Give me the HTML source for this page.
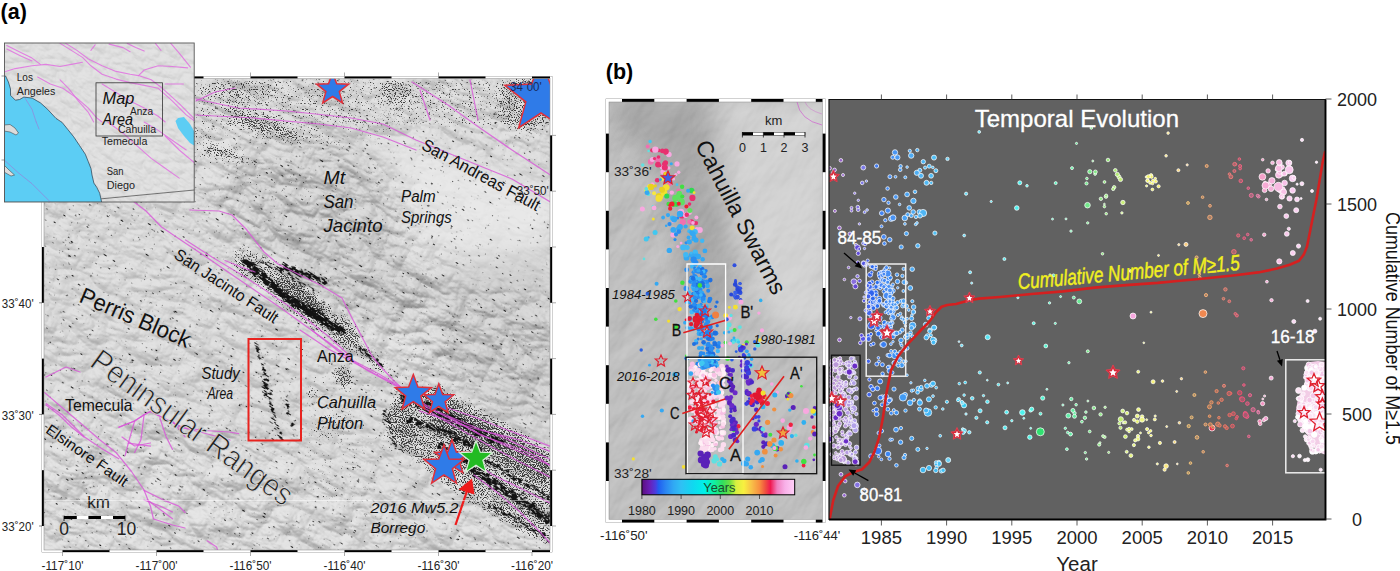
<!DOCTYPE html>
<html><head><meta charset="utf-8"><style>
html,body{margin:0;padding:0;background:#fff;width:1400px;height:571px;overflow:hidden}
svg{display:block}
text{font-family:"Liberation Sans",sans-serif}
</style></head><body>
<svg width="1400" height="571" viewBox="0 0 1400 571">
<defs><clipPath id="clipA"><rect x="44" y="78.5" width="506" height="471.5"/></clipPath><filter id="hsA" x="-400" y="-400" width="1800" height="1800" filterUnits="userSpaceOnUse" color-interpolation-filters="sRGB">
<feTurbulence type="turbulence" baseFrequency="0.02 0.035" numOctaves="5" seed="4" result="t"/>
<feColorMatrix in="t" type="matrix" values="0 0 0 0 0  0 0 0 0 0  0 0 0 0 0  1 0 0 0 0" result="ta"/>
<feDiffuseLighting in="ta" surfaceScale="-8" diffuseConstant="1" lighting-color="#fff">
<feDistantLight azimuth="45" elevation="55"/>
</feDiffuseLighting>
<feColorMatrix type="matrix" values="0.34 0 0 0 0.57  0.34 0 0 0 0.57  0.34 0 0 0 0.57  0 0 0 0 1"/>
</filter><filter id="speck" x="0" y="0" width="1400" height="571" filterUnits="userSpaceOnUse" color-interpolation-filters="sRGB">
<feGaussianBlur in="SourceAlpha" stdDeviation="3" result="d"/>
<feTurbulence type="fractalNoise" baseFrequency="0.85" numOctaves="1" seed="7" result="n0"/>
<feColorMatrix in="n0" type="matrix" values="0 0 0 0 0  0 0 0 0 0  0 0 0 0 0  1 0 0 0 0" result="n"/>
<feComposite in="d" in2="n" operator="arithmetic" k1="0" k2="5" k3="-10" k4="1.8" result="c"/>
<feColorMatrix in="c" type="matrix" values="0 0 0 0 0.18  0 0 0 0 0.18  0 0 0 0 0.18  0 0 0 0.9 0"/>
</filter><filter id="bl3" x="-50%" y="-50%" width="200%" height="200%"><feGaussianBlur stdDeviation="12"/></filter><mask id="mtnA" maskUnits="userSpaceOnUse" x="0" y="0" width="1400" height="571">
<rect x="0" y="0" width="1400" height="571" fill="#999"/>
<g filter="url(#bl3)">
<path d="M230,150 L330,140 L400,200 L420,260 L470,300 L550,300 L550,420 L430,380 L330,330 L260,270 L220,210Z" fill="#fff"/>
<path d="M375,140 L550,170 L550,290 L470,280 L430,240 L400,190Z" fill="#333"/>
<path d="M44,400 L120,380 L200,430 L300,460 L400,500 L550,520 L550,550 L44,550Z" fill="#ccc"/>
<path d="M44,220 L200,200 L230,280 L150,330 L44,320Z" fill="#888"/>
</g></mask><filter id="streak" x="-600" y="-600" width="2000" height="2000" filterUnits="userSpaceOnUse" color-interpolation-filters="sRGB">
<feGaussianBlur in="SourceAlpha" stdDeviation="1.5" result="d"/>
<feTurbulence type="fractalNoise" baseFrequency="0.2 0.7" numOctaves="2" seed="3" result="n0"/>
<feColorMatrix in="n0" type="matrix" values="0 0 0 0 0  0 0 0 0 0  0 0 0 0 0  1 0 0 0 0" result="n"/>
<feComposite in="d" in2="n" operator="arithmetic" k1="0" k2="4.5" k3="-10" k4="2.8" result="c"/>
<feColorMatrix in="c" type="matrix" values="0 0 0 0 0.07  0 0 0 0 0.07  0 0 0 0 0.07  0 0 0 1 0"/>
</filter><filter id="hsI" x="-400" y="-400" width="1800" height="1800" filterUnits="userSpaceOnUse" color-interpolation-filters="sRGB">
<feTurbulence type="turbulence" baseFrequency="0.05 0.08" numOctaves="4" seed="11" result="t"/>
<feColorMatrix in="t" type="matrix" values="0 0 0 0 0  0 0 0 0 0  0 0 0 0 0  1 0 0 0 0" result="ta"/>
<feDiffuseLighting in="ta" surfaceScale="-4" diffuseConstant="1" lighting-color="#fff">
<feDistantLight azimuth="45" elevation="60"/>
</feDiffuseLighting>
<feColorMatrix type="matrix" values="0.3 0 0 0 0.6  0.3 0 0 0 0.6  0.3 0 0 0 0.6  0 0 0 0 1"/>
</filter><clipPath id="clipI"><rect x="4.5" y="43" width="189.7" height="159"/></clipPath><filter id="hsB" x="-400" y="-400" width="1800" height="1800" filterUnits="userSpaceOnUse" color-interpolation-filters="sRGB">
<feTurbulence type="fractalNoise" baseFrequency="0.015 0.03" numOctaves="4" seed="21" result="t"/>
<feColorMatrix in="t" type="matrix" values="0 0 0 0 0  0 0 0 0 0  0 0 0 0 0  1 0 0 0 0" result="ta"/>
<feDiffuseLighting in="ta" surfaceScale="4" diffuseConstant="1" lighting-color="#fff">
<feDistantLight azimuth="135" elevation="50"/>
</feDiffuseLighting>
<feColorMatrix type="matrix" values="0.26 0 0 0 0.55  0.26 0 0 0 0.55  0.26 0 0 0 0.55  0 0 0 0 1"/>
</filter><clipPath id="clipB"><rect x="609" y="102" width="213.5" height="417.5"/></clipPath><filter id="blB" x="-50%" y="-50%" width="200%" height="200%"><feGaussianBlur stdDeviation="10"/></filter><linearGradient id="cbar" x1="0" x2="1" y1="0" y2="0"><stop offset="0.000" stop-color="#5b0f7e"/><stop offset="0.051" stop-color="#6a1fb8"/><stop offset="0.090" stop-color="#4a3ee0"/><stop offset="0.110" stop-color="#2060f0"/><stop offset="0.154" stop-color="#2a84f2"/><stop offset="0.205" stop-color="#30a8f4"/><stop offset="0.256" stop-color="#30c0f4"/><stop offset="0.333" stop-color="#10d8f0"/><stop offset="0.410" stop-color="#00f0e8"/><stop offset="0.474" stop-color="#10f0a0"/><stop offset="0.526" stop-color="#30e060"/><stop offset="0.577" stop-color="#70e040"/><stop offset="0.615" stop-color="#d8f040"/><stop offset="0.667" stop-color="#f8f040"/><stop offset="0.718" stop-color="#f8c048"/><stop offset="0.769" stop-color="#f89040"/><stop offset="0.808" stop-color="#f05040"/><stop offset="0.841" stop-color="#f01850"/><stop offset="0.885" stop-color="#f080c0"/><stop offset="0.936" stop-color="#f8b0e8"/><stop offset="1.000" stop-color="#ffd0f8"/></linearGradient><clipPath id="clipC"><rect x="829" y="99.5" width="496.5" height="420.0"/></clipPath></defs>
<g clip-path="url(#clipA)">
<rect x="44" y="78.5" width="506" height="471.5" fill="#dadada"/>
<g mask="url(#mtnA)"><g transform="rotate(28 300 300)"><rect x="-300" y="-300" width="1200" height="1200" filter="url(#hsA)"/></g></g>
<g filter="url(#bl3)" opacity="1"><path d="M250,150 L330,140 L380,160 L400,220 L425,280 L410,335 L330,315 L270,255 L232,195Z" fill="#000" fill-opacity="0.05"/><path d="M430,265 L552,250 L552,430 L470,400 L430,330Z" fill="#000" fill-opacity="0.06"/><path d="M385,135 L552,190 L552,245 L460,255 L425,240 L405,200Z" fill="#fff" fill-opacity="0.35"/></g>
<g filter="url(#speck)"><rect x="194" y="78" width="356" height="50" fill-opacity="0.38"/><rect x="194" y="128" width="200" height="20" fill-opacity="0.25"/><rect x="44" y="202" width="150" height="50" fill-opacity="0.06"/><ellipse cx="396" cy="92" rx="16" ry="13" fill-opacity="0.35"/><ellipse cx="525" cy="105" rx="28" ry="32" fill-opacity="0.35"/><ellipse cx="240" cy="90" rx="40" ry="12" fill-opacity="0.2"/><path d="M232.0,120.0 262.0,128.0 292.0,138.0" fill="none" stroke="#000" stroke-opacity="0.5" stroke-width="7" stroke-linecap="round" stroke-linejoin="round"/><path d="M206.0,152.0 240.0,157.0 258.0,162.0" fill="none" stroke="#000" stroke-opacity="0.45" stroke-width="7" stroke-linecap="round" stroke-linejoin="round"/><path d="M210.0,147.0 225.0,153.0 240.0,160.0" fill="none" stroke="#000" stroke-opacity="0.5" stroke-width="6" stroke-linecap="round" stroke-linejoin="round"/><path d="M233.0,108.0 250.0,120.0 265.0,134.0" fill="none" stroke="#000" stroke-opacity="0.4" stroke-width="10" stroke-linecap="round" stroke-linejoin="round"/><path d="M265.0,118.0 280.0,128.0 298.0,140.0" fill="none" stroke="#000" stroke-opacity="0.4" stroke-width="10" stroke-linecap="round" stroke-linejoin="round"/><path d="M190.0,140.0 250.0,175.0 330.0,205.0" fill="none" stroke="#000" stroke-opacity="0.22" stroke-width="30" stroke-linecap="round" stroke-linejoin="round"/><path d="M300.0,130.0 340.0,150.0 360.0,165.0" fill="none" stroke="#000" stroke-opacity="0.2" stroke-width="12" stroke-linecap="round" stroke-linejoin="round"/><path d="M246.0,262.0 276.0,281.0 296.0,300.0 318.0,316.0 345.0,334.0" fill="none" stroke="#000" stroke-opacity="0.55" stroke-width="32" stroke-linecap="round" stroke-linejoin="round"/><ellipse cx="300" cy="297" rx="30" ry="11" fill-opacity="0.5" transform="rotate(35 300 297)"/><path d="M340.0,330.0 360.0,350.0 378.0,366.0 400.0,385.0" fill="none" stroke="#000" stroke-opacity="0.3" stroke-width="20" stroke-linecap="round" stroke-linejoin="round"/><path d="M395,392 L440,386 L500,418 L552,448 L552,548 L505,525 L450,490 L400,450 L385,420Z" fill-opacity="0.62"/><path d="M420,392 L470,412 L520,440 L552,458 L552,490 L500,462 L440,435Z" fill-opacity="0.4"/><ellipse cx="395" cy="430" rx="20" ry="28" fill-opacity="0.3"/><path d="M357.0,347.0 370.0,357.0 382.0,368.0" fill="none" stroke="#000" stroke-opacity="0.4" stroke-width="10" stroke-linecap="round" stroke-linejoin="round"/><path d="M340.0,368.0 350.0,385.0" fill="none" stroke="#000" stroke-opacity="0.35" stroke-width="10" stroke-linecap="round" stroke-linejoin="round"/><ellipse cx="340" cy="460" rx="40" ry="50" fill-opacity="0.2"/><ellipse cx="440" cy="380" rx="30" ry="15" fill-opacity="0.15"/><rect x="249" y="340" width="51" height="100" fill-opacity="0.14"/><ellipse cx="300" cy="470" rx="70" ry="40" fill-opacity="0.06"/><ellipse cx="180" cy="470" rx="70" ry="50" fill-opacity="0.0"/><ellipse cx="150" cy="300" rx="60" ry="40" fill-opacity="0.06"/><ellipse cx="330" cy="400" rx="25" ry="40" fill-opacity="0.22"/><ellipse cx="344" cy="376" rx="10" ry="12" fill-opacity="0.5"/><ellipse cx="310" cy="392" rx="6" ry="6" fill-opacity="0.45"/><ellipse cx="305" cy="350" rx="8" ry="10" fill-opacity="0.35"/></g>
<g transform="rotate(33 300 300)" filter="url(#streak)"><g transform="rotate(-33 300 300)"><path d="M245.8,261.6 265.0,278.3 286.0,297.5 308.8,311.5 325.0,322.0 342.0,330.8" fill="none" stroke="#000" stroke-opacity="1.0" stroke-width="8" stroke-linecap="round" stroke-linejoin="round"/><path d="M282.5,266.0 307.0,274.8 324.6,281.8" fill="none" stroke="#000" stroke-opacity="0.95" stroke-width="6" stroke-linecap="round" stroke-linejoin="round"/><path d="M270.0,285.0 295.0,300.0 320.0,312.0" fill="none" stroke="#000" stroke-opacity="0.7" stroke-width="5" stroke-linecap="round" stroke-linejoin="round"/><path d="M250.0,272.0 280.0,292.0 310.0,312.0 335.0,328.0" fill="none" stroke="#000" stroke-opacity="0.65" stroke-width="4" stroke-linecap="round" stroke-linejoin="round"/><path d="M262.0,262.0 290.0,276.0 315.0,292.0" fill="none" stroke="#000" stroke-opacity="0.6" stroke-width="4" stroke-linecap="round" stroke-linejoin="round"/><path d="M405.0,398.0 440.0,412.0 470.0,428.0 500.0,442.0" fill="none" stroke="#000" stroke-opacity="0.75" stroke-width="10" stroke-linecap="round" stroke-linejoin="round"/><path d="M410.0,420.0 445.0,432.0 480.0,450.0" fill="none" stroke="#000" stroke-opacity="0.7" stroke-width="8" stroke-linecap="round" stroke-linejoin="round"/><path d="M440.0,445.0 470.0,465.0 500.0,485.0 530.0,505.0 552.0,520.0" fill="none" stroke="#000" stroke-opacity="0.7" stroke-width="7" stroke-linecap="round" stroke-linejoin="round"/><path d="M470.0,470.0 500.0,490.0 530.0,510.0 552.0,525.0" fill="none" stroke="#000" stroke-opacity="0.7" stroke-width="6" stroke-linecap="round" stroke-linejoin="round"/><path d="M482.0,458.0 510.0,475.0 540.0,492.0 552.0,500.0" fill="none" stroke="#000" stroke-opacity="0.7" stroke-width="5" stroke-linecap="round" stroke-linejoin="round"/><path d="M490.0,505.0 520.0,522.0 550.0,540.0" fill="none" stroke="#000" stroke-opacity="0.65" stroke-width="5" stroke-linecap="round" stroke-linejoin="round"/><path d="M360.0,348.0 372.0,358.0 382.0,366.0" fill="none" stroke="#000" stroke-opacity="0.7" stroke-width="5" stroke-linecap="round" stroke-linejoin="round"/><path d="M384.0,412.0 390.0,430.0 396.0,448.0" fill="none" stroke="#000" stroke-opacity="0.7" stroke-width="4" stroke-linecap="round" stroke-linejoin="round"/><path d="M256.0,344.0 262.0,360.0 266.0,378.0 270.0,400.0 276.0,425.0 282.0,440.0" fill="none" stroke="#000" stroke-opacity="0.72" stroke-width="3.5" stroke-linecap="round" stroke-linejoin="round"/><path d="M284.0,392.0 289.0,415.0 293.0,432.0" fill="none" stroke="#000" stroke-opacity="0.7" stroke-width="3" stroke-linecap="round" stroke-linejoin="round"/><path d="M262.0,375.0 266.0,395.0" fill="none" stroke="#000" stroke-opacity="0.8" stroke-width="3" stroke-linecap="round" stroke-linejoin="round"/></g></g>
<path d="M196.0,99.0 238.0,108.0 287.0,111.0 325.0,115.0 351.0,118.0 383.0,124.0 416.0,140.0 448.0,153.0 480.0,166.0 512.0,179.0 552.0,203.0" fill="none" stroke="#d855d8" stroke-width="1.25" stroke-opacity="0.8" stroke-linejoin="round" stroke-linecap="round" />
<path d="M412.0,82.0 448.0,105.0 480.0,128.0 512.0,150.0 552.0,176.0" fill="none" stroke="#d855d8" stroke-width="1.25" stroke-opacity="0.8" stroke-linejoin="round" stroke-linecap="round" />
<path d="M196.0,115.0 254.0,118.0 319.0,124.0 351.0,128.0 383.0,137.0 416.0,150.0" fill="none" stroke="#d855d8" stroke-width="1.25" stroke-opacity="0.8" stroke-linejoin="round" stroke-linecap="round" />
<path d="M190.0,210.0 219.0,211.0 232.0,215.0 246.0,229.0 264.0,252.0 278.0,264.0 298.0,274.0 322.0,286.0 342.0,298.0 352.0,318.0 362.0,337.0 372.0,356.0 380.0,366.0 394.0,381.0 411.0,396.0 428.0,408.0 453.0,418.0 477.0,428.0 502.0,437.0 552.0,460.0" fill="none" stroke="#d855d8" stroke-width="1.25" stroke-opacity="0.8" stroke-linejoin="round" stroke-linecap="round" />
<path d="M133.5,201.6 146.0,211.0 161.5,227.0 180.8,240.0 204.4,255.8 228.0,272.0 253.0,289.0 278.0,306.0 303.0,324.0 328.0,342.0 354.0,361.0 379.0,374.0 399.0,386.0 416.0,403.0 440.0,418.0 465.0,432.0 490.0,446.0 520.0,462.0 552.0,478.0" fill="none" stroke="#d855d8" stroke-width="1.25" stroke-opacity="0.8" stroke-linejoin="round" stroke-linecap="round" />
<path d="M185.5,240.0 212.3,257.3 240.7,274.2 268.0,292.0 290.0,307.0 305.0,318.0 328.0,336.0 350.0,356.0" fill="none" stroke="#d855d8" stroke-width="1.25" stroke-opacity="0.8" stroke-linejoin="round" stroke-linecap="round" />
<path d="M225.0,260.5 240.7,266.8 255.0,272.0" fill="none" stroke="#d855d8" stroke-width="1.25" stroke-opacity="0.8" stroke-linejoin="round" stroke-linecap="round" />
<path d="M448.0,408.0 477.0,418.0 502.0,428.0 526.0,437.0 552.0,447.0" fill="none" stroke="#d855d8" stroke-width="1.25" stroke-opacity="0.8" stroke-linejoin="round" stroke-linecap="round" />
<path d="M448.0,416.0 480.0,435.0 509.0,445.0 536.0,456.0 552.0,467.0" fill="none" stroke="#d855d8" stroke-width="1.25" stroke-opacity="0.8" stroke-linejoin="round" stroke-linecap="round" />
<path d="M472.0,461.0 493.0,475.0 520.0,488.0 546.0,501.0 552.0,504.0" fill="none" stroke="#d855d8" stroke-width="1.25" stroke-opacity="0.8" stroke-linejoin="round" stroke-linecap="round" />
<path d="M474.0,475.0 498.0,493.0 520.0,512.0 541.0,533.0 552.0,545.0" fill="none" stroke="#d855d8" stroke-width="1.25" stroke-opacity="0.8" stroke-linejoin="round" stroke-linecap="round" />
<path d="M44.7,392.6 59.0,405.0 78.0,421.0 100.0,440.0 116.0,452.5 131.5,471.5 144.0,490.0 150.4,506.0 153.5,519.0 172.5,525.0 185.0,528.0" fill="none" stroke="#d855d8" stroke-width="1.25" stroke-opacity="0.8" stroke-linejoin="round" stroke-linecap="round" />
<path d="M144.0,500.0 160.0,506.0 172.5,512.0" fill="none" stroke="#d855d8" stroke-width="1.25" stroke-opacity="0.8" stroke-linejoin="round" stroke-linecap="round" />
<path d="M46.0,405.0 59.0,415.0 71.5,427.0 84.0,437.0" fill="none" stroke="#d855d8" stroke-width="1.25" stroke-opacity="0.8" stroke-linejoin="round" stroke-linecap="round" />
<path d="M119.0,427.0 134.6,421.0 144.0,414.7 150.4,411.5 163.0,417.8 182.0,427.3 200.0,432.0 230.0,440.0" fill="none" stroke="#d855d8" stroke-width="1.25" stroke-opacity="0.8" stroke-linejoin="round" stroke-linecap="round" />
<path d="M122.0,437.0 134.6,446.0 150.4,443.0" fill="none" stroke="#d855d8" stroke-width="1.25" stroke-opacity="0.8" stroke-linejoin="round" stroke-linecap="round" />
<path d="M46.0,377.0 66.0,367.0 80.0,372.0" fill="none" stroke="#d855d8" stroke-width="1.25" stroke-opacity="0.8" stroke-linejoin="round" stroke-linecap="round" />
<path d="M420.0,90.0 430.0,120.0" fill="none" stroke="#d855d8" stroke-width="1.25" stroke-opacity="0.8" stroke-linejoin="round" stroke-linecap="round" />
<path d="M470.0,80.0 478.0,120.0" fill="none" stroke="#d855d8" stroke-width="1.25" stroke-opacity="0.8" stroke-linejoin="round" stroke-linecap="round" />
<path d="M196.0,101.0 215.0,92.0 235.0,88.0" fill="none" stroke="#d855d8" stroke-width="1.25" stroke-opacity="0.8" stroke-linejoin="round" stroke-linecap="round" />
<path d="M300.0,330.0 328.9,349.3 357.8,364.7 386.7,380.0 400.0,387.8 434.9,410.9 480.0,434.0 520.0,452.0 552.0,466.0" fill="none" stroke="#d855d8" stroke-width="1.25" stroke-opacity="0.8" stroke-linejoin="round" stroke-linecap="round" />
<path d="M311.6,330.0 338.5,351.2 367.4,370.5 396.4,386.0" fill="none" stroke="#d855d8" stroke-width="1.25" stroke-opacity="0.8" stroke-linejoin="round" stroke-linecap="round" />
<path d="M419.5,410.9 454.0,422.5 480.0,430.0 520.0,440.0 552.0,452.0" fill="none" stroke="#d855d8" stroke-width="1.25" stroke-opacity="0.8" stroke-linejoin="round" stroke-linecap="round" />
<path d="M46.3,403.7 62.1,414.7 84.2,436.8 103.1,449.4 118.8,458.8" fill="none" stroke="#d855d8" stroke-width="1.25" stroke-opacity="0.8" stroke-linejoin="round" stroke-linecap="round" />
<path d="M118.8,427.3 134.6,421.0 144.1,414.7 150.4,411.5 163.0,417.8 181.9,427.3 204.0,430.5 229.2,432.0 238.7,433.6" fill="none" stroke="#d855d8" stroke-width="1.25" stroke-opacity="0.8" stroke-linejoin="round" stroke-linecap="round" />
<path d="M134.6,421.0 128.3,443.1 125.1,455.7" fill="none" stroke="#d855d8" stroke-width="1.25" stroke-opacity="0.8" stroke-linejoin="round" stroke-linecap="round" />
<path d="M144.1,414.7 140.9,439.9 134.6,452.5" fill="none" stroke="#d855d8" stroke-width="1.25" stroke-opacity="0.8" stroke-linejoin="round" stroke-linecap="round" />
<path d="M159.8,417.8 166.1,436.8 172.5,449.4" fill="none" stroke="#d855d8" stroke-width="1.25" stroke-opacity="0.8" stroke-linejoin="round" stroke-linecap="round" />
<path d="M172.5,421.0 185.1,436.8" fill="none" stroke="#d855d8" stroke-width="1.25" stroke-opacity="0.8" stroke-linejoin="round" stroke-linecap="round" />
<path d="M128.3,443.1 150.4,446.2" fill="none" stroke="#d855d8" stroke-width="1.25" stroke-opacity="0.8" stroke-linejoin="round" stroke-linecap="round" />
<path d="M144.1,490.4 163.0,499.8 178.8,506.1 185.1,512.5" fill="none" stroke="#d855d8" stroke-width="1.25" stroke-opacity="0.8" stroke-linejoin="round" stroke-linecap="round" />
<path d="M147.2,499.8 159.8,509.3 172.5,518.8" fill="none" stroke="#d855d8" stroke-width="1.25" stroke-opacity="0.8" stroke-linejoin="round" stroke-linecap="round" />
<path d="M207.1,540.8 216.6,547.1 219.8,556.6" fill="none" stroke="#d855d8" stroke-width="1.25" stroke-opacity="0.8" stroke-linejoin="round" stroke-linecap="round" />
<rect x="248.5" y="339" width="52.5" height="101.5" fill="none" stroke="#e8231f" stroke-width="2"/>
<path d="M332.6,72.6 336.7,83.7 348.6,84.2 339.3,91.6 342.5,103.0 332.6,96.5 322.7,103.0 325.9,91.6 316.6,84.2 328.5,83.7Z" fill="#2f7be8" stroke="#e0303a" stroke-width="1.5" />
<path d="M541.0,59.0 550.4,84.1 577.1,85.3 556.2,101.9 563.3,127.7 541.0,113.0 518.7,127.7 525.8,101.9 504.9,85.3 531.6,84.1Z" fill="#2f7be8" stroke="#e0303a" stroke-width="1.5" />
<text x="541.7" y="91.0" font-size="12.5" fill="#1a2a5a" text-anchor="end" textLength="31.7" lengthAdjust="spacingAndGlyphs" >34˚00'</text>
<path d="M413.3,374.6 418.0,387.1 431.4,387.7 420.9,396.1 424.5,409.0 413.3,401.6 402.1,409.0 405.7,396.1 395.2,387.7 408.6,387.1Z" fill="#2f7be8" stroke="#e0303a" stroke-width="1.5" />
<path d="M438.8,384.0 442.7,394.4 453.7,394.8 445.1,401.7 448.0,412.4 438.8,406.3 429.6,412.4 432.5,401.7 423.9,394.8 434.9,394.4Z" fill="#2f7be8" stroke="#e0303a" stroke-width="1.5" />
<path d="M452.0,440.0 456.4,451.9 469.1,452.4 459.2,460.3 462.6,472.6 452.0,465.6 441.4,472.6 444.8,460.3 434.9,452.4 447.6,451.9Z" fill="#2f7be8" stroke="#e0303a" stroke-width="1.5" />
<path d="M444.0,445.0 449.2,458.9 464.0,459.5 452.4,468.7 456.3,483.0 444.0,474.8 431.7,483.0 435.6,468.7 424.0,459.5 438.8,458.9Z" fill="#2f7be8" stroke="#e0303a" stroke-width="1.5" />
<path d="M476.0,440.7 480.3,452.1 492.5,452.7 482.9,460.2 486.2,472.0 476.0,465.3 465.8,472.0 469.1,460.2 459.5,452.7 471.7,452.1Z" fill="#22bb22" stroke="#d8f0d8" stroke-width="1.2" />
<line x1="455.5" y1="525" x2="468" y2="488" stroke="#ee1c1c" stroke-width="2.2"/>
<path d="M472,478.5 L474.5,494.5 L458.5,489.5Z" fill="#ee1c1c"/>
<text x="323.5" y="184.0" font-size="19" fill="#111" font-style="italic" textLength="21.6" lengthAdjust="spacingAndGlyphs" >Mt</text>
<text x="323.5" y="207.7" font-size="19" fill="#111" font-style="italic" textLength="30.0" lengthAdjust="spacingAndGlyphs" >San</text>
<text x="323.5" y="232.0" font-size="19" fill="#111" font-style="italic" textLength="59.0" lengthAdjust="spacingAndGlyphs" >Jacinto</text>
<text x="401.0" y="201.7" font-size="16" fill="#111" font-style="italic" textLength="34.6" lengthAdjust="spacingAndGlyphs" >Palm</text>
<text x="401.0" y="222.6" font-size="16" fill="#111" font-style="italic" textLength="50.7" lengthAdjust="spacingAndGlyphs" >Springs</text>
<text x="420.4" y="148.5" font-size="17" fill="#111" textLength="132.0" lengthAdjust="spacingAndGlyphs" transform="rotate(28.47 420.4 148.5)" >San Andreas Fault</text>
<text x="548.8" y="194.5" font-size="12.5" fill="#222" text-anchor="end" textLength="32.0" lengthAdjust="spacingAndGlyphs" >33˚50'</text>
<text x="173.0" y="257.5" font-size="16.5" fill="#111" textLength="120.9" lengthAdjust="spacingAndGlyphs" transform="rotate(33.36 173.0 257.5)" >San Jacinto Fault</text>
<text x="78.0" y="301.6" font-size="23" fill="#111" textLength="118.0" lengthAdjust="spacingAndGlyphs" transform="rotate(23.15 78.0 301.6)" >Perris Block</text>
<text x="88.3" y="365.5" font-size="32" fill="#222" textLength="241.3" lengthAdjust="spacingAndGlyphs" transform="rotate(35.93 88.3 365.5)" stroke="#d6d6d6" stroke-width="0.9" paint-order="normal">Peninsular Ranges</text>
<text x="201.5" y="378.8" font-size="16" fill="#111" font-style="italic" textLength="38.2" lengthAdjust="spacingAndGlyphs" >Study</text>
<text x="207.4" y="398.8" font-size="16" fill="#111" font-style="italic" textLength="25.6" lengthAdjust="spacingAndGlyphs" >Area</text>
<text x="65.0" y="411.4" font-size="16" fill="#111" textLength="67.5" lengthAdjust="spacingAndGlyphs" >Temecula</text>
<text x="44.7" y="432.0" font-size="15" fill="#111" textLength="96.3" lengthAdjust="spacingAndGlyphs" transform="rotate(34.98 44.7 432.0)" >Elsinore Fault</text>
<text x="317.0" y="361.7" font-size="16" fill="#111" textLength="36.6" lengthAdjust="spacingAndGlyphs" >Anza</text>
<text x="317.0" y="408.2" font-size="16.5" fill="#111" font-style="italic" textLength="59.0" lengthAdjust="spacingAndGlyphs" >Cahuilla</text>
<text x="317.0" y="429.0" font-size="16.5" fill="#111" font-style="italic" textLength="46.0" lengthAdjust="spacingAndGlyphs" >Pluton</text>
<text x="370.6" y="513.2" font-size="15.5" fill="#111" font-style="italic" textLength="88.0" lengthAdjust="spacingAndGlyphs" >2016 Mw5.2</text>
<text x="370.6" y="533.2" font-size="15.5" fill="#111" font-style="italic" textLength="54.6" lengthAdjust="spacingAndGlyphs" >Borrego</text>
<text x="87.3" y="507.9" font-size="16" fill="#222" textLength="22.7" lengthAdjust="spacingAndGlyphs" >km</text>
<rect x="64" y="516" width="61" height="3" fill="#fff"/>
<rect x="64" y="516" width="12.8" height="3"/>
<rect x="88.4" y="516" width="12.6" height="3"/>
<rect x="113" y="516" width="12.0" height="3"/>
<path d="M64,515.5 V521 M125,515.5 V521" stroke="#000" stroke-width="0.8"/>
<text x="64.0" y="535.0" font-size="17.5" fill="#222" text-anchor="middle" >0</text>
<text x="126.5" y="535.0" font-size="17.5" fill="#222" text-anchor="middle" >10</text>
<line x1="44" y1="500.5" x2="550" y2="500.5" stroke="#fff" stroke-opacity="0.6" stroke-width="0.8"/>
</g>
<rect x="42" y="76.5" width="510" height="475.5" fill="none" stroke="#666" stroke-width="0.6"/>
<rect x="43.0" y="77.5" width="508" height="473.5" fill="none" stroke="#fff" stroke-width="2"/>
<rect x="62.5" y="76.5" width="47.0" height="2"/>
<rect x="62.5" y="550" width="47.0" height="2"/>
<rect x="156.5" y="76.5" width="47.0" height="2"/>
<rect x="156.5" y="550" width="47.0" height="2"/>
<rect x="250.5" y="76.5" width="47.0" height="2"/>
<rect x="250.5" y="550" width="47.0" height="2"/>
<rect x="344.5" y="76.5" width="47.0" height="2"/>
<rect x="344.5" y="550" width="47.0" height="2"/>
<rect x="438.5" y="76.5" width="47.0" height="2"/>
<rect x="438.5" y="550" width="47.0" height="2"/>
<rect x="532" y="76.5" width="18.0" height="2"/>
<rect x="532" y="550" width="18.0" height="2"/>
<rect x="42" y="135.4" width="2" height="55.8"/>
<rect x="550" y="135.4" width="2" height="55.8"/>
<rect x="42" y="247" width="2" height="55.8"/>
<rect x="550" y="247" width="2" height="55.8"/>
<rect x="42" y="358.6" width="2" height="55.8"/>
<rect x="550" y="358.6" width="2" height="55.8"/>
<rect x="42" y="470.2" width="2" height="55.8"/>
<rect x="550" y="470.2" width="2" height="55.8"/>
<rect x="44" y="78.5" width="506" height="471.5" fill="none" stroke="#888" stroke-width="0.5"/>
<path d="M250.5,72.5 V76.5 M344.5,72.5 V76.5 M438.5,72.5 V76.5 M62.5,552 V556 M156.5,552 V556 M250.5,552 V556 M344.5,552 V556 M438.5,552 V556 M532,552 V556 M552,135.4 H556 M552,191.2 H556 M552,247 H556 M552,302.8 H556 M552,358.6 H556 M552,414.4 H556 M552,470.2 H556 M552,526 H556" stroke="#888" stroke-width="0.7"/>
<text x="33.6" y="308.2" font-size="12.5" fill="#222" text-anchor="end" textLength="31.8" lengthAdjust="spacingAndGlyphs" >33˚40'</text>
<line x1="39" y1="302.8" x2="42" y2="302.8" stroke="#333" stroke-width="0.6"/>
<text x="33.6" y="419.8" font-size="12.5" fill="#222" text-anchor="end" textLength="31.8" lengthAdjust="spacingAndGlyphs" >33˚30'</text>
<line x1="39" y1="414.4" x2="42" y2="414.4" stroke="#333" stroke-width="0.6"/>
<text x="33.6" y="531.4" font-size="12.5" fill="#222" text-anchor="end" textLength="31.8" lengthAdjust="spacingAndGlyphs" >33˚20'</text>
<line x1="39" y1="526" x2="42" y2="526" stroke="#333" stroke-width="0.6"/>
<text x="62.5" y="570.0" font-size="12.5" fill="#222" text-anchor="middle" textLength="42.0" lengthAdjust="spacingAndGlyphs" >-117˚10'</text>
<text x="156.5" y="570.0" font-size="12.5" fill="#222" text-anchor="middle" textLength="42.0" lengthAdjust="spacingAndGlyphs" >-117˚00'</text>
<text x="250.5" y="570.0" font-size="12.5" fill="#222" text-anchor="middle" textLength="42.0" lengthAdjust="spacingAndGlyphs" >-116˚50'</text>
<text x="344.5" y="570.0" font-size="12.5" fill="#222" text-anchor="middle" textLength="42.0" lengthAdjust="spacingAndGlyphs" >-116˚40'</text>
<text x="438.5" y="570.0" font-size="12.5" fill="#222" text-anchor="middle" textLength="42.0" lengthAdjust="spacingAndGlyphs" >-116˚30'</text>
<text x="532.0" y="570.0" font-size="12.5" fill="#222" text-anchor="middle" textLength="42.0" lengthAdjust="spacingAndGlyphs" >-116˚20'</text>
<text x="0.6" y="18.6" font-size="21.5" fill="#000" font-weight="bold" >(a)</text>
<g clip-path="url(#clipI)">
<rect x="4.5" y="43" width="189.7" height="159" fill="#e2e2e2"/>
<g opacity="0.35"><g transform="rotate(30 100 120)"><rect x="-100" y="-100" width="400" height="400" filter="url(#hsI)"/></g></g>
<path d="M4.5,76.0 5.6,76.0 8.4,82.0 10.5,89.0 10.5,95.3 15.4,100.2 19.6,99.5 23.8,97.1 32.2,98.1 40.6,103.0 47.6,109.3 56.0,118.4 62.1,122.4 67.9,129.6 73.7,136.8 79.5,145.5 85.3,154.2 88.2,161.4 91.0,168.6 92.0,175.0 93.9,183.1 96.8,187.4 99.7,193.2 101.7,202.4 4.5,202.4Z" fill="#5ccdf4" stroke="#2a3a4a" stroke-width="0.7"/>
<path d="M4.0,125.0 10.0,124.5 15.0,128.0 18.5,133.0 16.0,135.0 10.0,132.0 4.0,131.0Z" fill="#dcdcdc" stroke="#333" stroke-width="0.5"/>
<path d="M4.0,165.0 9.0,170.0 14.5,175.0 11.0,176.0 4.0,172.0Z" fill="#dcdcdc" stroke="#333" stroke-width="0.5"/>
<path d="M178.0,118.0 184.0,117.0 190.0,124.0 194.0,131.0 195.0,146.0 190.0,143.0 184.0,136.0 178.0,128.0 175.5,121.0Z" fill="#5ccdf4"/>
<path d="M101.5,198.8 194.5,190.0" fill="none" stroke="#444" stroke-width="0.7" stroke-opacity="1" stroke-linejoin="round" stroke-linecap="round" />
<path d="M4.0,72.1 15.2,68.6 32.0,65.8 46.0,64.4 60.1,66.5 71.3,64.4 82.5,62.3" fill="none" stroke="#e070e0" stroke-width="1.1" stroke-opacity="0.85" stroke-linejoin="round" stroke-linecap="round" />
<path d="M6.8,45.5 20.8,52.5 32.0,58.1 40.4,64.4" fill="none" stroke="#e070e0" stroke-width="1.1" stroke-opacity="0.85" stroke-linejoin="round" stroke-linecap="round" />
<path d="M6.8,49.0 20.8,56.0 32.0,60.9" fill="none" stroke="#e070e0" stroke-width="1.1" stroke-opacity="0.85" stroke-linejoin="round" stroke-linecap="round" />
<path d="M60.1,43.4 71.3,50.4 82.5,57.4 90.9,65.8 102.1,74.2 116.1,79.1 130.1,82.6 144.2,85.4 158.2,88.3 172.2,100.9 186.2,114.9 196.0,122.0" fill="none" stroke="#e070e0" stroke-width="1.1" stroke-opacity="0.85" stroke-linejoin="round" stroke-linecap="round" />
<path d="M65.7,43.4 76.9,50.4 88.1,58.8 102.1,65.8 116.1,71.4 130.1,74.2 138.5,75.6 151.2,79.8 162.4,88.3 179.2,103.7 190.4,114.9 196.0,120.5" fill="none" stroke="#e070e0" stroke-width="1.1" stroke-opacity="0.85" stroke-linejoin="round" stroke-linecap="round" />
<path d="M138.5,75.6 144.2,70.0 158.2,65.8 172.2,66.5 187.6,67.9" fill="none" stroke="#e070e0" stroke-width="1.1" stroke-opacity="0.85" stroke-linejoin="round" stroke-linecap="round" />
<path d="M90.9,50.4 95.1,44.8" fill="none" stroke="#e070e0" stroke-width="1.1" stroke-opacity="0.85" stroke-linejoin="round" stroke-linecap="round" />
<path d="M109.1,44.1 123.1,47.6 130.1,51.8" fill="none" stroke="#e070e0" stroke-width="1.1" stroke-opacity="0.85" stroke-linejoin="round" stroke-linecap="round" />
<path d="M127.3,43.4 135.7,47.6 144.2,51.1" fill="none" stroke="#e070e0" stroke-width="1.1" stroke-opacity="0.85" stroke-linejoin="round" stroke-linecap="round" />
<path d="M155.4,43.4 161.0,50.4" fill="none" stroke="#e070e0" stroke-width="1.1" stroke-opacity="0.85" stroke-linejoin="round" stroke-linecap="round" />
<path d="M170.8,43.4 179.2,53.2 190.4,67.2" fill="none" stroke="#e070e0" stroke-width="1.1" stroke-opacity="0.85" stroke-linejoin="round" stroke-linecap="round" />
<path d="M37.6,77.0 50.3,84.0 62.9,88.3 76.9,98.1 88.1,107.9 96.5,117.7 102.1,122.0" fill="none" stroke="#e070e0" stroke-width="1.1" stroke-opacity="0.85" stroke-linejoin="round" stroke-linecap="round" />
<path d="M60.1,79.8 68.5,88.3 78.3,100.9 88.1,112.1 93.7,122.0" fill="none" stroke="#e070e0" stroke-width="1.1" stroke-opacity="0.85" stroke-linejoin="round" stroke-linecap="round" />
<path d="M165.2,84.0 183.4,84.0" fill="none" stroke="#e070e0" stroke-width="1.1" stroke-opacity="0.85" stroke-linejoin="round" stroke-linecap="round" />
<path d="M102.1,84.0 116.1,92.5 130.1,100.9 144.2,107.9 158.2,116.3 165.2,122.0" fill="none" stroke="#e070e0" stroke-width="1.1" stroke-opacity="0.85" stroke-linejoin="round" stroke-linecap="round" />
<path d="M107.7,122.0 123.1,133.2 137.1,145.8 151.2,158.4 165.2,168.3 179.2,178.1" fill="none" stroke="#e070e0" stroke-width="1.1" stroke-opacity="0.85" stroke-linejoin="round" stroke-linecap="round" />
<path d="M144.2,122.0 158.2,130.4 172.2,140.2 186.2,150.0" fill="none" stroke="#e070e0" stroke-width="1.1" stroke-opacity="0.85" stroke-linejoin="round" stroke-linecap="round" />
<path d="M165.2,136.0 179.2,150.0 196.0,164.0" fill="none" stroke="#e070e0" stroke-width="1.1" stroke-opacity="0.85" stroke-linejoin="round" stroke-linecap="round" />
<path d="M4.0,159.8 18.0,172.5 32.0,183.7 46.0,197.7 50.3,202.0" fill="none" stroke="#9a7ad8" stroke-width="0.9" stroke-opacity="0.7" stroke-linejoin="round" stroke-linecap="round" />
<path d="M25.0,98.1 32.0,109.3 36.2,122.0" fill="none" stroke="#9a7ad8" stroke-width="0.9" stroke-opacity="0.7" stroke-linejoin="round" stroke-linecap="round" />
<path d="M36.2,122.0 39.0,129.0" fill="none" stroke="#9a7ad8" stroke-width="0.9" stroke-opacity="0.7" stroke-linejoin="round" stroke-linecap="round" />
<rect x="96" y="82.8" width="66.4" height="53.2" fill="none" stroke="#333" stroke-width="0.8"/>
<text x="16.8" y="80.9" font-size="10" fill="#222" textLength="16.1" lengthAdjust="spacingAndGlyphs" >Los</text>
<text x="16.8" y="94.6" font-size="10" fill="#222" textLength="38.5" lengthAdjust="spacingAndGlyphs" >Angeles</text>
<text x="102.6" y="104.0" font-size="16" fill="#111" font-style="italic" textLength="31.8" lengthAdjust="spacingAndGlyphs" >Map</text>
<text x="102.6" y="124.7" font-size="16" fill="#111" font-style="italic" textLength="30.4" lengthAdjust="spacingAndGlyphs" >Area</text>
<text x="130.0" y="115.0" font-size="10" fill="#222" textLength="23.0" lengthAdjust="spacingAndGlyphs" >Anza</text>
<text x="118.0" y="133.0" font-size="10" fill="#222" textLength="38.0" lengthAdjust="spacingAndGlyphs" >Cahuilla</text>
<text x="101.7" y="144.6" font-size="10" fill="#222" textLength="45.7" lengthAdjust="spacingAndGlyphs" >Temecula</text>
<text x="106.8" y="175.2" font-size="10" fill="#222" textLength="16.8" lengthAdjust="spacingAndGlyphs" >San</text>
<text x="106.8" y="189.4" font-size="10" fill="#222" textLength="28.3" lengthAdjust="spacingAndGlyphs" >Diego</text>
</g>
<rect x="4.5" y="43" width="189.7" height="159" fill="none" stroke="#555" stroke-width="0.9"/>
<path d="M1.5,76 H4.5 M1.5,160 H4.5" stroke="#555" stroke-width="0.6"/>
<g clip-path="url(#clipB)">
<rect x="609" y="102" width="213.5" height="417.5" fill="#bcbcbc"/>
<g opacity="0.85"><g transform="rotate(-60 715 310)"><rect x="400" y="0" width="700" height="700" filter="url(#hsB)"/></g></g>
<g filter="url(#blB)"><path d="M725,100 L830,100 L830,340 L770,320 L745,250 L730,170Z" fill="#e8e8e8" fill-opacity="0.45"/><path d="M600,95 L705,95 L712,170 L728,241 L735,300 L705,330 L682,300 L675,241 L655,175 L620,125Z" fill="#777" fill-opacity="0.3"/></g>
<path d="M797,102 Q800,120 822,125" fill="none" stroke="#d060d0" stroke-width="1" stroke-opacity="0.7"/>
<path d="M805,102 Q808,110 822,114" fill="none" stroke="#d060d0" stroke-width="0.8" stroke-opacity="0.5"/>
<circle cx="657.2" cy="180.3" r="2.3" fill="#e83070"/>
<circle cx="691.5" cy="221.9" r="2.6" fill="#e83070"/>
<circle cx="689.6" cy="212.6" r="2.4" fill="#f8a8e0"/>
<circle cx="681.9" cy="215.5" r="3.1" fill="#e83070"/>
<circle cx="676.7" cy="198.2" r="2.9" fill="#f8a8e0"/>
<circle cx="668.9" cy="154.5" r="2.8" fill="#f8a8e0"/>
<circle cx="663.0" cy="171.9" r="2.6" fill="#f8a8e0"/>
<circle cx="669.7" cy="183.8" r="2.2" fill="#f070b0"/>
<circle cx="678.4" cy="190.6" r="2.0" fill="#f070b0"/>
<circle cx="661.8" cy="167.0" r="2.2" fill="#f8a8e0"/>
<circle cx="673.3" cy="221.1" r="1.9" fill="#f8a8e0"/>
<circle cx="695.9" cy="223.1" r="2.2" fill="#e83070"/>
<circle cx="679.7" cy="197.4" r="1.6" fill="#f070b0"/>
<circle cx="678.7" cy="172.3" r="1.7" fill="#f8a8e0"/>
<circle cx="689.5" cy="204.1" r="1.8" fill="#e83070"/>
<circle cx="671.8" cy="192.6" r="2.2" fill="#f8a8e0"/>
<circle cx="652.5" cy="184.2" r="2.0" fill="#f8a8e0"/>
<circle cx="692.9" cy="222.8" r="1.9" fill="#f8a8e0"/>
<circle cx="675.8" cy="174.6" r="1.6" fill="#f8a8e0"/>
<circle cx="657.8" cy="159.5" r="2.9" fill="#f070b0"/>
<circle cx="673.7" cy="179.0" r="1.5" fill="#f8a8e0"/>
<circle cx="666.1" cy="175.2" r="2.9" fill="#e83070"/>
<circle cx="650.8" cy="161.7" r="3.0" fill="#f070b0"/>
<circle cx="685.6" cy="215.3" r="2.7" fill="#f8a8e0"/>
<circle cx="666.7" cy="178.2" r="1.7" fill="#f8a8e0"/>
<circle cx="658.8" cy="150.4" r="1.9" fill="#e83070"/>
<circle cx="681.0" cy="211.8" r="3.1" fill="#f8a8e0"/>
<circle cx="696.8" cy="229.0" r="2.0" fill="#f8a8e0"/>
<circle cx="689.4" cy="221.8" r="2.2" fill="#f070b0"/>
<circle cx="668.8" cy="168.0" r="1.7" fill="#f8a8e0"/>
<circle cx="652.3" cy="159.6" r="2.5" fill="#f8a8e0"/>
<circle cx="682.8" cy="222.2" r="3.1" fill="#f070b0"/>
<circle cx="647.7" cy="146.6" r="2.0" fill="#f070b0"/>
<circle cx="699.8" cy="230.0" r="3.0" fill="#f8a8e0"/>
<circle cx="679.2" cy="200.4" r="2.1" fill="#f070b0"/>
<circle cx="692.4" cy="197.9" r="3.1" fill="#e83070"/>
<circle cx="652.2" cy="150.3" r="2.1" fill="#e83070"/>
<circle cx="655.3" cy="149.6" r="3.2" fill="#f8a8e0"/>
<circle cx="686.8" cy="214.7" r="2.2" fill="#e83070"/>
<circle cx="696.4" cy="217.6" r="2.0" fill="#f8a8e0"/>
<circle cx="661.1" cy="188.7" r="1.8" fill="#e8d020"/>
<circle cx="661.6" cy="179.3" r="2.1" fill="#f8e840"/>
<circle cx="665.1" cy="188.4" r="2.7" fill="#e8d020"/>
<circle cx="650.0" cy="186.8" r="2.8" fill="#f8e840"/>
<circle cx="648.2" cy="192.5" r="2.3" fill="#f8e840"/>
<circle cx="660.0" cy="196.5" r="3.2" fill="#f4e030"/>
<circle cx="654.1" cy="193.3" r="2.0" fill="#f8e840"/>
<circle cx="663.7" cy="192.2" r="2.9" fill="#f4e030"/>
<circle cx="664.6" cy="186.5" r="1.8" fill="#f4e030"/>
<circle cx="646.5" cy="190.4" r="2.3" fill="#f8e840"/>
<circle cx="651.1" cy="186.9" r="3.1" fill="#e8d020"/>
<circle cx="666.5" cy="187.3" r="3.1" fill="#f4e030"/>
<circle cx="658.6" cy="196.1" r="2.9" fill="#e8d020"/>
<circle cx="655.3" cy="185.8" r="1.6" fill="#e8d020"/>
<circle cx="664.3" cy="193.0" r="3.0" fill="#f4e030"/>
<circle cx="658.9" cy="198.4" r="3.4" fill="#f4e030"/>
<circle cx="662.2" cy="189.9" r="2.8" fill="#e8d020"/>
<circle cx="665.3" cy="173.8" r="2.0" fill="#e8d020"/>
<circle cx="680.1" cy="197.2" r="1.8" fill="#60e060"/>
<circle cx="668.6" cy="203.9" r="2.2" fill="#40e040"/>
<circle cx="679.3" cy="193.4" r="2.7" fill="#60e060"/>
<circle cx="681.5" cy="201.9" r="3.4" fill="#60e060"/>
<circle cx="689.9" cy="210.5" r="2.5" fill="#60e060"/>
<circle cx="674.2" cy="203.4" r="2.5" fill="#40e040"/>
<circle cx="666.8" cy="196.0" r="2.6" fill="#30d850"/>
<circle cx="675.6" cy="198.1" r="3.4" fill="#60e060"/>
<circle cx="682.1" cy="186.8" r="2.2" fill="#40e040"/>
<circle cx="691.6" cy="190.5" r="2.8" fill="#30d850"/>
<circle cx="679.3" cy="196.0" r="3.3" fill="#60e060"/>
<circle cx="676.6" cy="204.4" r="2.4" fill="#30d850"/>
<circle cx="673.8" cy="204.7" r="2.2" fill="#40e040"/>
<circle cx="682.3" cy="196.5" r="2.1" fill="#40e040"/>
<circle cx="659.9" cy="165.6" r="1.7" fill="#e83070"/>
<circle cx="665.5" cy="162.8" r="2.6" fill="#e83070"/>
<circle cx="665.9" cy="151.5" r="2.9" fill="#e83070"/>
<circle cx="654.5" cy="158.6" r="1.6" fill="#e83070"/>
<circle cx="663.8" cy="164.0" r="1.9" fill="#e83070"/>
<circle cx="662.3" cy="150.9" r="2.3" fill="#e83070"/>
<circle cx="665.5" cy="152.7" r="2.0" fill="#e83070"/>
<circle cx="658.0" cy="164.6" r="2.9" fill="#e83070"/>
<circle cx="664.8" cy="167.4" r="3.0" fill="#e83070"/>
<circle cx="658.5" cy="157.0" r="1.8" fill="#e83070"/>
<circle cx="671.4" cy="204.1" r="2.1" fill="#f02030"/>
<circle cx="686.4" cy="206.6" r="2.0" fill="#f02030"/>
<circle cx="670.2" cy="208.7" r="2.1" fill="#f02030"/>
<circle cx="669.9" cy="205.3" r="1.6" fill="#f02030"/>
<circle cx="672.0" cy="204.1" r="2.5" fill="#f02030"/>
<circle cx="678.8" cy="203.7" r="2.0" fill="#f02030"/>
<circle cx="648.3" cy="194.2" r="1.9" fill="#60e0e0"/>
<circle cx="647.1" cy="192.4" r="2.5" fill="#35a8f2"/>
<circle cx="648.4" cy="237.4" r="1.2" fill="#35a8f2"/>
<circle cx="650.1" cy="141.5" r="1.7" fill="#40c8f0"/>
<circle cx="663.1" cy="217.5" r="1.9" fill="#35a8f2"/>
<circle cx="677.8" cy="246.5" r="1.6" fill="#f8a8e0"/>
<circle cx="652.9" cy="206.3" r="1.2" fill="#60e0e0"/>
<circle cx="681.1" cy="243.1" r="1.4" fill="#f8a8e0"/>
<circle cx="653.3" cy="218.9" r="1.5" fill="#f4e030"/>
<circle cx="654.1" cy="207.9" r="2.4" fill="#f8a8e0"/>
<circle cx="655.1" cy="232.6" r="2.5" fill="#40c8f0"/>
<circle cx="660.5" cy="179.4" r="1.5" fill="#35a8f2"/>
<circle cx="704.9" cy="250.9" r="2.4" fill="#35a8f2"/>
<circle cx="648.6" cy="151.0" r="1.3" fill="#60e0e0"/>
<circle cx="694.1" cy="192.7" r="1.4" fill="#f4e030"/>
<circle cx="666.2" cy="225.7" r="1.3" fill="#35a8f2"/>
<circle cx="677.0" cy="184.7" r="1.4" fill="#40c8f0"/>
<circle cx="672.9" cy="234.8" r="2.6" fill="#f8a8e0"/>
<circle cx="694.1" cy="240.4" r="1.3" fill="#60e0e0"/>
<circle cx="642.4" cy="209.0" r="2.5" fill="#f8a8e0"/>
<circle cx="671.3" cy="163.7" r="1.5" fill="#35a8f2"/>
<circle cx="694.6" cy="263.8" r="1.3" fill="#f4e030"/>
<circle cx="644.0" cy="258.9" r="1.3" fill="#60e0e0"/>
<circle cx="646.3" cy="188.9" r="1.9" fill="#60e0e0"/>
<circle cx="668.0" cy="215.1" r="2.1" fill="#35a8f2"/>
<circle cx="642.7" cy="165.0" r="1.8" fill="#60e0e0"/>
<circle cx="688.1" cy="190.7" r="2.0" fill="#35a8f2"/>
<circle cx="646.2" cy="239.0" r="2.5" fill="#40c8f0"/>
<circle cx="692.1" cy="228.1" r="2.5" fill="#f4e030"/>
<circle cx="677.0" cy="163.9" r="2.6" fill="#f8a8e0"/>
<circle cx="694.7" cy="263.8" r="2.9" fill="#35a8f2"/>
<circle cx="695.0" cy="231.8" r="2.8" fill="#40b8f4"/>
<circle cx="686.5" cy="257.7" r="2.9" fill="#35a8f2"/>
<circle cx="691.9" cy="234.0" r="1.9" fill="#35a8f2"/>
<circle cx="695.9" cy="262.6" r="2.5" fill="#2a8cf0"/>
<circle cx="669.3" cy="250.4" r="2.7" fill="#35a8f2"/>
<circle cx="695.6" cy="254.7" r="2.8" fill="#35a8f2"/>
<circle cx="678.7" cy="228.6" r="2.6" fill="#35a8f2"/>
<circle cx="672.1" cy="218.0" r="2.4" fill="#40b8f4"/>
<circle cx="695.9" cy="240.0" r="2.6" fill="#35a8f2"/>
<circle cx="702.7" cy="259.3" r="2.2" fill="#35a8f2"/>
<circle cx="686.6" cy="269.8" r="2.4" fill="#2a8cf0"/>
<circle cx="684.1" cy="247.2" r="2.4" fill="#40b8f4"/>
<circle cx="687.2" cy="247.6" r="2.5" fill="#40b8f4"/>
<circle cx="680.1" cy="226.9" r="2.8" fill="#35a8f2"/>
<circle cx="686.1" cy="242.8" r="1.6" fill="#2a8cf0"/>
<circle cx="675.9" cy="233.3" r="1.6" fill="#40b8f4"/>
<circle cx="691.6" cy="264.2" r="1.6" fill="#35a8f2"/>
<circle cx="680.0" cy="213.9" r="3.2" fill="#35a8f2"/>
<circle cx="693.3" cy="257.0" r="2.3" fill="#2a8cf0"/>
<circle cx="685.6" cy="226.5" r="2.1" fill="#35a8f2"/>
<circle cx="669.5" cy="224.1" r="2.1" fill="#2a8cf0"/>
<circle cx="695.2" cy="252.3" r="2.7" fill="#40b8f4"/>
<circle cx="689.3" cy="231.2" r="2.0" fill="#40b8f4"/>
<circle cx="689.3" cy="241.8" r="2.6" fill="#35a8f2"/>
<circle cx="695.8" cy="256.5" r="3.0" fill="#35a8f2"/>
<circle cx="677.7" cy="217.9" r="1.5" fill="#2a8cf0"/>
<circle cx="674.1" cy="219.3" r="3.1" fill="#35a8f2"/>
<circle cx="678.8" cy="231.6" r="2.3" fill="#2a8cf0"/>
<circle cx="673.3" cy="229.8" r="2.9" fill="#35a8f2"/>
<circle cx="691.5" cy="232.5" r="2.3" fill="#35a8f2"/>
<circle cx="691.4" cy="255.1" r="2.6" fill="#35a8f2"/>
<circle cx="696.3" cy="270.8" r="2.2" fill="#35a8f2"/>
<circle cx="694.0" cy="237.2" r="2.4" fill="#35a8f2"/>
<circle cx="676.0" cy="234.6" r="2.0" fill="#2a8cf0"/>
<circle cx="698.4" cy="256.5" r="2.7" fill="#35a8f2"/>
<circle cx="688.5" cy="237.4" r="1.9" fill="#35a8f2"/>
<circle cx="685.8" cy="254.8" r="2.7" fill="#40b8f4"/>
<circle cx="702.2" cy="240.7" r="2.2" fill="#40b8f4"/>
<circle cx="693.6" cy="259.6" r="3.1" fill="#2a8cf0"/>
<circle cx="691.1" cy="252.9" r="1.5" fill="#40b8f4"/>
<circle cx="683.1" cy="247.4" r="2.9" fill="#40b8f4"/>
<circle cx="693.1" cy="239.3" r="1.7" fill="#35a8f2"/>
<circle cx="693.4" cy="233.7" r="2.4" fill="#35a8f2"/>
<circle cx="675.0" cy="239.6" r="1.6" fill="#2a8cf0"/>
<circle cx="702.4" cy="321.8" r="1.5" fill="#2070e0"/>
<circle cx="695.2" cy="276.8" r="1.8" fill="#2a8cf0"/>
<circle cx="709.2" cy="330.7" r="2.2" fill="#2a8cf0"/>
<circle cx="712.1" cy="338.6" r="2.0" fill="#40b8f8"/>
<circle cx="693.7" cy="300.5" r="2.4" fill="#35a8f2"/>
<circle cx="705.0" cy="334.6" r="2.0" fill="#40b8f8"/>
<circle cx="713.1" cy="348.1" r="1.5" fill="#2070e0"/>
<circle cx="702.6" cy="301.6" r="1.4" fill="#2080ee"/>
<circle cx="717.8" cy="351.1" r="2.2" fill="#40b8f8"/>
<circle cx="689.8" cy="302.9" r="1.4" fill="#2a8cf0"/>
<circle cx="697.2" cy="309.0" r="2.3" fill="#2070e0"/>
<circle cx="701.0" cy="304.3" r="1.6" fill="#2a8cf0"/>
<circle cx="695.0" cy="305.7" r="2.5" fill="#2080ee"/>
<circle cx="697.8" cy="297.5" r="1.5" fill="#2070e0"/>
<circle cx="707.0" cy="281.9" r="2.3" fill="#2a8cf0"/>
<circle cx="695.9" cy="325.6" r="2.5" fill="#2a8cf0"/>
<circle cx="700.4" cy="297.9" r="2.1" fill="#40b8f8"/>
<circle cx="709.6" cy="339.2" r="2.1" fill="#2a8cf0"/>
<circle cx="705.1" cy="311.1" r="2.5" fill="#35a8f2"/>
<circle cx="699.1" cy="329.9" r="2.5" fill="#40b8f8"/>
<circle cx="700.0" cy="314.9" r="2.5" fill="#35a8f2"/>
<circle cx="716.1" cy="333.3" r="2.3" fill="#2a8cf0"/>
<circle cx="701.2" cy="315.2" r="2.5" fill="#2080ee"/>
<circle cx="709.7" cy="365.6" r="2.4" fill="#35a8f2"/>
<circle cx="718.3" cy="346.3" r="2.5" fill="#2080ee"/>
<circle cx="711.8" cy="358.3" r="1.9" fill="#2a8cf0"/>
<circle cx="701.3" cy="338.8" r="1.6" fill="#35a8f2"/>
<circle cx="695.6" cy="280.8" r="2.5" fill="#40b8f8"/>
<circle cx="697.0" cy="279.4" r="2.0" fill="#2a8cf0"/>
<circle cx="690.6" cy="281.4" r="2.3" fill="#2a8cf0"/>
<circle cx="700.4" cy="286.8" r="1.6" fill="#35a8f2"/>
<circle cx="696.8" cy="293.5" r="2.3" fill="#2a8cf0"/>
<circle cx="705.6" cy="356.7" r="2.3" fill="#40b8f8"/>
<circle cx="703.6" cy="353.4" r="1.8" fill="#2a8cf0"/>
<circle cx="702.2" cy="308.5" r="2.4" fill="#2a8cf0"/>
<circle cx="695.6" cy="269.8" r="1.9" fill="#2080ee"/>
<circle cx="699.6" cy="282.1" r="1.8" fill="#2a8cf0"/>
<circle cx="697.4" cy="322.8" r="2.6" fill="#2070e0"/>
<circle cx="698.1" cy="338.9" r="1.5" fill="#2080ee"/>
<circle cx="710.8" cy="334.9" r="2.3" fill="#2a8cf0"/>
<circle cx="709.2" cy="332.7" r="2.3" fill="#2a8cf0"/>
<circle cx="699.0" cy="295.9" r="1.5" fill="#2a8cf0"/>
<circle cx="711.6" cy="353.3" r="2.5" fill="#2a8cf0"/>
<circle cx="691.2" cy="295.6" r="1.9" fill="#40b8f8"/>
<circle cx="714.5" cy="342.5" r="2.1" fill="#2a8cf0"/>
<circle cx="695.7" cy="292.2" r="1.6" fill="#2070e0"/>
<circle cx="695.8" cy="277.2" r="2.0" fill="#2070e0"/>
<circle cx="703.1" cy="299.8" r="2.4" fill="#2a8cf0"/>
<circle cx="695.3" cy="276.4" r="2.2" fill="#2a8cf0"/>
<circle cx="695.8" cy="284.3" r="1.9" fill="#2080ee"/>
<circle cx="706.1" cy="326.5" r="1.6" fill="#2a8cf0"/>
<circle cx="702.5" cy="310.2" r="2.3" fill="#35a8f2"/>
<circle cx="700.1" cy="359.9" r="2.2" fill="#2a8cf0"/>
<circle cx="708.9" cy="349.8" r="1.9" fill="#35a8f2"/>
<circle cx="699.6" cy="360.0" r="2.1" fill="#35a8f2"/>
<circle cx="700.6" cy="366.2" r="2.3" fill="#2070e0"/>
<circle cx="702.9" cy="366.5" r="1.6" fill="#35a8f2"/>
<circle cx="702.3" cy="332.4" r="1.5" fill="#2080ee"/>
<circle cx="695.7" cy="286.9" r="1.5" fill="#2070e0"/>
<circle cx="701.1" cy="282.2" r="2.3" fill="#35a8f2"/>
<circle cx="697.6" cy="321.9" r="1.6" fill="#2070e0"/>
<circle cx="702.7" cy="286.2" r="2.5" fill="#2070e0"/>
<circle cx="711.3" cy="338.1" r="1.4" fill="#2070e0"/>
<circle cx="695.2" cy="286.2" r="1.5" fill="#2a8cf0"/>
<circle cx="696.2" cy="314.7" r="1.5" fill="#35a8f2"/>
<circle cx="700.8" cy="293.1" r="2.5" fill="#2080ee"/>
<circle cx="716.8" cy="365.3" r="2.1" fill="#40b8f8"/>
<circle cx="704.1" cy="272.5" r="2.5" fill="#2a8cf0"/>
<circle cx="718.4" cy="358.8" r="2.1" fill="#2a8cf0"/>
<circle cx="706.5" cy="361.3" r="1.4" fill="#2070e0"/>
<circle cx="707.1" cy="357.5" r="2.4" fill="#2a8cf0"/>
<circle cx="710.4" cy="327.0" r="2.4" fill="#2080ee"/>
<circle cx="702.0" cy="269.3" r="2.5" fill="#2070e0"/>
<circle cx="710.3" cy="280.1" r="2.3" fill="#2070e0"/>
<circle cx="700.0" cy="358.5" r="2.3" fill="#2a8cf0"/>
<circle cx="693.0" cy="286.4" r="2.0" fill="#2a8cf0"/>
<circle cx="706.0" cy="319.8" r="1.8" fill="#2a8cf0"/>
<circle cx="702.1" cy="292.9" r="2.1" fill="#35a8f2"/>
<circle cx="698.2" cy="271.5" r="2.3" fill="#2080ee"/>
<circle cx="697.5" cy="363.9" r="2.1" fill="#2080ee"/>
<circle cx="709.2" cy="301.2" r="2.1" fill="#2080ee"/>
<circle cx="696.4" cy="342.7" r="2.0" fill="#2080ee"/>
<circle cx="709.7" cy="351.5" r="1.9" fill="#40b8f8"/>
<circle cx="693.3" cy="277.7" r="2.5" fill="#35a8f2"/>
<circle cx="689.7" cy="319.6" r="1.8" fill="#2a8cf0"/>
<circle cx="703.6" cy="296.2" r="2.1" fill="#2080ee"/>
<circle cx="695.9" cy="340.7" r="1.8" fill="#40b8f8"/>
<circle cx="700.3" cy="355.5" r="1.7" fill="#2080ee"/>
<circle cx="708.2" cy="290.7" r="2.0" fill="#2a8cf0"/>
<circle cx="690.1" cy="319.7" r="1.7" fill="#35a8f2"/>
<circle cx="715.0" cy="333.0" r="2.6" fill="#2070e0"/>
<circle cx="702.7" cy="364.6" r="2.2" fill="#40b8f8"/>
<circle cx="701.5" cy="309.0" r="2.3" fill="#40b8f8"/>
<circle cx="694.1" cy="278.5" r="1.5" fill="#40b8f8"/>
<circle cx="710.7" cy="346.8" r="2.5" fill="#2a8cf0"/>
<circle cx="703.4" cy="296.2" r="2.3" fill="#2a8cf0"/>
<circle cx="710.0" cy="299.1" r="2.4" fill="#2080ee"/>
<circle cx="701.3" cy="280.4" r="2.2" fill="#2a8cf0"/>
<circle cx="705.9" cy="270.7" r="1.8" fill="#2080ee"/>
<circle cx="699.4" cy="280.6" r="2.3" fill="#2080ee"/>
<circle cx="710.0" cy="355.6" r="2.2" fill="#2a8cf0"/>
<circle cx="707.5" cy="285.9" r="2.4" fill="#35a8f2"/>
<circle cx="715.6" cy="357.7" r="2.2" fill="#40b8f8"/>
<circle cx="698.6" cy="286.6" r="2.2" fill="#2a8cf0"/>
<circle cx="716.5" cy="362.8" r="1.8" fill="#35a8f2"/>
<circle cx="706.1" cy="364.1" r="1.7" fill="#2080ee"/>
<circle cx="710.4" cy="338.7" r="2.5" fill="#2080ee"/>
<circle cx="706.8" cy="308.3" r="1.6" fill="#35a8f2"/>
<circle cx="695.9" cy="278.3" r="2.3" fill="#40b8f8"/>
<circle cx="698.9" cy="333.8" r="2.3" fill="#35a8f2"/>
<circle cx="702.3" cy="348.0" r="2.0" fill="#35a8f2"/>
<circle cx="706.1" cy="357.3" r="1.6" fill="#2a8cf0"/>
<circle cx="696.9" cy="294.2" r="2.6" fill="#2080ee"/>
<circle cx="704.8" cy="359.6" r="1.5" fill="#2a8cf0"/>
<circle cx="691.9" cy="266.7" r="1.9" fill="#40b8f8"/>
<circle cx="694.0" cy="274.9" r="1.7" fill="#2a8cf0"/>
<circle cx="697.0" cy="291.1" r="1.6" fill="#2a8cf0"/>
<circle cx="715.8" cy="366.7" r="1.4" fill="#2080ee"/>
<circle cx="706.5" cy="359.5" r="2.5" fill="#2a8cf0"/>
<circle cx="697.5" cy="284.3" r="2.1" fill="#2070e0"/>
<circle cx="703.7" cy="358.8" r="1.4" fill="#35a8f2"/>
<circle cx="707.4" cy="317.6" r="2.4" fill="#2070e0"/>
<circle cx="707.5" cy="366.3" r="2.1" fill="#2a8cf0"/>
<circle cx="691.3" cy="277.4" r="1.9" fill="#2070e0"/>
<circle cx="701.8" cy="310.9" r="2.3" fill="#2a8cf0"/>
<circle cx="688.8" cy="292.5" r="2.1" fill="#40b8f8"/>
<circle cx="702.3" cy="327.5" r="2.6" fill="#2a8cf0"/>
<circle cx="706.2" cy="324.4" r="2.4" fill="#2a8cf0"/>
<circle cx="692.7" cy="299.2" r="2.4" fill="#40b8f8"/>
<circle cx="695.3" cy="311.1" r="1.7" fill="#2a8cf0"/>
<circle cx="701.8" cy="273.4" r="2.1" fill="#2070e0"/>
<circle cx="694.3" cy="290.3" r="1.6" fill="#35a8f2"/>
<circle cx="696.5" cy="309.4" r="2.3" fill="#35a8f2"/>
<circle cx="694.0" cy="344.1" r="2.0" fill="#2070e0"/>
<circle cx="707.8" cy="349.7" r="1.6" fill="#2070e0"/>
<circle cx="707.5" cy="333.2" r="2.1" fill="#2080ee"/>
<circle cx="693.2" cy="272.2" r="1.7" fill="#2a8cf0"/>
<circle cx="699.7" cy="279.1" r="2.3" fill="#40b8f8"/>
<circle cx="712.2" cy="366.6" r="2.3" fill="#2a8cf0"/>
<circle cx="700.0" cy="266.3" r="1.9" fill="#40b8f8"/>
<circle cx="694.2" cy="280.4" r="1.9" fill="#2a8cf0"/>
<circle cx="711.0" cy="365.1" r="2.2" fill="#2070e0"/>
<circle cx="704.3" cy="343.9" r="1.7" fill="#40b8f8"/>
<circle cx="701.5" cy="353.2" r="1.9" fill="#2a8cf0"/>
<circle cx="703.3" cy="361.1" r="2.6" fill="#40b8f8"/>
<circle cx="701.5" cy="288.3" r="1.6" fill="#40b8f8"/>
<circle cx="708.4" cy="332.3" r="2.2" fill="#40b8f8"/>
<circle cx="709.1" cy="360.2" r="1.6" fill="#2080ee"/>
<circle cx="708.6" cy="361.4" r="1.5" fill="#2080ee"/>
<circle cx="704.5" cy="301.4" r="1.6" fill="#40b8f8"/>
<circle cx="699.1" cy="348.0" r="2.1" fill="#35a8f2"/>
<circle cx="701.5" cy="314.2" r="2.0" fill="#2070e0"/>
<circle cx="706.3" cy="335.3" r="1.9" fill="#2a8cf0"/>
<circle cx="694.4" cy="270.8" r="1.7" fill="#35a8f2"/>
<circle cx="692.9" cy="329.3" r="2.0" fill="#40b8f8"/>
<circle cx="705.7" cy="360.2" r="2.3" fill="#35a8f2"/>
<circle cx="704.2" cy="276.5" r="2.3" fill="#2a8cf0"/>
<circle cx="708.3" cy="344.1" r="2.3" fill="#2a8cf0"/>
<circle cx="694.6" cy="268.1" r="1.5" fill="#2080ee"/>
<circle cx="703.9" cy="299.2" r="2.3" fill="#40b8f8"/>
<circle cx="700.8" cy="334.3" r="2.0" fill="#2a8cf0"/>
<circle cx="703.8" cy="281.4" r="2.1" fill="#2a8cf0"/>
<circle cx="692.9" cy="287.3" r="2.2" fill="#40b8f8"/>
<circle cx="707.7" cy="338.1" r="1.7" fill="#2070e0"/>
<circle cx="691.8" cy="312.1" r="2.4" fill="#40b8f8"/>
<circle cx="712.9" cy="338.7" r="1.9" fill="#2080ee"/>
<circle cx="699.7" cy="318.7" r="1.8" fill="#40b8f8"/>
<circle cx="699.9" cy="288.0" r="1.4" fill="#2a8cf0"/>
<circle cx="703.6" cy="342.2" r="2.3" fill="#2070e0"/>
<circle cx="698.7" cy="296.4" r="2.2" fill="#2a8cf0"/>
<circle cx="700.1" cy="322.9" r="2.3" fill="#35a8f2"/>
<circle cx="700.3" cy="289.9" r="2.2" fill="#2a8cf0"/>
<circle cx="710.6" cy="347.6" r="2.0" fill="#35a8f2"/>
<circle cx="702.9" cy="295.0" r="2.2" fill="#2a8cf0"/>
<circle cx="692.9" cy="282.2" r="1.6" fill="#2070e0"/>
<circle cx="708.1" cy="338.7" r="2.0" fill="#2070e0"/>
<circle cx="696.0" cy="300.9" r="2.1" fill="#2070e0"/>
<circle cx="707.7" cy="353.0" r="1.8" fill="#2a8cf0"/>
<circle cx="716.8" cy="358.1" r="2.5" fill="#35a8f2"/>
<circle cx="703.4" cy="271.6" r="2.0" fill="#40b8f8"/>
<circle cx="696.3" cy="296.6" r="1.5" fill="#2a8cf0"/>
<circle cx="687.2" cy="301.4" r="2.5" fill="#40b8f8"/>
<circle cx="703.2" cy="296.3" r="2.2" fill="#2080ee"/>
<circle cx="691.1" cy="328.8" r="2.5" fill="#35a8f2"/>
<circle cx="695.7" cy="269.2" r="1.5" fill="#2a8cf0"/>
<circle cx="698.7" cy="329.3" r="1.9" fill="#2080ee"/>
<circle cx="701.3" cy="272.5" r="1.9" fill="#2080ee"/>
<circle cx="698.6" cy="269.9" r="1.6" fill="#40b8f8"/>
<circle cx="692.2" cy="293.8" r="1.4" fill="#40b8f8"/>
<circle cx="698.0" cy="285.6" r="1.7" fill="#2070e0"/>
<circle cx="686.1" cy="288.4" r="2.6" fill="#2a8cf0"/>
<circle cx="696.6" cy="290.4" r="2.0" fill="#2070e0"/>
<circle cx="714.9" cy="344.1" r="2.5" fill="#2070e0"/>
<circle cx="713.3" cy="364.8" r="1.8" fill="#35a8f2"/>
<circle cx="705.5" cy="276.6" r="1.6" fill="#2080ee"/>
<circle cx="705.1" cy="336.0" r="2.6" fill="#2a8cf0"/>
<circle cx="693.4" cy="282.3" r="2.1" fill="#35a8f2"/>
<circle cx="695.3" cy="308.3" r="1.8" fill="#2070e0"/>
<circle cx="702.0" cy="320.5" r="1.8" fill="#2a8cf0"/>
<circle cx="711.7" cy="359.6" r="2.3" fill="#2a8cf0"/>
<circle cx="713.4" cy="366.9" r="1.8" fill="#2080ee"/>
<circle cx="690.0" cy="318.3" r="2.2" fill="#2a8cf0"/>
<circle cx="704.2" cy="282.6" r="1.5" fill="#35a8f2"/>
<circle cx="690.9" cy="306.5" r="2.3" fill="#2070e0"/>
<circle cx="698.7" cy="306.0" r="2.3" fill="#35a8f2"/>
<circle cx="693.9" cy="284.7" r="2.4" fill="#2a8cf0"/>
<circle cx="709.7" cy="352.0" r="1.9" fill="#2070e0"/>
<circle cx="691.8" cy="278.8" r="2.3" fill="#35a8f2"/>
<circle cx="709.6" cy="347.7" r="2.2" fill="#2a8cf0"/>
<circle cx="707.4" cy="332.5" r="2.6" fill="#2080ee"/>
<circle cx="717.2" cy="325.7" r="1.6" fill="#2070e0"/>
<circle cx="693.1" cy="293.7" r="1.7" fill="#2070e0"/>
<circle cx="715.7" cy="306.5" r="1.5" fill="#2070e0"/>
<circle cx="700.2" cy="367.7" r="2.4" fill="#2a8cf0"/>
<circle cx="696.4" cy="295.2" r="1.5" fill="#35a8f2"/>
<circle cx="686.7" cy="358.3" r="2.4" fill="#2080ee"/>
<circle cx="702.5" cy="283.5" r="2.4" fill="#2070e0"/>
<circle cx="700.9" cy="294.9" r="1.9" fill="#40b8f8"/>
<circle cx="704.7" cy="307.6" r="2.2" fill="#2a8cf0"/>
<circle cx="707.9" cy="321.7" r="2.4" fill="#2a8cf0"/>
<circle cx="704.1" cy="311.1" r="2.5" fill="#2080ee"/>
<circle cx="693.7" cy="310.1" r="1.6" fill="#2a8cf0"/>
<circle cx="694.4" cy="293.6" r="1.9" fill="#35a8f2"/>
<circle cx="696.3" cy="289.2" r="2.0" fill="#35a8f2"/>
<circle cx="698.7" cy="322.3" r="1.4" fill="#35a8f2"/>
<circle cx="702.2" cy="334.4" r="1.4" fill="#35a8f2"/>
<circle cx="704.9" cy="315.3" r="2.4" fill="#2080ee"/>
<circle cx="696.5" cy="269.3" r="1.8" fill="#40b8f8"/>
<circle cx="706.6" cy="306.4" r="2.2" fill="#40b8f8"/>
<circle cx="700.6" cy="291.7" r="1.6" fill="#35a8f2"/>
<circle cx="713.0" cy="354.2" r="2.4" fill="#2070e0"/>
<circle cx="696.5" cy="270.8" r="2.4" fill="#2a8cf0"/>
<circle cx="699.5" cy="321.0" r="1.4" fill="#40b8f8"/>
<circle cx="694.7" cy="297.6" r="2.0" fill="#2a8cf0"/>
<circle cx="712.0" cy="356.4" r="2.3" fill="#35a8f2"/>
<circle cx="707.7" cy="348.6" r="2.4" fill="#2070e0"/>
<circle cx="698.5" cy="316.5" r="2.2" fill="#2a8cf0"/>
<circle cx="714.5" cy="361.5" r="2.0" fill="#2070e0"/>
<circle cx="706.5" cy="307.7" r="1.4" fill="#2a8cf0"/>
<circle cx="693.7" cy="289.2" r="1.9" fill="#35a8f2"/>
<circle cx="698.1" cy="317.6" r="2.2" fill="#2080ee"/>
<circle cx="717.0" cy="302.1" r="1.7" fill="#2070e0"/>
<circle cx="703.1" cy="298.8" r="2.3" fill="#2a8cf0"/>
<circle cx="698.9" cy="270.8" r="1.6" fill="#35a8f2"/>
<circle cx="704.9" cy="335.4" r="1.6" fill="#35a8f2"/>
<circle cx="699.8" cy="284.6" r="1.4" fill="#2080ee"/>
<circle cx="696.9" cy="317.3" r="2.0" fill="#2a8cf0"/>
<circle cx="698.6" cy="268.1" r="1.6" fill="#2a8cf0"/>
<circle cx="718.9" cy="342.9" r="1.9" fill="#2a8cf0"/>
<circle cx="712.2" cy="316.9" r="2.3" fill="#2a8cf0"/>
<circle cx="711.1" cy="348.9" r="2.5" fill="#2a8cf0"/>
<circle cx="707.6" cy="345.3" r="2.0" fill="#2a8cf0"/>
<circle cx="694.3" cy="281.1" r="2.2" fill="#2a8cf0"/>
<circle cx="698.3" cy="328.9" r="1.8" fill="#2080ee"/>
<circle cx="700.9" cy="353.3" r="2.1" fill="#2a8cf0"/>
<circle cx="693.1" cy="278.4" r="2.3" fill="#2070e0"/>
<circle cx="697.4" cy="312.2" r="1.9" fill="#2a8cf0"/>
<circle cx="694.2" cy="304.3" r="2.0" fill="#2a8cf0"/>
<circle cx="709.6" cy="318.6" r="1.9" fill="#40b8f8"/>
<circle cx="697.9" cy="270.7" r="1.5" fill="#35a8f2"/>
<circle cx="697.2" cy="323.2" r="2.6" fill="#e01830"/>
<circle cx="695.1" cy="318.0" r="2.3" fill="#e01830"/>
<circle cx="698.2" cy="320.3" r="2.5" fill="#e01830"/>
<circle cx="701.4" cy="326.8" r="2.0" fill="#e01830"/>
<circle cx="695.8" cy="326.0" r="2.2" fill="#e01830"/>
<circle cx="700.3" cy="318.4" r="2.4" fill="#e01830"/>
<circle cx="686.3" cy="319.8" r="1.6" fill="#e01830"/>
<circle cx="698.4" cy="317.2" r="1.8" fill="#e01830"/>
<circle cx="696.4" cy="317.5" r="2.1" fill="#e01830"/>
<circle cx="696.5" cy="319.1" r="1.8" fill="#e01830"/>
<circle cx="694.6" cy="319.6" r="2.1" fill="#e01830"/>
<circle cx="696.1" cy="317.2" r="1.8" fill="#e01830"/>
<circle cx="697.0" cy="315.1" r="2.3" fill="#e01830"/>
<circle cx="689.4" cy="318.6" r="2.4" fill="#e01830"/>
<circle cx="696.9" cy="322.8" r="1.6" fill="#e01830"/>
<circle cx="697.9" cy="321.1" r="2.5" fill="#e01830"/>
<circle cx="696.0" cy="319.2" r="1.7" fill="#e01830"/>
<circle cx="691.1" cy="324.1" r="2.2" fill="#e01830"/>
<circle cx="696.2" cy="319.9" r="2.6" fill="#e01830"/>
<circle cx="696.4" cy="324.4" r="2.5" fill="#e01830"/>
<circle cx="695.0" cy="318.6" r="2.2" fill="#e01830"/>
<circle cx="694.8" cy="320.7" r="1.9" fill="#e01830"/>
<circle cx="715.6" cy="315.0" r="3.5" fill="#f08040"/>
<circle cx="729.0" cy="317.6" r="3.0" fill="#f8a8e0"/>
<circle cx="735.6" cy="297.5" r="2.0" fill="#2848d8"/>
<circle cx="737.4" cy="292.6" r="1.5" fill="#3050e0"/>
<circle cx="736.4" cy="286.4" r="1.4" fill="#2848d8"/>
<circle cx="740.2" cy="283.6" r="1.6" fill="#2848d8"/>
<circle cx="737.9" cy="287.6" r="2.1" fill="#3050e0"/>
<circle cx="735.6" cy="292.6" r="1.5" fill="#2848d8"/>
<circle cx="738.8" cy="290.1" r="2.2" fill="#2848d8"/>
<circle cx="734.7" cy="292.1" r="1.4" fill="#3a60e8"/>
<circle cx="739.5" cy="292.7" r="1.6" fill="#2848d8"/>
<circle cx="735.2" cy="284.5" r="2.3" fill="#2848d8"/>
<circle cx="740.2" cy="292.8" r="2.3" fill="#3050e0"/>
<circle cx="733.9" cy="295.8" r="1.5" fill="#3a60e8"/>
<circle cx="735.5" cy="281.8" r="1.6" fill="#2848d8"/>
<circle cx="731.2" cy="294.5" r="2.0" fill="#2848d8"/>
<circle cx="740.4" cy="288.3" r="1.8" fill="#3050e0"/>
<circle cx="740.6" cy="299.7" r="1.7" fill="#2848d8"/>
<circle cx="736.8" cy="291.0" r="1.4" fill="#3a60e8"/>
<circle cx="735.5" cy="280.4" r="1.4" fill="#3050e0"/>
<circle cx="735.4" cy="293.2" r="1.9" fill="#3a60e8"/>
<circle cx="734.5" cy="265.3" r="2.0" fill="#3050e0"/>
<circle cx="737.5" cy="290.0" r="1.8" fill="#3050e0"/>
<circle cx="735.5" cy="298.1" r="1.4" fill="#3a60e8"/>
<circle cx="737.1" cy="289.1" r="1.8" fill="#2848d8"/>
<circle cx="737.4" cy="297.1" r="2.4" fill="#3050e0"/>
<circle cx="739.5" cy="291.0" r="2.2" fill="#2848d8"/>
<circle cx="739.7" cy="283.6" r="1.5" fill="#3a60e8"/>
<circle cx="737.3" cy="340.8" r="2.4" fill="#60e0e0"/>
<circle cx="729.1" cy="324.7" r="2.5" fill="#60e0e0"/>
<circle cx="746.9" cy="351.3" r="1.9" fill="#35a8f2"/>
<circle cx="728.9" cy="332.0" r="1.5" fill="#35a8f2"/>
<circle cx="732.2" cy="340.8" r="1.8" fill="#35a8f2"/>
<circle cx="741.8" cy="346.4" r="2.2" fill="#35a8f2"/>
<circle cx="739.4" cy="346.5" r="1.7" fill="#35a8f2"/>
<circle cx="738.6" cy="342.1" r="1.6" fill="#40c8f0"/>
<circle cx="731.6" cy="330.9" r="1.6" fill="#60e0e0"/>
<circle cx="749.5" cy="364.5" r="2.6" fill="#60e0e0"/>
<circle cx="748.9" cy="354.7" r="1.6" fill="#35a8f2"/>
<circle cx="748.9" cy="356.0" r="1.8" fill="#35a8f2"/>
<circle cx="741.4" cy="350.4" r="2.2" fill="#60e0e0"/>
<circle cx="751.6" cy="359.2" r="1.7" fill="#35a8f2"/>
<circle cx="739.7" cy="345.8" r="1.6" fill="#40c8f0"/>
<circle cx="750.9" cy="365.5" r="2.5" fill="#60e0e0"/>
<circle cx="727.5" cy="328.4" r="1.7" fill="#60e0e0"/>
<circle cx="733.9" cy="340.5" r="2.2" fill="#40c8f0"/>
<circle cx="735.4" cy="307.2" r="2.4" fill="#f4e030"/>
<circle cx="724.5" cy="332.7" r="1.7" fill="#30b0f0"/>
<circle cx="754.7" cy="341.9" r="1.8" fill="#2a60e0"/>
<circle cx="734.6" cy="330.0" r="2.0" fill="#40e040"/>
<circle cx="743.1" cy="345.5" r="1.8" fill="#f4e030"/>
<circle cx="760.7" cy="300.4" r="1.8" fill="#30b0f0"/>
<circle cx="731.9" cy="359.7" r="1.8" fill="#2a60e0"/>
<circle cx="734.0" cy="337.8" r="1.4" fill="#30b0f0"/>
<circle cx="729.3" cy="307.3" r="1.4" fill="#f4e030"/>
<circle cx="725.7" cy="315.6" r="2.4" fill="#f4e030"/>
<circle cx="759.7" cy="340.1" r="1.8" fill="#f4e030"/>
<circle cx="733.4" cy="342.2" r="1.8" fill="#60e0e0"/>
<circle cx="731.0" cy="315.5" r="1.7" fill="#60e0e0"/>
<circle cx="754.8" cy="348.9" r="1.7" fill="#2a60e0"/>
<circle cx="762.0" cy="330.4" r="2.1" fill="#f8a8e0"/>
<circle cx="744.1" cy="357.5" r="2.2" fill="#2a60e0"/>
<circle cx="746.7" cy="342.3" r="2.1" fill="#40e040"/>
<circle cx="722.2" cy="345.7" r="1.7" fill="#f8a8e0"/>
<circle cx="747.0" cy="356.6" r="1.5" fill="#60e0e0"/>
<circle cx="725.3" cy="342.5" r="1.8" fill="#40e040"/>
<circle cx="739.9" cy="327.1" r="1.9" fill="#60e0e0"/>
<circle cx="757.9" cy="345.1" r="2.5" fill="#60e0e0"/>
<circle cx="736.2" cy="351.6" r="1.4" fill="#2a60e0"/>
<circle cx="726.7" cy="319.2" r="2.0" fill="#2a60e0"/>
<circle cx="758.9" cy="313.1" r="1.7" fill="#f8a8e0"/>
<circle cx="727.6" cy="358.7" r="2.4" fill="#40e040"/>
<circle cx="740.9" cy="301.9" r="2.5" fill="#f8a8e0"/>
<circle cx="730.0" cy="343.6" r="1.9" fill="#f8a8e0"/>
<circle cx="703.2" cy="423.3" r="2.5" fill="#fcdcee"/>
<circle cx="719.1" cy="411.3" r="2.5" fill="#fff0f6"/>
<circle cx="701.8" cy="381.4" r="1.7" fill="#fff0f6"/>
<circle cx="717.3" cy="396.4" r="2.4" fill="#f8c0e4"/>
<circle cx="718.6" cy="413.4" r="2.0" fill="#fcdcee"/>
<circle cx="723.3" cy="405.3" r="1.9" fill="#f8c0e4"/>
<circle cx="698.9" cy="384.1" r="2.4" fill="#fcdcee"/>
<circle cx="692.2" cy="386.1" r="2.6" fill="#f8c0e4"/>
<circle cx="697.3" cy="384.9" r="2.7" fill="#fcdcee"/>
<circle cx="723.2" cy="412.1" r="2.7" fill="#f8c0e4"/>
<circle cx="694.0" cy="397.3" r="1.7" fill="#fcdcee"/>
<circle cx="707.0" cy="422.4" r="1.7" fill="#fff0f6"/>
<circle cx="708.8" cy="412.9" r="1.9" fill="#fcdcee"/>
<circle cx="723.0" cy="402.4" r="2.0" fill="#fff0f6"/>
<circle cx="716.7" cy="372.4" r="1.8" fill="#fcdcee"/>
<circle cx="717.5" cy="438.1" r="1.9" fill="#fcdcee"/>
<circle cx="713.3" cy="429.8" r="2.7" fill="#fff0f6"/>
<circle cx="702.4" cy="423.3" r="2.7" fill="#fff0f6"/>
<circle cx="718.2" cy="416.3" r="2.8" fill="#fcdcee"/>
<circle cx="690.7" cy="385.4" r="2.2" fill="#fff0f6"/>
<circle cx="699.7" cy="421.4" r="2.2" fill="#fff0f6"/>
<circle cx="699.3" cy="405.7" r="1.9" fill="#fff0f6"/>
<circle cx="703.7" cy="445.1" r="2.0" fill="#fcdcee"/>
<circle cx="708.5" cy="416.4" r="2.5" fill="#fff0f6"/>
<circle cx="704.5" cy="390.4" r="2.5" fill="#fcdcee"/>
<circle cx="713.3" cy="405.4" r="1.9" fill="#fcdcee"/>
<circle cx="712.1" cy="445.2" r="2.2" fill="#fff0f6"/>
<circle cx="701.4" cy="440.2" r="2.2" fill="#fcdcee"/>
<circle cx="690.1" cy="390.0" r="2.7" fill="#fcdcee"/>
<circle cx="702.5" cy="380.8" r="2.0" fill="#fcdcee"/>
<circle cx="712.7" cy="369.3" r="1.6" fill="#fcdcee"/>
<circle cx="694.9" cy="399.5" r="2.7" fill="#fcdcee"/>
<circle cx="713.1" cy="401.6" r="1.6" fill="#fff0f6"/>
<circle cx="721.5" cy="416.7" r="2.6" fill="#fcdcee"/>
<circle cx="706.5" cy="399.9" r="1.6" fill="#f8c0e4"/>
<circle cx="722.0" cy="366.5" r="2.7" fill="#fcdcee"/>
<circle cx="700.2" cy="375.6" r="1.9" fill="#fff0f6"/>
<circle cx="723.4" cy="444.7" r="2.7" fill="#fcdcee"/>
<circle cx="722.4" cy="437.8" r="1.5" fill="#f8c0e4"/>
<circle cx="723.9" cy="432.4" r="2.2" fill="#fff0f6"/>
<circle cx="702.0" cy="444.3" r="2.2" fill="#fcdcee"/>
<circle cx="700.1" cy="373.4" r="1.9" fill="#fcdcee"/>
<circle cx="695.1" cy="399.6" r="1.7" fill="#fcdcee"/>
<circle cx="692.3" cy="364.1" r="2.5" fill="#f8c0e4"/>
<circle cx="709.2" cy="435.7" r="1.9" fill="#fff0f6"/>
<circle cx="720.5" cy="397.7" r="1.8" fill="#fcdcee"/>
<circle cx="707.9" cy="414.4" r="1.9" fill="#fff0f6"/>
<circle cx="698.0" cy="403.1" r="2.6" fill="#fcdcee"/>
<circle cx="697.2" cy="381.3" r="2.1" fill="#fcdcee"/>
<circle cx="707.1" cy="431.4" r="1.8" fill="#fff0f6"/>
<circle cx="709.5" cy="415.2" r="2.2" fill="#fcdcee"/>
<circle cx="697.9" cy="379.9" r="1.9" fill="#fff0f6"/>
<circle cx="703.5" cy="427.6" r="1.5" fill="#fcdcee"/>
<circle cx="692.7" cy="410.4" r="2.5" fill="#fcdcee"/>
<circle cx="691.5" cy="402.0" r="2.2" fill="#fcdcee"/>
<circle cx="702.1" cy="395.9" r="2.7" fill="#f8c0e4"/>
<circle cx="710.3" cy="450.0" r="2.4" fill="#fcdcee"/>
<circle cx="716.9" cy="393.1" r="2.0" fill="#fff0f6"/>
<circle cx="722.1" cy="412.4" r="1.6" fill="#fcdcee"/>
<circle cx="691.1" cy="368.5" r="2.7" fill="#f8c0e4"/>
<circle cx="703.2" cy="442.6" r="1.8" fill="#f8c0e4"/>
<circle cx="722.4" cy="446.6" r="1.9" fill="#fcdcee"/>
<circle cx="714.3" cy="376.2" r="2.7" fill="#fcdcee"/>
<circle cx="713.9" cy="384.4" r="1.8" fill="#f8c0e4"/>
<circle cx="714.7" cy="395.6" r="2.7" fill="#fcdcee"/>
<circle cx="701.7" cy="444.7" r="1.7" fill="#fff0f6"/>
<circle cx="694.2" cy="422.2" r="1.9" fill="#fcdcee"/>
<circle cx="707.7" cy="387.6" r="2.6" fill="#f8c0e4"/>
<circle cx="711.9" cy="429.6" r="2.7" fill="#fcdcee"/>
<circle cx="690.6" cy="420.2" r="2.7" fill="#fcdcee"/>
<circle cx="701.2" cy="377.8" r="2.2" fill="#fff0f6"/>
<circle cx="720.4" cy="405.6" r="2.3" fill="#fff0f6"/>
<circle cx="718.8" cy="415.9" r="2.1" fill="#fcdcee"/>
<circle cx="705.9" cy="376.7" r="2.4" fill="#f8c0e4"/>
<circle cx="708.7" cy="429.6" r="1.6" fill="#fcdcee"/>
<circle cx="703.6" cy="367.9" r="2.6" fill="#fcdcee"/>
<circle cx="704.4" cy="366.1" r="2.7" fill="#fcdcee"/>
<circle cx="696.2" cy="404.0" r="1.5" fill="#fff0f6"/>
<circle cx="708.2" cy="447.6" r="2.6" fill="#fff0f6"/>
<circle cx="698.5" cy="423.1" r="2.5" fill="#fcdcee"/>
<circle cx="720.1" cy="394.7" r="2.3" fill="#f8c0e4"/>
<circle cx="710.0" cy="400.9" r="1.8" fill="#f8c0e4"/>
<circle cx="721.8" cy="384.1" r="2.6" fill="#fcdcee"/>
<circle cx="709.1" cy="404.3" r="2.7" fill="#fcdcee"/>
<circle cx="707.5" cy="444.3" r="2.2" fill="#f8c0e4"/>
<circle cx="722.2" cy="377.6" r="1.9" fill="#fcdcee"/>
<circle cx="690.1" cy="418.5" r="2.1" fill="#fcdcee"/>
<circle cx="721.4" cy="406.8" r="2.2" fill="#f8c0e4"/>
<circle cx="712.5" cy="423.0" r="2.0" fill="#f8c0e4"/>
<circle cx="711.5" cy="413.4" r="2.1" fill="#fcdcee"/>
<circle cx="711.7" cy="391.5" r="1.6" fill="#fcdcee"/>
<circle cx="706.9" cy="447.4" r="2.1" fill="#fcdcee"/>
<circle cx="691.7" cy="388.1" r="2.3" fill="#f8c0e4"/>
<circle cx="705.2" cy="432.6" r="2.7" fill="#fcdcee"/>
<circle cx="708.9" cy="400.7" r="2.7" fill="#f8c0e4"/>
<circle cx="703.0" cy="437.9" r="1.9" fill="#fff0f6"/>
<circle cx="715.5" cy="443.7" r="2.4" fill="#f8c0e4"/>
<circle cx="723.5" cy="433.1" r="2.7" fill="#fcdcee"/>
<circle cx="716.7" cy="432.6" r="2.6" fill="#fcdcee"/>
<circle cx="706.2" cy="374.1" r="2.4" fill="#fcdcee"/>
<circle cx="700.4" cy="443.1" r="2.2" fill="#fff0f6"/>
<circle cx="711.9" cy="404.5" r="2.4" fill="#f8c0e4"/>
<circle cx="715.4" cy="444.2" r="1.6" fill="#fcdcee"/>
<circle cx="723.4" cy="373.4" r="2.6" fill="#fff0f6"/>
<circle cx="710.8" cy="385.9" r="2.5" fill="#fff0f6"/>
<circle cx="715.1" cy="448.7" r="1.7" fill="#fcdcee"/>
<circle cx="703.9" cy="401.5" r="2.0" fill="#fcdcee"/>
<circle cx="722.1" cy="412.9" r="2.3" fill="#f8c0e4"/>
<circle cx="714.2" cy="383.3" r="1.6" fill="#fcdcee"/>
<circle cx="723.3" cy="407.0" r="1.8" fill="#fcdcee"/>
<circle cx="707.5" cy="423.7" r="1.9" fill="#fff0f6"/>
<circle cx="690.9" cy="423.4" r="1.8" fill="#fcdcee"/>
<circle cx="721.5" cy="392.4" r="2.7" fill="#fff0f6"/>
<circle cx="709.7" cy="409.8" r="1.9" fill="#f8c0e4"/>
<circle cx="707.0" cy="430.6" r="1.9" fill="#f8c0e4"/>
<circle cx="693.3" cy="369.7" r="2.4" fill="#fcdcee"/>
<circle cx="715.3" cy="404.7" r="1.8" fill="#fcdcee"/>
<circle cx="708.7" cy="444.2" r="2.1" fill="#f8c0e4"/>
<circle cx="691.8" cy="370.0" r="2.0" fill="#f8c0e4"/>
<circle cx="721.3" cy="382.5" r="2.5" fill="#fcdcee"/>
<circle cx="704.7" cy="374.5" r="2.4" fill="#fff0f6"/>
<circle cx="704.3" cy="414.4" r="1.5" fill="#fcdcee"/>
<circle cx="716.0" cy="380.3" r="1.6" fill="#fcdcee"/>
<circle cx="722.9" cy="379.8" r="2.5" fill="#fff0f6"/>
<circle cx="717.1" cy="387.1" r="1.6" fill="#fcdcee"/>
<circle cx="704.7" cy="403.3" r="1.6" fill="#f8c0e4"/>
<circle cx="698.6" cy="380.7" r="2.7" fill="#fcdcee"/>
<circle cx="705.8" cy="364.2" r="2.3" fill="#fcdcee"/>
<circle cx="712.2" cy="449.6" r="2.5" fill="#fcdcee"/>
<circle cx="712.1" cy="398.7" r="2.4" fill="#f8c0e4"/>
<circle cx="714.2" cy="368.0" r="1.7" fill="#fcdcee"/>
<circle cx="703.7" cy="413.0" r="2.0" fill="#f8c0e4"/>
<circle cx="714.2" cy="426.8" r="1.8" fill="#fcdcee"/>
<circle cx="711.3" cy="437.3" r="2.3" fill="#fff0f6"/>
<circle cx="715.3" cy="443.6" r="1.9" fill="#fcdcee"/>
<circle cx="719.4" cy="383.0" r="2.2" fill="#f8c0e4"/>
<circle cx="720.6" cy="427.6" r="1.7" fill="#fcdcee"/>
<circle cx="716.6" cy="432.1" r="2.1" fill="#fff0f6"/>
<circle cx="697.0" cy="421.0" r="2.1" fill="#fcdcee"/>
<circle cx="704.0" cy="417.7" r="1.9" fill="#fcdcee"/>
<circle cx="706.1" cy="403.1" r="2.6" fill="#f8c0e4"/>
<circle cx="713.0" cy="420.7" r="2.2" fill="#f8c0e4"/>
<circle cx="701.4" cy="440.2" r="1.8" fill="#fcdcee"/>
<circle cx="722.7" cy="426.3" r="2.4" fill="#f8c0e4"/>
<circle cx="712.2" cy="401.4" r="1.8" fill="#fcdcee"/>
<circle cx="723.3" cy="410.4" r="1.9" fill="#f8c0e4"/>
<circle cx="704.1" cy="365.4" r="2.5" fill="#fff0f6"/>
<circle cx="702.9" cy="371.8" r="2.6" fill="#fff0f6"/>
<circle cx="705.1" cy="449.5" r="2.7" fill="#fcdcee"/>
<circle cx="691.8" cy="406.8" r="1.8" fill="#f8c0e4"/>
<circle cx="723.2" cy="369.7" r="2.4" fill="#fff0f6"/>
<circle cx="713.2" cy="428.2" r="1.8" fill="#f8c0e4"/>
<circle cx="723.6" cy="410.8" r="1.7" fill="#fff0f6"/>
<circle cx="711.7" cy="433.6" r="1.5" fill="#fff0f6"/>
<circle cx="706.8" cy="409.4" r="1.7" fill="#f8c0e4"/>
<circle cx="699.8" cy="421.0" r="2.5" fill="#f8c0e4"/>
<circle cx="693.3" cy="422.1" r="1.6" fill="#f8c0e4"/>
<circle cx="723.7" cy="409.6" r="2.2" fill="#fff0f6"/>
<circle cx="715.8" cy="394.3" r="1.6" fill="#fff0f6"/>
<circle cx="695.7" cy="411.0" r="2.0" fill="#fcdcee"/>
<circle cx="699.3" cy="396.7" r="2.0" fill="#fcdcee"/>
<circle cx="703.5" cy="410.4" r="2.0" fill="#fff0f6"/>
<circle cx="718.4" cy="417.9" r="2.3" fill="#fcdcee"/>
<circle cx="694.0" cy="379.3" r="1.6" fill="#fcdcee"/>
<circle cx="705.1" cy="427.6" r="2.1" fill="#fcdcee"/>
<circle cx="699.9" cy="421.2" r="1.9" fill="#fff0f6"/>
<circle cx="701.5" cy="424.1" r="2.6" fill="#fcdcee"/>
<circle cx="716.6" cy="436.7" r="1.5" fill="#fff0f6"/>
<circle cx="723.6" cy="416.4" r="1.8" fill="#fcdcee"/>
<circle cx="700.9" cy="415.8" r="2.3" fill="#fff0f6"/>
<circle cx="721.1" cy="431.8" r="1.7" fill="#fcdcee"/>
<circle cx="716.2" cy="442.7" r="1.7" fill="#fff0f6"/>
<circle cx="701.8" cy="416.0" r="2.5" fill="#fff0f6"/>
<circle cx="705.0" cy="439.0" r="2.0" fill="#fcdcee"/>
<circle cx="712.7" cy="406.4" r="2.6" fill="#fcdcee"/>
<circle cx="715.8" cy="429.9" r="2.7" fill="#fcdcee"/>
<circle cx="691.5" cy="372.2" r="2.0" fill="#f8c0e4"/>
<circle cx="719.3" cy="415.6" r="1.6" fill="#fcdcee"/>
<circle cx="720.9" cy="399.9" r="2.3" fill="#fff0f6"/>
<circle cx="695.2" cy="367.8" r="2.4" fill="#fcdcee"/>
<circle cx="699.8" cy="404.2" r="2.2" fill="#fff0f6"/>
<circle cx="690.1" cy="385.5" r="2.7" fill="#fff0f6"/>
<circle cx="690.6" cy="386.4" r="1.9" fill="#fcdcee"/>
<circle cx="693.8" cy="387.1" r="2.6" fill="#f8c0e4"/>
<circle cx="696.5" cy="422.3" r="2.2" fill="#f8c0e4"/>
<circle cx="707.0" cy="423.5" r="2.0" fill="#f8c0e4"/>
<circle cx="699.0" cy="395.2" r="2.1" fill="#fcdcee"/>
<circle cx="700.1" cy="388.5" r="2.0" fill="#fcdcee"/>
<circle cx="699.7" cy="417.4" r="1.7" fill="#f8c0e4"/>
<circle cx="715.3" cy="423.5" r="2.1" fill="#f8c0e4"/>
<circle cx="697.7" cy="407.1" r="2.3" fill="#fcdcee"/>
<circle cx="698.4" cy="370.4" r="2.8" fill="#f8c0e4"/>
<circle cx="700.5" cy="408.3" r="2.6" fill="#fff0f6"/>
<circle cx="702.2" cy="449.2" r="2.8" fill="#fcdcee"/>
<circle cx="719.0" cy="438.5" r="2.4" fill="#fcdcee"/>
<circle cx="723.6" cy="402.5" r="2.7" fill="#fcdcee"/>
<circle cx="695.9" cy="414.1" r="2.1" fill="#fcdcee"/>
<circle cx="697.4" cy="422.0" r="2.1" fill="#fff0f6"/>
<circle cx="722.2" cy="449.1" r="2.3" fill="#fcdcee"/>
<circle cx="712.3" cy="382.9" r="1.8" fill="#fcdcee"/>
<circle cx="700.6" cy="384.9" r="1.7" fill="#fcdcee"/>
<circle cx="704.7" cy="448.0" r="1.7" fill="#fcdcee"/>
<circle cx="699.9" cy="429.2" r="1.5" fill="#fcdcee"/>
<circle cx="714.7" cy="432.0" r="2.5" fill="#f8c0e4"/>
<circle cx="723.5" cy="419.5" r="2.5" fill="#fcdcee"/>
<circle cx="693.9" cy="391.5" r="1.5" fill="#fcdcee"/>
<circle cx="706.8" cy="438.5" r="2.6" fill="#fff0f6"/>
<circle cx="712.0" cy="397.3" r="2.0" fill="#fcdcee"/>
<circle cx="699.5" cy="384.6" r="2.7" fill="#fcdcee"/>
<circle cx="696.3" cy="369.7" r="1.8" fill="#fff0f6"/>
<circle cx="716.0" cy="444.5" r="1.7" fill="#f8c0e4"/>
<circle cx="707.6" cy="444.4" r="1.5" fill="#f8c0e4"/>
<circle cx="703.1" cy="406.3" r="2.2" fill="#fcdcee"/>
<circle cx="702.2" cy="374.1" r="2.3" fill="#fff0f6"/>
<circle cx="722.1" cy="397.5" r="2.3" fill="#fcdcee"/>
<circle cx="690.4" cy="381.5" r="2.4" fill="#fcdcee"/>
<circle cx="706.5" cy="402.6" r="1.6" fill="#fcdcee"/>
<circle cx="703.0" cy="375.2" r="1.8" fill="#f8c0e4"/>
<circle cx="715.4" cy="417.3" r="2.5" fill="#fcdcee"/>
<circle cx="692.3" cy="394.2" r="1.9" fill="#fcdcee"/>
<circle cx="705.5" cy="441.1" r="2.3" fill="#fcdcee"/>
<circle cx="691.6" cy="371.4" r="2.6" fill="#fcdcee"/>
<circle cx="697.8" cy="415.0" r="1.7" fill="#f8c0e4"/>
<circle cx="696.8" cy="373.6" r="2.3" fill="#fcdcee"/>
<circle cx="718.1" cy="370.1" r="2.5" fill="#f8c0e4"/>
<circle cx="709.3" cy="376.9" r="2.2" fill="#f8c0e4"/>
<circle cx="700.5" cy="364.5" r="2.8" fill="#fcdcee"/>
<circle cx="701.4" cy="380.6" r="1.5" fill="#f8c0e4"/>
<circle cx="699.7" cy="388.9" r="2.4" fill="#fcdcee"/>
<circle cx="714.1" cy="397.0" r="2.0" fill="#fcdcee"/>
<circle cx="700.7" cy="442.1" r="1.9" fill="#fff0f6"/>
<circle cx="723.9" cy="385.0" r="1.6" fill="#fcdcee"/>
<circle cx="719.4" cy="418.0" r="1.9" fill="#fff0f6"/>
<circle cx="723.3" cy="373.7" r="2.5" fill="#fff0f6"/>
<circle cx="713.0" cy="414.8" r="2.2" fill="#fff0f6"/>
<circle cx="720.2" cy="449.9" r="2.4" fill="#fcdcee"/>
<circle cx="706.9" cy="386.3" r="1.6" fill="#fcdcee"/>
<circle cx="709.7" cy="401.4" r="1.8" fill="#f8c0e4"/>
<circle cx="705.2" cy="380.5" r="2.6" fill="#fcdcee"/>
<circle cx="702.4" cy="386.6" r="2.4" fill="#fcdcee"/>
<circle cx="698.9" cy="410.6" r="2.0" fill="#fff0f6"/>
<circle cx="701.2" cy="427.1" r="2.4" fill="#fff0f6"/>
<circle cx="705.9" cy="419.2" r="2.2" fill="#fcdcee"/>
<circle cx="714.3" cy="369.6" r="1.8" fill="#f8c0e4"/>
<circle cx="705.7" cy="379.3" r="2.1" fill="#f8c0e4"/>
<circle cx="709.1" cy="387.1" r="1.8" fill="#f8c0e4"/>
<circle cx="711.0" cy="410.3" r="2.7" fill="#fcdcee"/>
<circle cx="710.4" cy="374.8" r="2.4" fill="#f8c0e4"/>
<circle cx="696.2" cy="399.6" r="2.4" fill="#fff0f6"/>
<circle cx="701.6" cy="447.2" r="1.6" fill="#fcdcee"/>
<circle cx="713.0" cy="376.0" r="1.8" fill="#fff0f6"/>
<circle cx="719.1" cy="411.1" r="2.0" fill="#fcdcee"/>
<circle cx="712.0" cy="368.9" r="2.1" fill="#fcdcee"/>
<circle cx="695.5" cy="366.6" r="1.6" fill="#fff0f6"/>
<circle cx="710.5" cy="375.0" r="2.6" fill="#fff0f6"/>
<circle cx="708.8" cy="443.0" r="2.3" fill="#fff0f6"/>
<circle cx="713.1" cy="440.0" r="2.3" fill="#fcdcee"/>
<circle cx="723.1" cy="422.2" r="1.9" fill="#fff0f6"/>
<circle cx="705.9" cy="418.4" r="1.5" fill="#f8c0e4"/>
<circle cx="711.2" cy="437.3" r="2.7" fill="#fcdcee"/>
<circle cx="692.0" cy="407.9" r="1.7" fill="#fff0f6"/>
<circle cx="723.7" cy="422.7" r="2.5" fill="#fff0f6"/>
<circle cx="710.7" cy="370.3" r="2.0" fill="#fff0f6"/>
<circle cx="721.3" cy="397.9" r="2.1" fill="#f8c0e4"/>
<circle cx="719.1" cy="422.7" r="1.6" fill="#fcdcee"/>
<circle cx="703.6" cy="368.0" r="1.6" fill="#fcdcee"/>
<circle cx="709.3" cy="402.2" r="1.6" fill="#fcdcee"/>
<circle cx="709.8" cy="429.7" r="1.9" fill="#fff0f6"/>
<circle cx="721.0" cy="397.0" r="2.4" fill="#fcdcee"/>
<circle cx="711.3" cy="440.2" r="1.7" fill="#fcdcee"/>
<circle cx="719.8" cy="373.8" r="2.5" fill="#fcdcee"/>
<circle cx="705.2" cy="382.4" r="2.3" fill="#fcdcee"/>
<circle cx="691.7" cy="388.2" r="2.4" fill="#f8c0e4"/>
<circle cx="701.4" cy="431.1" r="1.5" fill="#fff0f6"/>
<circle cx="720.6" cy="404.4" r="2.5" fill="#fcdcee"/>
<circle cx="721.8" cy="435.3" r="1.7" fill="#f8c0e4"/>
<circle cx="721.2" cy="389.9" r="1.8" fill="#fcdcee"/>
<circle cx="695.3" cy="400.1" r="2.1" fill="#fcdcee"/>
<circle cx="714.6" cy="391.6" r="2.7" fill="#fcdcee"/>
<circle cx="704.9" cy="434.2" r="2.6" fill="#fff0f6"/>
<circle cx="708.8" cy="385.4" r="1.9" fill="#fcdcee"/>
<circle cx="698.9" cy="415.2" r="1.8" fill="#f8c0e4"/>
<circle cx="722.4" cy="438.7" r="1.8" fill="#fcdcee"/>
<circle cx="693.3" cy="374.2" r="1.7" fill="#f8c0e4"/>
<circle cx="711.9" cy="406.7" r="2.0" fill="#fff0f6"/>
<circle cx="697.7" cy="370.6" r="2.3" fill="#fcdcee"/>
<circle cx="713.9" cy="375.1" r="2.3" fill="#f8c0e4"/>
<circle cx="712.0" cy="399.0" r="2.0" fill="#f8c0e4"/>
<circle cx="701.8" cy="431.2" r="1.8" fill="#f8c0e4"/>
<circle cx="718.8" cy="394.3" r="2.5" fill="#fcdcee"/>
<circle cx="708.7" cy="436.6" r="2.3" fill="#fff0f6"/>
<circle cx="709.3" cy="397.1" r="2.8" fill="#fcdcee"/>
<circle cx="707.1" cy="443.2" r="2.0" fill="#fcdcee"/>
<circle cx="723.3" cy="424.2" r="2.2" fill="#fcdcee"/>
<circle cx="716.4" cy="409.9" r="2.1" fill="#fcdcee"/>
<circle cx="708.1" cy="439.5" r="2.1" fill="#fcdcee"/>
<circle cx="722.3" cy="432.8" r="2.5" fill="#fff0f6"/>
<circle cx="699.0" cy="426.7" r="2.3" fill="#fff0f6"/>
<circle cx="690.4" cy="406.7" r="2.0" fill="#fcdcee"/>
<circle cx="714.0" cy="432.1" r="1.5" fill="#f8c0e4"/>
<circle cx="701.3" cy="364.7" r="1.6" fill="#2a8cf0"/>
<circle cx="702.4" cy="365.3" r="2.1" fill="#35a8f2"/>
<circle cx="712.2" cy="361.2" r="1.8" fill="#40c8f0"/>
<circle cx="702.6" cy="367.5" r="2.4" fill="#35a8f2"/>
<circle cx="706.9" cy="364.8" r="2.5" fill="#2a8cf0"/>
<circle cx="704.5" cy="366.5" r="2.9" fill="#2a8cf0"/>
<circle cx="711.6" cy="362.6" r="1.7" fill="#40c8f0"/>
<circle cx="707.7" cy="365.9" r="1.8" fill="#35a8f2"/>
<circle cx="701.7" cy="363.4" r="2.6" fill="#40c8f0"/>
<circle cx="709.6" cy="361.5" r="1.7" fill="#2a8cf0"/>
<circle cx="706.2" cy="364.7" r="2.9" fill="#35a8f2"/>
<circle cx="705.8" cy="362.5" r="2.3" fill="#35a8f2"/>
<circle cx="702.7" cy="363.0" r="2.1" fill="#40c8f0"/>
<circle cx="709.3" cy="359.5" r="2.3" fill="#35a8f2"/>
<circle cx="712.2" cy="392.3" r="1.6" fill="#35a8f2"/>
<circle cx="716.0" cy="393.0" r="2.3" fill="#2a8cf0"/>
<circle cx="717.5" cy="389.8" r="1.7" fill="#2a8cf0"/>
<circle cx="714.4" cy="387.6" r="2.0" fill="#2a8cf0"/>
<circle cx="713.0" cy="385.6" r="2.1" fill="#2a8cf0"/>
<circle cx="716.3" cy="386.9" r="2.4" fill="#35a8f2"/>
<circle cx="715.3" cy="388.4" r="2.6" fill="#2a8cf0"/>
<circle cx="718.5" cy="392.3" r="2.5" fill="#40c8f0"/>
<circle cx="716.9" cy="388.7" r="2.0" fill="#35a8f2"/>
<circle cx="717.5" cy="386.2" r="2.0" fill="#35a8f2"/>
<circle cx="705.2" cy="416.4" r="1.5" fill="#e01830"/>
<circle cx="705.6" cy="396.5" r="1.6" fill="#f02040"/>
<circle cx="696.6" cy="412.0" r="2.0" fill="#f02040"/>
<circle cx="689.7" cy="407.5" r="2.2" fill="#f02040"/>
<circle cx="701.1" cy="402.1" r="1.8" fill="#f02040"/>
<circle cx="707.7" cy="402.1" r="1.9" fill="#f02040"/>
<circle cx="702.7" cy="419.3" r="1.5" fill="#e01830"/>
<circle cx="699.1" cy="416.0" r="1.3" fill="#e01830"/>
<circle cx="699.3" cy="393.5" r="1.4" fill="#f02040"/>
<circle cx="702.7" cy="409.8" r="1.4" fill="#e01830"/>
<circle cx="706.9" cy="382.9" r="1.4" fill="#e01830"/>
<circle cx="698.6" cy="426.9" r="1.2" fill="#f02040"/>
<circle cx="699.8" cy="408.8" r="2.0" fill="#e01830"/>
<circle cx="701.3" cy="429.9" r="1.8" fill="#f02040"/>
<circle cx="713.4" cy="401.5" r="2.1" fill="#e01830"/>
<circle cx="696.5" cy="432.3" r="1.3" fill="#e01830"/>
<circle cx="700.2" cy="420.5" r="1.4" fill="#f02040"/>
<circle cx="710.0" cy="394.4" r="1.3" fill="#e01830"/>
<circle cx="701.1" cy="418.0" r="1.6" fill="#f02040"/>
<circle cx="710.7" cy="419.3" r="1.3" fill="#f02040"/>
<circle cx="702.2" cy="427.5" r="1.6" fill="#f02040"/>
<circle cx="693.4" cy="408.5" r="1.6" fill="#f02040"/>
<circle cx="697.2" cy="405.1" r="1.6" fill="#f02040"/>
<circle cx="700.5" cy="409.5" r="2.0" fill="#f02040"/>
<circle cx="707.8" cy="417.5" r="1.5" fill="#e01830"/>
<circle cx="736.2" cy="429.7" r="2.3" fill="#f02040"/>
<circle cx="734.1" cy="427.6" r="1.9" fill="#f02040"/>
<circle cx="734.5" cy="429.6" r="1.9" fill="#f02040"/>
<circle cx="733.8" cy="430.6" r="1.6" fill="#40e040"/>
<circle cx="735.5" cy="429.8" r="2.3" fill="#40e040"/>
<circle cx="738.4" cy="426.3" r="2.2" fill="#f02040"/>
<circle cx="729.3" cy="401.2" r="2.0" fill="#6a2ac8"/>
<circle cx="737.3" cy="441.2" r="2.0" fill="#6a2ac8"/>
<circle cx="734.6" cy="408.1" r="1.9" fill="#5a22b8"/>
<circle cx="735.2" cy="440.1" r="2.5" fill="#5a22b8"/>
<circle cx="735.5" cy="425.4" r="1.4" fill="#4a28c8"/>
<circle cx="730.0" cy="381.2" r="2.6" fill="#4a28c8"/>
<circle cx="727.1" cy="398.0" r="2.5" fill="#6a2ac8"/>
<circle cx="734.6" cy="406.8" r="1.6" fill="#4a28c8"/>
<circle cx="731.0" cy="411.4" r="1.6" fill="#4a28c8"/>
<circle cx="731.2" cy="408.5" r="1.9" fill="#4a28c8"/>
<circle cx="729.5" cy="402.9" r="2.5" fill="#5a22b8"/>
<circle cx="734.4" cy="435.2" r="1.6" fill="#5a22b8"/>
<circle cx="730.7" cy="436.5" r="2.6" fill="#6a2ac8"/>
<circle cx="731.9" cy="390.1" r="2.6" fill="#5a22b8"/>
<circle cx="736.6" cy="438.8" r="1.7" fill="#5a22b8"/>
<circle cx="734.7" cy="426.1" r="1.9" fill="#5a22b8"/>
<circle cx="733.0" cy="386.7" r="2.3" fill="#5a22b8"/>
<circle cx="731.8" cy="425.0" r="2.1" fill="#6a2ac8"/>
<circle cx="733.1" cy="419.4" r="2.6" fill="#4a28c8"/>
<circle cx="731.1" cy="384.8" r="2.5" fill="#5a22b8"/>
<circle cx="735.7" cy="429.2" r="2.2" fill="#6a2ac8"/>
<circle cx="736.7" cy="433.3" r="1.5" fill="#5a22b8"/>
<circle cx="729.1" cy="369.6" r="2.6" fill="#6a2ac8"/>
<circle cx="730.5" cy="399.1" r="1.9" fill="#6a2ac8"/>
<circle cx="732.7" cy="370.4" r="2.3" fill="#4a28c8"/>
<circle cx="732.1" cy="427.9" r="1.9" fill="#4a28c8"/>
<circle cx="733.3" cy="428.7" r="2.5" fill="#4a28c8"/>
<circle cx="737.0" cy="432.3" r="2.1" fill="#6a2ac8"/>
<circle cx="730.9" cy="374.9" r="2.1" fill="#6a2ac8"/>
<circle cx="731.8" cy="421.7" r="2.2" fill="#4a28c8"/>
<circle cx="735.1" cy="392.7" r="2.5" fill="#6a2ac8"/>
<circle cx="730.2" cy="416.3" r="2.0" fill="#4a28c8"/>
<circle cx="726.9" cy="366.2" r="1.8" fill="#6a2ac8"/>
<circle cx="728.3" cy="370.1" r="2.6" fill="#4a28c8"/>
<circle cx="734.8" cy="410.3" r="2.0" fill="#5a22b8"/>
<circle cx="733.5" cy="435.2" r="2.5" fill="#4a28c8"/>
<circle cx="727.8" cy="370.3" r="2.2" fill="#5a22b8"/>
<circle cx="728.9" cy="374.4" r="1.5" fill="#5a22b8"/>
<circle cx="731.8" cy="405.5" r="2.6" fill="#6a2ac8"/>
<circle cx="728.8" cy="380.9" r="2.0" fill="#5a22b8"/>
<circle cx="731.0" cy="397.2" r="2.1" fill="#6a2ac8"/>
<circle cx="731.9" cy="420.5" r="2.5" fill="#4a28c8"/>
<circle cx="735.5" cy="422.6" r="2.4" fill="#5a22b8"/>
<circle cx="734.3" cy="423.2" r="1.5" fill="#6a2ac8"/>
<circle cx="730.8" cy="429.6" r="1.5" fill="#6a2ac8"/>
<circle cx="746.8" cy="391.2" r="2.1" fill="#6a2ac8"/>
<circle cx="748.1" cy="373.1" r="2.4" fill="#5a22b8"/>
<circle cx="743.6" cy="347.8" r="2.2" fill="#3a40e0"/>
<circle cx="743.9" cy="376.2" r="2.6" fill="#4a28c8"/>
<circle cx="763.4" cy="442.4" r="2.2" fill="#5a22b8"/>
<circle cx="756.9" cy="429.0" r="1.7" fill="#4a28c8"/>
<circle cx="753.0" cy="418.7" r="1.5" fill="#4a28c8"/>
<circle cx="763.5" cy="435.2" r="2.1" fill="#3a40e0"/>
<circle cx="749.0" cy="393.8" r="2.7" fill="#5a22b8"/>
<circle cx="758.7" cy="416.8" r="1.9" fill="#3a40e0"/>
<circle cx="756.3" cy="424.3" r="2.6" fill="#6a2ac8"/>
<circle cx="755.7" cy="417.0" r="1.9" fill="#3a40e0"/>
<circle cx="750.8" cy="365.1" r="1.5" fill="#3a40e0"/>
<circle cx="747.3" cy="362.7" r="2.7" fill="#3a40e0"/>
<circle cx="746.4" cy="377.0" r="2.6" fill="#4a28c8"/>
<circle cx="741.8" cy="361.2" r="1.8" fill="#6a2ac8"/>
<circle cx="741.9" cy="365.4" r="2.3" fill="#6a2ac8"/>
<circle cx="765.6" cy="435.9" r="1.9" fill="#4a28c8"/>
<circle cx="761.7" cy="432.1" r="1.6" fill="#6a2ac8"/>
<circle cx="769.8" cy="443.3" r="1.5" fill="#3a40e0"/>
<circle cx="748.5" cy="383.4" r="2.4" fill="#6a2ac8"/>
<circle cx="746.4" cy="344.0" r="1.5" fill="#6a2ac8"/>
<circle cx="764.7" cy="445.2" r="1.5" fill="#4a28c8"/>
<circle cx="754.1" cy="401.2" r="2.0" fill="#6a2ac8"/>
<circle cx="739.4" cy="357.1" r="1.4" fill="#6a2ac8"/>
<circle cx="748.3" cy="402.3" r="2.4" fill="#4a28c8"/>
<circle cx="745.7" cy="369.9" r="1.7" fill="#6a2ac8"/>
<circle cx="763.3" cy="446.8" r="2.1" fill="#5a22b8"/>
<circle cx="740.8" cy="349.4" r="2.8" fill="#3a40e0"/>
<circle cx="747.5" cy="370.4" r="2.8" fill="#4a28c8"/>
<circle cx="742.8" cy="370.7" r="2.0" fill="#3a40e0"/>
<circle cx="766.6" cy="443.7" r="2.2" fill="#5a22b8"/>
<circle cx="756.2" cy="409.7" r="2.2" fill="#4a28c8"/>
<circle cx="747.0" cy="393.1" r="2.4" fill="#4a28c8"/>
<circle cx="754.3" cy="428.9" r="2.6" fill="#3a40e0"/>
<circle cx="760.2" cy="429.5" r="2.0" fill="#5a22b8"/>
<circle cx="748.3" cy="393.3" r="2.0" fill="#6a2ac8"/>
<circle cx="765.8" cy="434.1" r="1.8" fill="#6a2ac8"/>
<circle cx="757.3" cy="402.3" r="2.2" fill="#4a28c8"/>
<circle cx="746.4" cy="403.8" r="2.1" fill="#3a40e0"/>
<circle cx="746.7" cy="367.6" r="2.5" fill="#3a40e0"/>
<circle cx="766.8" cy="443.9" r="2.4" fill="#4a28c8"/>
<circle cx="758.9" cy="420.9" r="1.6" fill="#3a40e0"/>
<circle cx="744.2" cy="356.3" r="2.2" fill="#3a40e0"/>
<circle cx="743.2" cy="364.2" r="1.4" fill="#5a22b8"/>
<circle cx="750.7" cy="382.6" r="2.2" fill="#4a28c8"/>
<circle cx="748.5" cy="372.8" r="2.6" fill="#3a40e0"/>
<circle cx="749.3" cy="398.7" r="1.4" fill="#3a40e0"/>
<circle cx="760.7" cy="428.0" r="1.9" fill="#5a22b8"/>
<circle cx="747.9" cy="381.8" r="2.4" fill="#6a2ac8"/>
<circle cx="752.3" cy="404.4" r="2.6" fill="#4a28c8"/>
<circle cx="750.4" cy="380.8" r="2.5" fill="#6a2ac8"/>
<circle cx="742.0" cy="346.8" r="1.7" fill="#4a28c8"/>
<circle cx="743.5" cy="354.9" r="1.8" fill="#3a40e0"/>
<circle cx="751.9" cy="382.1" r="2.2" fill="#4a28c8"/>
<circle cx="764.8" cy="395.8" r="1.7" fill="#f02040"/>
<circle cx="756.1" cy="396.0" r="2.8" fill="#f02040"/>
<circle cx="758.4" cy="395.2" r="1.9" fill="#e01830"/>
<circle cx="760.8" cy="399.5" r="2.3" fill="#f02040"/>
<circle cx="754.5" cy="394.9" r="2.4" fill="#e01830"/>
<circle cx="755.9" cy="397.0" r="2.4" fill="#e01830"/>
<circle cx="758.2" cy="399.8" r="1.6" fill="#f02040"/>
<circle cx="750.8" cy="403.5" r="1.8" fill="#f02040"/>
<circle cx="759.5" cy="396.4" r="2.6" fill="#e01830"/>
<circle cx="759.3" cy="397.6" r="1.9" fill="#e01830"/>
<circle cx="757.7" cy="392.8" r="2.3" fill="#f02040"/>
<circle cx="762.4" cy="401.7" r="2.0" fill="#e01830"/>
<circle cx="767.4" cy="403.5" r="2.5" fill="#f02040"/>
<circle cx="751.7" cy="395.9" r="2.0" fill="#f02040"/>
<circle cx="759.4" cy="393.4" r="2.1" fill="#e01830"/>
<circle cx="762.2" cy="401.8" r="2.5" fill="#f02040"/>
<circle cx="757.6" cy="399.1" r="2.0" fill="#e01830"/>
<circle cx="759.1" cy="390.2" r="2.7" fill="#e01830"/>
<circle cx="752.2" cy="400.6" r="2.5" fill="#f02040"/>
<circle cx="757.2" cy="397.4" r="2.2" fill="#e01830"/>
<circle cx="764.1" cy="397.1" r="2.1" fill="#e01830"/>
<circle cx="756.2" cy="395.7" r="2.8" fill="#e01830"/>
<circle cx="762.1" cy="403.7" r="2.4" fill="#e01830"/>
<circle cx="759.7" cy="401.3" r="1.6" fill="#f02040"/>
<circle cx="813.8" cy="459.8" r="1.4" fill="#5a22b8"/>
<circle cx="803.6" cy="465.5" r="1.9" fill="#f02040"/>
<circle cx="777.2" cy="448.7" r="2.7" fill="#5a22b8"/>
<circle cx="762.2" cy="428.8" r="1.8" fill="#30b0f0"/>
<circle cx="812.6" cy="431.9" r="1.9" fill="#f09040"/>
<circle cx="789.3" cy="431.1" r="2.1" fill="#f8a8e0"/>
<circle cx="777.3" cy="392.3" r="1.7" fill="#f8a8e0"/>
<circle cx="774.2" cy="409.5" r="2.1" fill="#f09040"/>
<circle cx="795.8" cy="435.2" r="1.7" fill="#60e0e0"/>
<circle cx="813.8" cy="427.2" r="1.9" fill="#f02040"/>
<circle cx="785.0" cy="466.8" r="2.5" fill="#5a22b8"/>
<circle cx="775.6" cy="455.4" r="2.0" fill="#f09040"/>
<circle cx="814.9" cy="413.4" r="2.3" fill="#30b0f0"/>
<circle cx="789.7" cy="427.3" r="2.9" fill="#f8a8e0"/>
<circle cx="801.4" cy="386.3" r="1.3" fill="#40e040"/>
<circle cx="764.8" cy="451.7" r="2.9" fill="#f09040"/>
<circle cx="803.8" cy="461.4" r="2.7" fill="#40e040"/>
<circle cx="763.1" cy="392.9" r="2.5" fill="#f4e030"/>
<circle cx="782.7" cy="420.6" r="2.3" fill="#f8a8e0"/>
<circle cx="810.2" cy="438.6" r="2.1" fill="#f8a8e0"/>
<circle cx="781.2" cy="442.9" r="2.9" fill="#30b0f0"/>
<circle cx="787.6" cy="396.0" r="2.6" fill="#5a22b8"/>
<circle cx="787.8" cy="398.9" r="1.5" fill="#f4e030"/>
<circle cx="774.8" cy="394.9" r="2.5" fill="#30b0f0"/>
<circle cx="774.0" cy="440.0" r="2.6" fill="#f09040"/>
<circle cx="814.8" cy="408.0" r="2.1" fill="#5a22b8"/>
<circle cx="789.0" cy="394.0" r="2.6" fill="#40e040"/>
<circle cx="814.5" cy="455.0" r="1.4" fill="#40e040"/>
<circle cx="790.8" cy="395.6" r="2.7" fill="#f09040"/>
<circle cx="793.2" cy="407.5" r="2.5" fill="#5a22b8"/>
<circle cx="814.7" cy="434.0" r="2.5" fill="#5a22b8"/>
<circle cx="772.5" cy="445.5" r="2.6" fill="#30b0f0"/>
<circle cx="775.2" cy="448.2" r="2.8" fill="#40e040"/>
<circle cx="766.4" cy="398.1" r="1.8" fill="#f09040"/>
<circle cx="812.0" cy="417.0" r="1.7" fill="#5a22b8"/>
<circle cx="762.5" cy="466.5" r="1.5" fill="#f09040"/>
<circle cx="796.9" cy="461.0" r="1.8" fill="#30b0f0"/>
<circle cx="789.8" cy="410.1" r="1.7" fill="#30b0f0"/>
<circle cx="780.8" cy="449.2" r="2.2" fill="#f09040"/>
<circle cx="769.8" cy="443.9" r="2.8" fill="#f09040"/>
<circle cx="762.9" cy="406.7" r="2.5" fill="#30b0f0"/>
<circle cx="790.7" cy="424.8" r="2.2" fill="#f02040"/>
<circle cx="767.6" cy="422.3" r="2.6" fill="#f09040"/>
<circle cx="784.7" cy="431.6" r="2.6" fill="#40e040"/>
<circle cx="770.3" cy="434.7" r="2.0" fill="#40e040"/>
<circle cx="806.8" cy="445.5" r="2.8" fill="#60e0e0"/>
<circle cx="813.1" cy="411.1" r="2.6" fill="#f4e030"/>
<circle cx="788.3" cy="393.4" r="1.4" fill="#5a22b8"/>
<circle cx="774.4" cy="448.1" r="2.1" fill="#f8a8e0"/>
<circle cx="762.9" cy="429.3" r="2.2" fill="#60e0e0"/>
<circle cx="771.8" cy="384.1" r="1.8" fill="#f8a8e0"/>
<circle cx="803.8" cy="422.5" r="2.4" fill="#30b0f0"/>
<circle cx="791.9" cy="436.1" r="2.1" fill="#30b0f0"/>
<circle cx="806.0" cy="410.9" r="3.0" fill="#f8a8e0"/>
<circle cx="805.9" cy="447.5" r="2.3" fill="#f8a8e0"/>
<circle cx="706.4" cy="462.1" r="3.6" fill="#5a22b8"/>
<circle cx="705.8" cy="465.2" r="3.2" fill="#5a22b8"/>
<circle cx="705.2" cy="457.8" r="4.0" fill="#5a22b8"/>
<circle cx="705.5" cy="460.1" r="3.3" fill="#5a22b8"/>
<circle cx="701.3" cy="459.9" r="3.5" fill="#5a22b8"/>
<circle cx="703.8" cy="459.3" r="3.5" fill="#5a22b8"/>
<circle cx="707.6" cy="454.9" r="3.3" fill="#5a22b8"/>
<circle cx="700.6" cy="453.5" r="3.1" fill="#5a22b8"/>
<circle cx="703.9" cy="464.6" r="3.0" fill="#5a22b8"/>
<circle cx="686.2" cy="355.8" r="1.3" fill="#40e040"/>
<circle cx="649.5" cy="365.2" r="1.4" fill="#35a8f2"/>
<circle cx="699.8" cy="285.4" r="2.3" fill="#40e040"/>
<circle cx="675.8" cy="301.0" r="1.8" fill="#40e040"/>
<circle cx="674.9" cy="374.6" r="2.5" fill="#35a8f2"/>
<circle cx="693.2" cy="421.1" r="1.9" fill="#35a8f2"/>
<circle cx="687.2" cy="327.8" r="1.9" fill="#35a8f2"/>
<circle cx="683.7" cy="466.8" r="1.9" fill="#f4e030"/>
<circle cx="656.6" cy="283.7" r="2.0" fill="#35a8f2"/>
<circle cx="682.4" cy="282.8" r="2.2" fill="#40e040"/>
<circle cx="633.3" cy="458.9" r="1.6" fill="#f4e030"/>
<circle cx="690.8" cy="373.6" r="2.4" fill="#35a8f2"/>
<circle cx="668.6" cy="321.1" r="1.6" fill="#f4e030"/>
<circle cx="633.0" cy="380.3" r="1.5" fill="#f4e030"/>
<circle cx="647.7" cy="293.7" r="2.1" fill="#2a60e0"/>
<circle cx="661.8" cy="410.5" r="2.1" fill="#35a8f2"/>
<circle cx="676.1" cy="327.2" r="2.3" fill="#40e040"/>
<circle cx="679.6" cy="309.1" r="2.2" fill="#f4e030"/>
<circle cx="642.5" cy="416.3" r="1.7" fill="#35a8f2"/>
<circle cx="655.8" cy="319.2" r="1.8" fill="#40e040"/>
<circle cx="641.2" cy="350.0" r="1.7" fill="#2a60e0"/>
<circle cx="685.0" cy="322.7" r="1.9" fill="#35a8f2"/>
<circle cx="762.2" cy="459.5" r="2.6" fill="#35a8f2"/>
<circle cx="757.2" cy="452.6" r="2.9" fill="#35a8f2"/>
<circle cx="743.1" cy="464.1" r="1.9" fill="#35a8f2"/>
<circle cx="746.5" cy="464.0" r="2.5" fill="#35a8f2"/>
<circle cx="760.0" cy="461.4" r="1.9" fill="#35a8f2"/>
<circle cx="743.9" cy="463.4" r="2.8" fill="#35a8f2"/>
<circle cx="747.7" cy="459.1" r="2.6" fill="#35a8f2"/>
<circle cx="750.8" cy="467.2" r="2.3" fill="#35a8f2"/>
<circle cx="724.2" cy="460.8" r="2.4" fill="#30b0f0"/>
<circle cx="722.2" cy="459.1" r="2.1" fill="#30b0f0"/>
<circle cx="714.2" cy="460.7" r="2.8" fill="#60e0e0"/>
<circle cx="715.3" cy="456.8" r="2.5" fill="#60e0e0"/>
<circle cx="717.3" cy="459.2" r="2.0" fill="#60e0e0"/>
<circle cx="719.5" cy="463.9" r="2.6" fill="#60e0e0"/>
<path d="M687,474.4 V264 H725.6 V358.4" fill="none" stroke="#fff" stroke-width="1.3"/>
<rect x="687" y="358.4" width="56" height="116" fill="none" stroke="#fff" stroke-width="1.3"/>
<rect x="686" y="357.2" width="130.7" height="116.5" fill="none" stroke="#111" stroke-width="1.3"/>
<path d="M693.0,377.6 694.3,380.8 697.8,381.1 695.1,383.3 695.9,386.6 693.0,384.9 690.1,386.6 690.9,383.3 688.2,381.1 691.7,380.8Z" fill="none" stroke="#e02030" stroke-width="1.2" />
<path d="M705.7,376.7 707.0,379.9 710.5,380.2 707.8,382.4 708.6,385.7 705.7,383.9 702.8,385.7 703.6,382.4 700.9,380.2 704.4,379.9Z" fill="none" stroke="#e02030" stroke-width="1.2" />
<path d="M696.5,384.0 698.1,387.8 702.2,388.1 699.1,390.8 700.0,394.9 696.5,392.7 693.0,394.9 693.9,390.8 690.8,388.1 694.9,387.8Z" fill="none" stroke="#e02030" stroke-width="1.2" />
<path d="M698.4,392.0 700.3,396.5 705.1,396.8 701.4,400.0 702.5,404.7 698.4,402.1 694.3,404.7 695.4,400.0 691.7,396.8 696.5,396.5Z" fill="none" stroke="#e02030" stroke-width="1.2" />
<path d="M700.0,398.6 701.6,402.4 705.7,402.7 702.6,405.4 703.5,409.5 700.0,407.3 696.5,409.5 697.4,405.4 694.3,402.7 698.4,402.4Z" fill="none" stroke="#e02030" stroke-width="1.2" />
<path d="M704.0,407.7 706.1,412.8 711.6,413.2 707.4,416.8 708.7,422.2 704.0,419.3 699.3,422.2 700.6,416.8 696.4,413.2 701.9,412.8Z" fill="none" stroke="#e02030" stroke-width="1.2" />
<path d="M707.6,411.0 710.2,417.4 717.1,417.9 711.9,422.4 713.5,429.1 707.6,425.5 701.7,429.1 703.3,422.4 698.1,417.9 705.0,417.4Z" fill="none" stroke="#e02030" stroke-width="1.2" />
<path d="M709.0,418.7 711.1,423.8 716.6,424.2 712.4,427.8 713.7,433.2 709.0,430.3 704.3,433.2 705.6,427.8 701.4,424.2 706.9,423.8Z" fill="none" stroke="#e02030" stroke-width="1.2" />
<path d="M701.0,404.0 702.6,407.8 706.7,408.1 703.6,410.8 704.5,414.9 701.0,412.7 697.5,414.9 698.4,410.8 695.3,408.1 699.4,407.8Z" fill="none" stroke="#e02030" stroke-width="1.2" />
<path d="M697.0,413.0 698.3,416.2 701.8,416.5 699.1,418.7 699.9,422.0 697.0,420.2 694.1,422.0 694.9,418.7 692.2,416.5 695.7,416.2Z" fill="none" stroke="#e02030" stroke-width="1.2" />
<path d="M692.0,390.0 693.3,393.2 696.8,393.5 694.1,395.7 694.9,399.0 692.0,397.2 689.1,399.0 689.9,395.7 687.2,393.5 690.7,393.2Z" fill="none" stroke="#e02030" stroke-width="1.2" />
<path d="M703.0,390.0 704.3,393.2 707.8,393.5 705.1,395.7 705.9,399.0 703.0,397.2 700.1,399.0 700.9,395.7 698.2,393.5 701.7,393.2Z" fill="none" stroke="#e02030" stroke-width="1.2" />
<path d="M695.0,419.0 696.6,422.8 700.7,423.1 697.6,425.8 698.5,429.9 695.0,427.7 691.5,429.9 692.4,425.8 689.3,423.1 693.4,422.8Z" fill="none" stroke="#e02030" stroke-width="1.2" />
<path d="M710.0,406.0 711.6,409.8 715.7,410.1 712.6,412.8 713.5,416.9 710.0,414.7 706.5,416.9 707.4,412.8 704.3,410.1 708.4,409.8Z" fill="none" stroke="#e02030" stroke-width="1.2" />
<path d="M706.0,426.0 707.6,429.8 711.7,430.1 708.6,432.8 709.5,436.9 706.0,434.7 702.5,436.9 703.4,432.8 700.3,430.1 704.4,429.8Z" fill="none" stroke="#e02030" stroke-width="1.2" />
<path d="M699.0,423.0 700.3,426.2 703.8,426.5 701.1,428.7 701.9,432.0 699.0,430.2 696.1,432.0 696.9,428.7 694.2,426.5 697.7,426.2Z" fill="none" stroke="#e02030" stroke-width="1.2" />
<path d="M687.7,292.4 689.0,295.6 692.5,295.9 689.8,298.1 690.6,301.4 687.7,299.6 684.8,301.4 685.6,298.1 682.9,295.9 686.4,295.6Z" fill="none" stroke="#e02030" stroke-width="1.2" />
<path d="M705.0,305.0 706.6,308.8 710.7,309.1 707.6,311.8 708.5,315.9 705.0,313.7 701.5,315.9 702.4,311.8 699.3,309.1 703.4,308.8Z" fill="none" stroke="#e02030" stroke-width="1.2" />
<path d="M707.0,326.0 708.6,329.8 712.7,330.1 709.6,332.8 710.5,336.9 707.0,334.7 703.5,336.9 704.4,332.8 701.3,330.1 705.4,329.8Z" fill="none" stroke="#e02030" stroke-width="1.2" />
<path d="M699.0,315.5 700.3,318.7 703.8,319.0 701.1,321.2 701.9,324.5 699.0,322.8 696.1,324.5 696.9,321.2 694.2,319.0 697.7,318.7Z" fill="none" stroke="#e02030" stroke-width="1.2" />
<path d="M661.0,355.0 662.6,358.8 666.7,359.1 663.6,361.8 664.5,365.9 661.0,363.7 657.5,365.9 658.4,361.8 655.3,359.1 659.4,358.8Z" fill="none" stroke="#e02030" stroke-width="1.2" />
<path d="M762.0,366.0 763.9,370.5 768.7,370.8 765.0,374.0 766.1,378.7 762.0,376.1 757.9,378.7 759.0,374.0 755.3,370.8 760.1,370.5Z" fill="#f0c040" stroke="#e02030" stroke-width="1.2" />
<path d="M783.0,427.0 784.6,430.8 788.7,431.1 785.6,433.8 786.5,437.9 783.0,435.7 779.5,437.9 780.4,433.8 777.3,431.1 781.4,430.8Z" fill="#f0a040" stroke="#e02030" stroke-width="1.2" />
<path d="M668.0,171.0 669.9,175.5 674.7,175.8 671.0,179.0 672.1,183.7 668.0,181.2 663.9,183.7 665.0,179.0 661.3,175.8 666.1,175.5Z" fill="#4060e0" stroke="#e02030" stroke-width="1.2" />
<path d="M728.9,449.2 L784,376.3 M682.3,413.6 L725.2,398.9 M683.3,332.7 L725,320.5" stroke="#e02020" stroke-width="1.6"/>
<text x="730.0" y="461.4" font-size="17" fill="#111" textLength="11.0" lengthAdjust="spacingAndGlyphs" stroke="#111" stroke-width="0.3">A</text>
<text x="790.0" y="379.0" font-size="17" fill="#111" textLength="12.5" lengthAdjust="spacingAndGlyphs" stroke="#111" stroke-width="0.3">A'</text>
<text x="670.0" y="418.5" font-size="17" fill="#111" textLength="9.5" lengthAdjust="spacingAndGlyphs" stroke="#111" stroke-width="0.3">C</text>
<text x="719.0" y="389.0" font-size="17" fill="#111" textLength="15.0" lengthAdjust="spacingAndGlyphs" stroke="#111" stroke-width="0.3">C'</text>
<text x="671.7" y="336.4" font-size="17" fill="#111" textLength="9.5" lengthAdjust="spacingAndGlyphs" stroke="#111" stroke-width="0.3">B</text>
<text x="740.4" y="318.0" font-size="17" fill="#111" textLength="12.8" lengthAdjust="spacingAndGlyphs" stroke="#111" stroke-width="0.3">B'</text>
<text x="612.1" y="299.1" font-size="12.5" fill="#111" font-style="italic" textLength="62.6" lengthAdjust="spacingAndGlyphs" >1984-1985</text>
<text x="617.0" y="381.0" font-size="12.5" fill="#111" font-style="italic" textLength="62.6" lengthAdjust="spacingAndGlyphs" >2016-2018</text>
<text x="753.2" y="344.3" font-size="12.5" fill="#111" font-style="italic" textLength="62.5" lengthAdjust="spacingAndGlyphs" >1980-1981</text>
<text x="694.7" y="145.3" font-size="23" fill="#111" textLength="170.0" lengthAdjust="spacingAndGlyphs" transform="rotate(62.62 694.7 145.3)" >Cahuilla Swarms</text>
<text x="614.0" y="175.5" font-size="13" fill="#222" textLength="37.6" lengthAdjust="spacingAndGlyphs" >33˚36'</text>
<text x="614.0" y="477.5" font-size="13" fill="#222" textLength="37.6" lengthAdjust="spacingAndGlyphs" >33˚28'</text>
<text x="773.6" y="124.5" font-size="13" fill="#222" text-anchor="middle" >km</text>
<rect x="742.4" y="132.2" width="62.6" height="3" fill="#fff" stroke="#000" stroke-width="0.4"/>
<rect x="742.4" y="132.2" width="10.6" height="3"/>
<rect x="763.5" y="132.2" width="10.5" height="3"/>
<rect x="784" y="132.2" width="11.0" height="3"/>
<path d="M742.4,132.2 V137.5 M763.4,132.2 V137.5 M784,132.2 V137.5 M805,132.2 V137.5" stroke="#000" stroke-width="0.7"/>
<text x="742.4" y="151.5" font-size="12.5" fill="#222" text-anchor="middle" >0</text>
<text x="763.4" y="151.5" font-size="12.5" fill="#222" text-anchor="middle" >1</text>
<text x="784.0" y="151.5" font-size="12.5" fill="#222" text-anchor="middle" >2</text>
<text x="805.0" y="151.5" font-size="12.5" fill="#222" text-anchor="middle" >3</text>
<rect x="641.9" y="479.3" width="152.8" height="15.5" fill="url(#cbar)" stroke="#000" stroke-width="1"/>
<text x="703.3" y="491.6" font-size="13" fill="#1b4a30" textLength="32.2" lengthAdjust="spacingAndGlyphs" >Years</text>
<line x1="641.9" y1="494.8" x2="641.9" y2="499" stroke="#222" stroke-width="0.7"/>
<text x="641.9" y="515.0" font-size="12.5" fill="#222" text-anchor="middle" >1980</text>
<line x1="681.1" y1="494.8" x2="681.1" y2="499" stroke="#222" stroke-width="0.7"/>
<text x="681.1" y="515.0" font-size="12.5" fill="#222" text-anchor="middle" >1990</text>
<line x1="720.3" y1="494.8" x2="720.3" y2="499" stroke="#222" stroke-width="0.7"/>
<text x="720.3" y="515.0" font-size="12.5" fill="#222" text-anchor="middle" >2000</text>
<line x1="759.5" y1="494.8" x2="759.5" y2="499" stroke="#222" stroke-width="0.7"/>
<text x="759.5" y="515.0" font-size="12.5" fill="#222" text-anchor="middle" >2010</text>
</g>
<rect x="606" y="99" width="219.5" height="423.5" fill="none" stroke="#666" stroke-width="0.6"/>
<rect x="607.5" y="100.5" width="216.5" height="420.5" fill="none" stroke="#fff" stroke-width="3"/>
<rect x="622" y="99" width="32.3" height="3"/>
<rect x="622" y="519.5" width="32.3" height="3"/>
<rect x="686.6" y="99" width="32.3" height="3"/>
<rect x="686.6" y="519.5" width="32.3" height="3"/>
<rect x="751.2" y="99" width="32.3" height="3"/>
<rect x="751.2" y="519.5" width="32.3" height="3"/>
<rect x="815.8" y="99" width="6.7" height="3"/>
<rect x="815.8" y="519.5" width="6.7" height="3"/>
<rect x="606" y="442.4" width="3" height="38.6"/>
<rect x="822.5" y="442.4" width="3" height="38.6"/>
<rect x="606" y="365.2" width="3" height="38.6"/>
<rect x="822.5" y="365.2" width="3" height="38.6"/>
<rect x="606" y="288" width="3" height="38.6"/>
<rect x="822.5" y="288" width="3" height="38.6"/>
<rect x="606" y="210.8" width="3" height="38.6"/>
<rect x="822.5" y="210.8" width="3" height="38.6"/>
<rect x="606" y="133.6" width="3" height="38.6"/>
<rect x="822.5" y="133.6" width="3" height="38.6"/>
<rect x="609" y="102" width="213.5" height="417.5" fill="none" stroke="#888" stroke-width="0.5"/>
<text x="623.8" y="540.0" font-size="13" fill="#222" text-anchor="middle" textLength="47.5" lengthAdjust="spacingAndGlyphs" >-116˚50'</text>
<text x="817.0" y="540.0" font-size="13" fill="#222" text-anchor="middle" textLength="46.5" lengthAdjust="spacingAndGlyphs" >-116˚44'</text>
<text x="605.8" y="78.7" font-size="21.5" fill="#000" font-weight="bold" >(b)</text>
<rect x="829" y="99.5" width="496.5" height="420.0" fill="#616161"/>
<g clip-path="url(#clipC)">
<path d="M1310.0,362.0 1318.0,361.0 1326.0,362.0 1326.0,455.0 1318.0,452.0 1312.0,446.0 1308.0,436.0 1302.0,428.0 1298.0,420.0 1296.0,410.0 1298.0,398.0 1302.0,390.0 1306.0,380.0 1308.0,370.0Z" fill="#f2cde6"/>
<g stroke="#fff" stroke-opacity="0.9" stroke-width="0.8">
<circle cx="846.3" cy="435.9" r="2.2" fill="#b89ce2"/>
<circle cx="849.5" cy="454.8" r="1.3" fill="#b69fe5"/>
<circle cx="855.1" cy="426.1" r="3.4" fill="#b2a3ea"/>
<circle cx="842.1" cy="383.9" r="1.9" fill="#bb99de"/>
<circle cx="829.6" cy="380.8" r="1.6" fill="#b896d2"/>
<circle cx="850.2" cy="374.8" r="2.2" fill="#b69fe6"/>
<circle cx="846.1" cy="371.3" r="1.3" fill="#b89ce2"/>
<circle cx="835.0" cy="380.6" r="2.4" fill="#b997d7"/>
<circle cx="837.2" cy="459.0" r="1.9" fill="#ba98d9"/>
<circle cx="834.8" cy="456.8" r="2.1" fill="#b997d7"/>
<circle cx="853.7" cy="389.4" r="1.7" fill="#b3a2e9"/>
<circle cx="833.2" cy="364.8" r="1.6" fill="#b997d5"/>
<circle cx="829.3" cy="429.2" r="1.7" fill="#b896d2"/>
<circle cx="851.7" cy="408.5" r="1.6" fill="#b4a0e7"/>
<circle cx="848.5" cy="364.0" r="3.6" fill="#b79ee4"/>
<circle cx="849.8" cy="446.7" r="1.3" fill="#b69fe5"/>
<circle cx="839.3" cy="418.7" r="2.0" fill="#bb99db"/>
<circle cx="834.2" cy="458.3" r="1.5" fill="#b997d6"/>
<circle cx="854.7" cy="456.9" r="1.7" fill="#b2a2ea"/>
<circle cx="843.6" cy="439.4" r="1.4" fill="#ba9bdf"/>
<circle cx="851.1" cy="448.3" r="1.3" fill="#b5a0e6"/>
<circle cx="831.7" cy="393.8" r="2.0" fill="#b897d4"/>
<circle cx="838.5" cy="455.0" r="1.9" fill="#ba98db"/>
<circle cx="837.9" cy="376.6" r="1.4" fill="#ba98da"/>
<circle cx="848.1" cy="462.7" r="2.2" fill="#b79ee4"/>
<circle cx="856.3" cy="414.0" r="1.7" fill="#b1a4eb"/>
<circle cx="845.5" cy="444.8" r="1.8" fill="#b99ce1"/>
<circle cx="830.8" cy="454.2" r="1.3" fill="#b896d3"/>
<circle cx="852.2" cy="371.7" r="2.1" fill="#b4a0e8"/>
<circle cx="846.5" cy="440.7" r="1.4" fill="#b89ce2"/>
<circle cx="833.3" cy="446.7" r="1.6" fill="#b997d6"/>
<circle cx="856.6" cy="447.5" r="2.4" fill="#b1a4ec"/>
<circle cx="842.6" cy="434.6" r="1.8" fill="#bb9adf"/>
<circle cx="840.3" cy="373.4" r="1.7" fill="#bb99dc"/>
<circle cx="855.5" cy="423.8" r="1.8" fill="#b2a3eb"/>
<circle cx="831.7" cy="386.6" r="2.2" fill="#b897d4"/>
<circle cx="839.1" cy="440.5" r="2.2" fill="#bb99db"/>
<circle cx="847.4" cy="437.8" r="1.7" fill="#b79de3"/>
<circle cx="836.9" cy="409.0" r="2.1" fill="#ba98d9"/>
<circle cx="837.3" cy="457.3" r="2.0" fill="#ba98d9"/>
<circle cx="829.6" cy="415.4" r="1.6" fill="#b896d2"/>
<circle cx="841.9" cy="443.8" r="2.0" fill="#bb99de"/>
<circle cx="838.8" cy="425.6" r="2.1" fill="#ba98db"/>
<circle cx="838.8" cy="446.5" r="2.3" fill="#bb98db"/>
<circle cx="856.0" cy="458.4" r="1.9" fill="#b1a3eb"/>
<circle cx="833.8" cy="445.8" r="2.3" fill="#b997d6"/>
<circle cx="848.2" cy="433.6" r="2.1" fill="#b79ee4"/>
<circle cx="850.6" cy="419.0" r="2.0" fill="#b5a0e6"/>
<circle cx="846.3" cy="439.3" r="2.0" fill="#b89ce2"/>
<circle cx="830.0" cy="374.8" r="1.8" fill="#b896d2"/>
<circle cx="835.2" cy="430.0" r="3.0" fill="#b997d7"/>
<circle cx="842.2" cy="381.8" r="1.4" fill="#bb99de"/>
<circle cx="837.9" cy="377.1" r="2.3" fill="#ba98da"/>
<circle cx="842.0" cy="397.9" r="2.0" fill="#bb99de"/>
<circle cx="835.8" cy="452.8" r="1.3" fill="#ba97d8"/>
<circle cx="836.9" cy="401.1" r="1.4" fill="#ba98d9"/>
<circle cx="839.5" cy="361.8" r="3.0" fill="#bb99db"/>
<circle cx="844.2" cy="393.6" r="1.9" fill="#ba9be0"/>
<circle cx="851.7" cy="402.0" r="2.2" fill="#b4a0e7"/>
<circle cx="839.4" cy="372.9" r="2.0" fill="#bb99db"/>
<circle cx="855.5" cy="459.6" r="2.0" fill="#b2a3ea"/>
<circle cx="853.7" cy="358.1" r="1.4" fill="#b3a2e9"/>
<circle cx="846.1" cy="372.8" r="2.0" fill="#b89ce2"/>
<circle cx="839.5" cy="403.3" r="1.5" fill="#bb99db"/>
<circle cx="855.9" cy="397.9" r="2.4" fill="#b1a3eb"/>
<circle cx="845.6" cy="385.3" r="2.4" fill="#b99ce1"/>
<circle cx="840.6" cy="391.5" r="2.4" fill="#bb99dd"/>
<circle cx="837.1" cy="408.1" r="1.4" fill="#ba98d9"/>
<circle cx="841.4" cy="388.8" r="2.2" fill="#bb99de"/>
<circle cx="829.6" cy="413.9" r="1.6" fill="#b896d2"/>
<circle cx="850.7" cy="383.8" r="1.6" fill="#b5a0e6"/>
<circle cx="856.3" cy="388.8" r="2.0" fill="#b1a4eb"/>
<circle cx="846.9" cy="421.4" r="3.2" fill="#b89de3"/>
<circle cx="850.1" cy="389.6" r="1.9" fill="#b69fe5"/>
<circle cx="837.4" cy="413.6" r="1.8" fill="#ba98da"/>
<circle cx="849.6" cy="420.0" r="1.3" fill="#b69fe5"/>
<circle cx="841.7" cy="454.2" r="2.3" fill="#bb99de"/>
<circle cx="829.6" cy="439.7" r="1.8" fill="#b896d2"/>
<circle cx="848.6" cy="424.4" r="1.8" fill="#b79ee4"/>
<circle cx="839.8" cy="399.1" r="2.2" fill="#bb99dc"/>
<circle cx="837.4" cy="445.2" r="1.4" fill="#ba98da"/>
<circle cx="848.3" cy="403.4" r="1.6" fill="#b79ee4"/>
<circle cx="854.2" cy="373.0" r="1.8" fill="#b2a2e9"/>
<circle cx="842.9" cy="392.7" r="1.5" fill="#bb9adf"/>
<circle cx="851.5" cy="365.2" r="1.6" fill="#b4a0e7"/>
<circle cx="850.9" cy="427.7" r="1.3" fill="#b5a0e6"/>
<circle cx="856.0" cy="462.8" r="3.1" fill="#b1a3eb"/>
<circle cx="852.3" cy="381.0" r="2.0" fill="#b4a0e8"/>
<circle cx="848.7" cy="372.1" r="1.6" fill="#b79ee4"/>
<circle cx="833.3" cy="422.1" r="1.8" fill="#b997d6"/>
<circle cx="846.3" cy="362.6" r="1.4" fill="#b89ce2"/>
<circle cx="831.2" cy="364.0" r="1.9" fill="#b897d3"/>
<circle cx="853.3" cy="372.1" r="1.8" fill="#b3a1e8"/>
<circle cx="845.7" cy="409.4" r="2.3" fill="#b99ce1"/>
<circle cx="830.8" cy="431.2" r="1.5" fill="#b896d3"/>
<circle cx="843.1" cy="453.6" r="1.9" fill="#bb9adf"/>
<circle cx="836.4" cy="415.9" r="1.6" fill="#ba98d9"/>
<circle cx="843.4" cy="372.0" r="1.6" fill="#bb9adf"/>
<circle cx="849.4" cy="376.8" r="2.1" fill="#b69fe5"/>
<circle cx="831.6" cy="428.1" r="1.4" fill="#b897d4"/>
<circle cx="845.5" cy="383.1" r="2.3" fill="#b99ce1"/>
<circle cx="838.1" cy="441.6" r="1.3" fill="#ba98da"/>
<circle cx="830.7" cy="373.8" r="2.3" fill="#b896d3"/>
<circle cx="835.3" cy="370.2" r="2.4" fill="#ba97d7"/>
<circle cx="851.7" cy="372.7" r="2.0" fill="#b4a0e7"/>
<circle cx="835.7" cy="393.0" r="2.0" fill="#ba97d8"/>
<circle cx="839.8" cy="372.3" r="2.2" fill="#bb99dc"/>
<circle cx="851.3" cy="403.5" r="2.2" fill="#b5a0e7"/>
<circle cx="845.5" cy="418.2" r="2.1" fill="#b99ce1"/>
<circle cx="831.9" cy="361.5" r="2.3" fill="#b997d4"/>
<circle cx="853.6" cy="408.5" r="3.2" fill="#b3a1e9"/>
<circle cx="842.1" cy="451.4" r="2.0" fill="#bb99de"/>
<circle cx="842.0" cy="368.5" r="1.5" fill="#bb99de"/>
<circle cx="839.5" cy="398.5" r="2.3" fill="#bb99db"/>
<circle cx="836.2" cy="387.1" r="1.5" fill="#ba98d8"/>
<circle cx="835.7" cy="408.6" r="1.3" fill="#ba97d8"/>
<circle cx="839.3" cy="456.5" r="2.1" fill="#bb99db"/>
<circle cx="842.2" cy="457.3" r="1.4" fill="#bb99de"/>
<circle cx="837.2" cy="428.8" r="2.1" fill="#ba98d9"/>
<circle cx="834.7" cy="360.6" r="2.3" fill="#b997d7"/>
<circle cx="840.2" cy="460.2" r="1.7" fill="#bb99dc"/>
<circle cx="842.1" cy="387.7" r="2.1" fill="#bb99de"/>
<circle cx="833.7" cy="383.3" r="2.0" fill="#b997d6"/>
<circle cx="846.9" cy="403.2" r="3.6" fill="#b89de3"/>
<circle cx="830.9" cy="439.8" r="2.6" fill="#b897d3"/>
<circle cx="844.3" cy="461.9" r="1.9" fill="#ba9be0"/>
<circle cx="831.8" cy="365.5" r="2.3" fill="#b897d4"/>
<circle cx="854.9" cy="363.6" r="2.4" fill="#b2a2ea"/>
<circle cx="840.1" cy="364.3" r="1.6" fill="#bb99dc"/>
<circle cx="837.6" cy="363.4" r="1.3" fill="#ba98da"/>
<circle cx="834.2" cy="411.4" r="1.7" fill="#b997d6"/>
<circle cx="831.6" cy="391.0" r="1.4" fill="#b897d4"/>
<circle cx="854.5" cy="420.8" r="2.2" fill="#b2a2e9"/>
<circle cx="829.7" cy="414.7" r="1.8" fill="#b896d2"/>
<circle cx="839.6" cy="423.6" r="2.1" fill="#bb99db"/>
<circle cx="837.7" cy="405.1" r="2.2" fill="#ba98da"/>
<circle cx="832.4" cy="390.7" r="1.4" fill="#b997d5"/>
<circle cx="851.7" cy="390.9" r="2.2" fill="#b4a0e7"/>
<circle cx="835.9" cy="366.9" r="1.8" fill="#ba98d8"/>
<circle cx="836.0" cy="364.5" r="3.1" fill="#ba98d8"/>
<circle cx="834.7" cy="388.0" r="2.6" fill="#b997d7"/>
<circle cx="840.8" cy="391.0" r="2.1" fill="#bb99dd"/>
<circle cx="853.8" cy="426.7" r="2.1" fill="#b3a2e9"/>
<circle cx="841.3" cy="443.8" r="2.0" fill="#bb99dd"/>
<circle cx="849.2" cy="431.6" r="1.6" fill="#b69ee5"/>
<circle cx="839.7" cy="371.7" r="1.4" fill="#bb99dc"/>
<circle cx="836.4" cy="429.0" r="2.4" fill="#ba98d8"/>
<circle cx="850.2" cy="416.5" r="2.0" fill="#b69fe6"/>
<circle cx="832.8" cy="395.5" r="2.2" fill="#b997d5"/>
<circle cx="846.0" cy="382.3" r="1.8" fill="#b89ce2"/>
<circle cx="838.3" cy="359.3" r="1.9" fill="#ba98db"/>
<circle cx="849.1" cy="368.0" r="1.9" fill="#b69ee5"/>
<circle cx="848.7" cy="404.9" r="2.3" fill="#b79ee4"/>
<circle cx="832.5" cy="391.3" r="2.3" fill="#b997d5"/>
<circle cx="841.1" cy="404.3" r="2.1" fill="#bb99dd"/>
<circle cx="843.8" cy="459.8" r="2.9" fill="#ba9be0"/>
<circle cx="851.5" cy="402.0" r="1.4" fill="#b4a0e7"/>
<circle cx="830.1" cy="418.6" r="1.8" fill="#b896d2"/>
<circle cx="840.0" cy="380.6" r="1.6" fill="#bb99dc"/>
<circle cx="844.6" cy="395.5" r="2.1" fill="#ba9be0"/>
<circle cx="838.9" cy="384.1" r="2.4" fill="#bb98db"/>
<circle cx="852.5" cy="422.9" r="1.7" fill="#b4a1e8"/>
<circle cx="852.0" cy="409.5" r="1.3" fill="#b4a0e7"/>
<circle cx="831.9" cy="433.4" r="2.3" fill="#b997d4"/>
<circle cx="851.1" cy="392.0" r="2.1" fill="#b5a0e6"/>
<circle cx="846.3" cy="442.0" r="2.6" fill="#b89ce2"/>
<circle cx="843.3" cy="419.6" r="1.5" fill="#bb9adf"/>
<circle cx="837.9" cy="360.8" r="1.6" fill="#ba98da"/>
<circle cx="842.3" cy="431.9" r="1.7" fill="#bb99de"/>
<circle cx="851.6" cy="455.0" r="2.1" fill="#b4a0e7"/>
<circle cx="843.9" cy="441.9" r="1.7" fill="#ba9be0"/>
<circle cx="847.8" cy="412.8" r="2.4" fill="#b79de4"/>
<circle cx="831.6" cy="395.4" r="1.9" fill="#b897d4"/>
<circle cx="848.8" cy="390.2" r="2.3" fill="#b79ee4"/>
<circle cx="848.8" cy="365.6" r="2.1" fill="#b79ee4"/>
<circle cx="855.4" cy="452.2" r="2.1" fill="#b2a3ea"/>
<circle cx="849.5" cy="422.2" r="1.5" fill="#b69fe5"/>
<circle cx="853.8" cy="383.1" r="2.4" fill="#b3a2e9"/>
<circle cx="840.0" cy="358.3" r="1.7" fill="#bb99dc"/>
<circle cx="847.1" cy="452.5" r="2.3" fill="#b89de3"/>
<circle cx="839.8" cy="369.4" r="2.1" fill="#bb99dc"/>
<circle cx="848.8" cy="397.3" r="2.3" fill="#b79ee4"/>
<circle cx="837.6" cy="386.1" r="2.0" fill="#ba98da"/>
<circle cx="833.8" cy="424.4" r="2.1" fill="#b997d6"/>
<circle cx="831.0" cy="417.4" r="2.2" fill="#b897d3"/>
<circle cx="849.2" cy="401.8" r="1.8" fill="#b69ee5"/>
<circle cx="854.0" cy="389.7" r="1.6" fill="#b2a2e9"/>
<circle cx="855.7" cy="377.7" r="2.0" fill="#b2a3eb"/>
<circle cx="844.6" cy="421.4" r="1.5" fill="#ba9be0"/>
<circle cx="845.5" cy="425.9" r="2.1" fill="#b99ce1"/>
<circle cx="830.9" cy="408.9" r="2.2" fill="#b897d3"/>
<circle cx="838.0" cy="447.3" r="2.0" fill="#ba98da"/>
<circle cx="835.5" cy="431.2" r="2.2" fill="#ba97d7"/>
<circle cx="832.0" cy="378.3" r="2.2" fill="#b997d4"/>
<circle cx="833.4" cy="422.7" r="1.4" fill="#b997d6"/>
<circle cx="849.4" cy="443.7" r="2.2" fill="#b69fe5"/>
<circle cx="854.5" cy="458.5" r="2.0" fill="#b2a2ea"/>
<circle cx="832.1" cy="368.8" r="1.4" fill="#b997d4"/>
<circle cx="839.5" cy="406.2" r="2.0" fill="#bb99db"/>
<circle cx="831.5" cy="400.3" r="1.9" fill="#b897d4"/>
<circle cx="832.5" cy="420.7" r="1.7" fill="#b997d5"/>
<circle cx="842.8" cy="459.1" r="3.5" fill="#bb9adf"/>
<circle cx="850.0" cy="433.7" r="2.4" fill="#b69fe5"/>
<circle cx="842.4" cy="395.2" r="2.1" fill="#bb9adf"/>
<circle cx="839.7" cy="388.5" r="1.8" fill="#bb99dc"/>
<circle cx="850.8" cy="418.4" r="1.6" fill="#b5a0e6"/>
<circle cx="852.5" cy="412.5" r="1.4" fill="#b4a1e8"/>
<circle cx="835.8" cy="428.0" r="1.4" fill="#ba97d8"/>
<circle cx="831.9" cy="408.1" r="2.4" fill="#b997d4"/>
<circle cx="839.8" cy="456.1" r="1.4" fill="#bb99dc"/>
<circle cx="851.4" cy="358.5" r="2.1" fill="#b5a0e7"/>
<circle cx="829.7" cy="384.3" r="1.8" fill="#b896d2"/>
<circle cx="843.4" cy="363.6" r="1.5" fill="#bb9adf"/>
<circle cx="841.4" cy="407.5" r="1.4" fill="#bb99dd"/>
<circle cx="855.4" cy="430.1" r="2.8" fill="#b2a3ea"/>
<circle cx="840.0" cy="439.7" r="1.8" fill="#bb99dc"/>
<circle cx="854.0" cy="425.7" r="3.0" fill="#b2a2e9"/>
<circle cx="829.9" cy="438.8" r="1.8" fill="#b896d2"/>
<circle cx="851.9" cy="454.1" r="1.7" fill="#b4a0e7"/>
<circle cx="849.9" cy="451.6" r="1.5" fill="#b69fe5"/>
<circle cx="840.8" cy="460.1" r="2.4" fill="#bb99dd"/>
<circle cx="840.8" cy="386.4" r="1.8" fill="#bb99dd"/>
<circle cx="847.5" cy="371.0" r="1.5" fill="#b79de3"/>
<circle cx="831.3" cy="398.0" r="2.3" fill="#b897d3"/>
<circle cx="834.6" cy="359.9" r="2.2" fill="#b997d6"/>
<circle cx="845.6" cy="372.3" r="1.6" fill="#b99ce1"/>
<circle cx="854.9" cy="361.3" r="1.5" fill="#b2a3ea"/>
<circle cx="836.5" cy="437.2" r="1.7" fill="#ba98d9"/>
<circle cx="833.4" cy="412.4" r="2.4" fill="#b997d6"/>
<circle cx="831.7" cy="369.7" r="2.0" fill="#b897d4"/>
<circle cx="839.3" cy="408.2" r="3.2" fill="#6a2cc8"/>
<circle cx="835.8" cy="417.7" r="2.9" fill="#6a2cc8"/>
<circle cx="849.3" cy="372.0" r="3.1" fill="#6a2cc8"/>
<circle cx="829.5" cy="439.0" r="3.0" fill="#6a2cc8"/>
<circle cx="846.0" cy="441.3" r="2.7" fill="#6a2cc8"/>
<circle cx="830.3" cy="398.5" r="4.4" fill="#6a2cc8"/>
<circle cx="837.4" cy="405.3" r="3.3" fill="#6a2cc8"/>
<circle cx="839.4" cy="413.7" r="3.3" fill="#6a2cc8"/>
<circle cx="855.2" cy="461.7" r="2.9" fill="#6a2cc8"/>
<circle cx="854.8" cy="366.1" r="3.0" fill="#6a2cc8"/>
<circle cx="849.9" cy="233.9" r="1.9" fill="#8d6ad7"/>
<circle cx="850.8" cy="317.6" r="1.2" fill="#8c6bd9"/>
<circle cx="848.6" cy="267.5" r="1.3" fill="#8f68d5"/>
<circle cx="831.6" cy="176.7" r="1.4" fill="#915dbc"/>
<circle cx="867.1" cy="210.0" r="1.3" fill="#7083ee"/>
<circle cx="858.2" cy="209.8" r="1.8" fill="#8373e3"/>
<circle cx="844.4" cy="279.5" r="1.3" fill="#9364d0"/>
<circle cx="863.5" cy="243.3" r="1.9" fill="#7b7bea"/>
<circle cx="834.6" cy="169.9" r="1.8" fill="#935ec0"/>
<circle cx="829.6" cy="168.2" r="1.8" fill="#915cb9"/>
<circle cx="863.3" cy="167.6" r="2.4" fill="#7c7aea"/>
<circle cx="857.5" cy="276.2" r="1.7" fill="#8573e3"/>
<circle cx="866.4" cy="181.1" r="1.2" fill="#7381ed"/>
<circle cx="832.9" cy="172.7" r="1.5" fill="#925ebe"/>
<circle cx="864.1" cy="297.0" r="1.2" fill="#797ceb"/>
<circle cx="862.2" cy="182.9" r="1.8" fill="#7e78e9"/>
<circle cx="840.9" cy="160.3" r="1.8" fill="#9661ca"/>
<circle cx="864.5" cy="248.5" r="1.2" fill="#787dec"/>
<circle cx="839.5" cy="339.9" r="1.9" fill="#9560c8"/>
<circle cx="843.0" cy="175.0" r="1.5" fill="#9562ce"/>
<circle cx="854.7" cy="193.2" r="1.2" fill="#886fde"/>
<circle cx="856.1" cy="245.0" r="1.6" fill="#8670e0"/>
<circle cx="834.9" cy="210.9" r="1.5" fill="#935ec1"/>
<circle cx="864.5" cy="265.5" r="1.7" fill="#787dec"/>
<circle cx="859.9" cy="318.8" r="2.0" fill="#8275e6"/>
<circle cx="839.4" cy="227.9" r="1.9" fill="#9560c8"/>
<circle cx="853.9" cy="281.7" r="2.9" fill="#896edd"/>
<circle cx="859.4" cy="223.9" r="1.2" fill="#8375e5"/>
<circle cx="862.3" cy="492.8" r="1.1" fill="#7e78e9"/>
<circle cx="844.3" cy="495.3" r="1.8" fill="#9364d0"/>
<circle cx="845.2" cy="481.1" r="1.8" fill="#9365d1"/>
<circle cx="857.3" cy="484.9" r="2.8" fill="#8572e2"/>
<circle cx="841.0" cy="474.3" r="1.9" fill="#9661cb"/>
<circle cx="864.3" cy="489.3" r="1.2" fill="#797deb"/>
<circle cx="874.3" cy="268.1" r="2.0" fill="#2b6af0"/>
<circle cx="871.2" cy="306.4" r="2.4" fill="#2e64ee"/>
<circle cx="880.5" cy="274.1" r="3.3" fill="#2e74f0"/>
<circle cx="882.4" cy="272.6" r="2.5" fill="#2e77f0"/>
<circle cx="879.8" cy="287.5" r="2.0" fill="#2e73f0"/>
<circle cx="879.5" cy="282.5" r="1.9" fill="#2e72f0"/>
<circle cx="878.3" cy="316.1" r="2.4" fill="#2d70f0"/>
<circle cx="889.5" cy="307.8" r="2.2" fill="#3181f1"/>
<circle cx="892.8" cy="302.8" r="1.8" fill="#3387f1"/>
<circle cx="883.3" cy="305.5" r="1.6" fill="#2e78f0"/>
<circle cx="875.0" cy="303.2" r="2.2" fill="#2c6bf0"/>
<circle cx="871.9" cy="282.0" r="2.1" fill="#2c66ef"/>
<circle cx="871.0" cy="344.8" r="1.5" fill="#2e63ee"/>
<circle cx="870.7" cy="301.3" r="2.0" fill="#3062ed"/>
<circle cx="872.6" cy="321.2" r="1.4" fill="#2b67f0"/>
<circle cx="874.9" cy="294.1" r="1.4" fill="#2c6bf0"/>
<circle cx="871.5" cy="326.4" r="1.7" fill="#2d65ee"/>
<circle cx="885.0" cy="304.6" r="2.3" fill="#2f7af1"/>
<circle cx="875.7" cy="292.4" r="2.4" fill="#2c6cf0"/>
<circle cx="879.3" cy="298.8" r="2.5" fill="#2e72f0"/>
<circle cx="885.4" cy="325.8" r="3.3" fill="#2f7bf1"/>
<circle cx="893.0" cy="290.7" r="2.3" fill="#3387f1"/>
<circle cx="879.3" cy="332.2" r="2.1" fill="#2e72f0"/>
<circle cx="887.4" cy="305.9" r="2.2" fill="#307ef1"/>
<circle cx="889.1" cy="278.6" r="2.8" fill="#3181f1"/>
<circle cx="889.0" cy="326.9" r="3.5" fill="#3181f1"/>
<circle cx="882.3" cy="303.8" r="1.4" fill="#2e77f0"/>
<circle cx="893.8" cy="333.4" r="1.6" fill="#3388f1"/>
<circle cx="885.3" cy="296.4" r="2.1" fill="#2f7bf1"/>
<circle cx="875.5" cy="266.8" r="2.1" fill="#2c6cf0"/>
<circle cx="887.7" cy="305.8" r="1.8" fill="#307ff1"/>
<circle cx="887.5" cy="295.5" r="2.0" fill="#307ef1"/>
<circle cx="880.0" cy="320.2" r="1.4" fill="#2e73f0"/>
<circle cx="890.3" cy="277.6" r="2.1" fill="#3283f1"/>
<circle cx="888.3" cy="274.4" r="1.8" fill="#3180f1"/>
<circle cx="889.3" cy="303.7" r="2.9" fill="#3181f1"/>
<circle cx="889.1" cy="326.6" r="2.0" fill="#3181f1"/>
<circle cx="884.4" cy="322.6" r="2.3" fill="#2f7af1"/>
<circle cx="868.9" cy="335.9" r="2.5" fill="#375ceb"/>
<circle cx="870.1" cy="292.9" r="1.4" fill="#3260ec"/>
<circle cx="870.7" cy="283.4" r="1.3" fill="#3062ed"/>
<circle cx="876.2" cy="323.6" r="1.8" fill="#2c6df0"/>
<circle cx="893.2" cy="336.7" r="2.1" fill="#3388f1"/>
<circle cx="878.9" cy="301.6" r="2.7" fill="#2d71f0"/>
<circle cx="880.2" cy="326.6" r="2.1" fill="#2e73f0"/>
<circle cx="886.2" cy="326.3" r="2.3" fill="#307cf1"/>
<circle cx="889.0" cy="298.9" r="2.1" fill="#3181f1"/>
<circle cx="891.4" cy="322.4" r="1.8" fill="#3285f1"/>
<circle cx="876.9" cy="285.8" r="2.1" fill="#2d6ef0"/>
<circle cx="873.4" cy="308.1" r="2.3" fill="#2b68f0"/>
<circle cx="870.8" cy="313.8" r="1.7" fill="#2f63ed"/>
<circle cx="875.9" cy="266.5" r="1.5" fill="#2c6cf0"/>
<circle cx="871.1" cy="266.5" r="2.0" fill="#2e64ee"/>
<circle cx="890.1" cy="291.8" r="3.6" fill="#3282f1"/>
<circle cx="872.3" cy="266.5" r="1.4" fill="#2b67f0"/>
<circle cx="888.1" cy="303.7" r="2.3" fill="#317ff1"/>
<circle cx="892.3" cy="314.0" r="1.9" fill="#3386f1"/>
<circle cx="879.5" cy="300.8" r="2.3" fill="#2e72f0"/>
<circle cx="876.0" cy="330.5" r="1.4" fill="#2c6df0"/>
<circle cx="874.1" cy="318.5" r="3.0" fill="#2b69f0"/>
<circle cx="887.4" cy="298.2" r="1.7" fill="#307ef1"/>
<circle cx="888.7" cy="290.5" r="2.1" fill="#3180f1"/>
<circle cx="881.9" cy="272.5" r="2.1" fill="#2e76f0"/>
<circle cx="885.0" cy="269.2" r="1.9" fill="#2f7af1"/>
<circle cx="879.9" cy="277.9" r="1.6" fill="#2e73f0"/>
<circle cx="870.2" cy="319.3" r="1.6" fill="#3261ec"/>
<circle cx="870.7" cy="289.9" r="2.4" fill="#3062ed"/>
<circle cx="870.9" cy="293.3" r="3.7" fill="#2f63ed"/>
<circle cx="877.3" cy="282.5" r="2.1" fill="#2d6ff0"/>
<circle cx="870.9" cy="334.1" r="1.7" fill="#2f63ed"/>
<circle cx="880.2" cy="334.9" r="1.4" fill="#2e73f0"/>
<circle cx="875.8" cy="286.9" r="2.3" fill="#2c6cf0"/>
<circle cx="877.4" cy="306.0" r="2.3" fill="#2d6ff0"/>
<circle cx="880.1" cy="317.9" r="2.0" fill="#2e73f0"/>
<circle cx="879.5" cy="276.4" r="1.8" fill="#2e72f0"/>
<circle cx="876.3" cy="294.9" r="2.0" fill="#2c6df0"/>
<circle cx="872.9" cy="301.2" r="3.3" fill="#2b68f0"/>
<circle cx="871.2" cy="325.7" r="3.6" fill="#2e64ee"/>
<circle cx="870.5" cy="315.5" r="1.6" fill="#3162ed"/>
<circle cx="869.3" cy="302.1" r="1.5" fill="#365eec"/>
<circle cx="886.4" cy="306.3" r="2.3" fill="#307df1"/>
<circle cx="884.5" cy="333.0" r="1.5" fill="#2f7af1"/>
<circle cx="876.7" cy="315.4" r="1.4" fill="#2c6ef0"/>
<circle cx="878.0" cy="327.9" r="2.4" fill="#2d70f0"/>
<circle cx="878.5" cy="333.7" r="2.5" fill="#2d71f0"/>
<circle cx="887.9" cy="323.5" r="1.8" fill="#317ff1"/>
<circle cx="872.9" cy="298.5" r="2.4" fill="#2b67f0"/>
<circle cx="875.0" cy="314.9" r="1.8" fill="#2c6bf0"/>
<circle cx="880.2" cy="288.6" r="1.3" fill="#2e73f0"/>
<circle cx="885.5" cy="285.3" r="1.9" fill="#2f7bf1"/>
<circle cx="881.5" cy="337.2" r="2.2" fill="#2e75f0"/>
<circle cx="877.2" cy="314.3" r="1.5" fill="#2d6ef0"/>
<circle cx="869.5" cy="305.5" r="1.6" fill="#345fec"/>
<circle cx="869.5" cy="283.7" r="2.5" fill="#345fec"/>
<circle cx="874.1" cy="302.0" r="1.3" fill="#2b6af0"/>
<circle cx="873.4" cy="343.8" r="1.7" fill="#2b68f0"/>
<circle cx="870.1" cy="274.7" r="2.5" fill="#3260ec"/>
<circle cx="892.4" cy="332.0" r="2.2" fill="#3386f1"/>
<circle cx="872.8" cy="287.3" r="1.4" fill="#2b67f0"/>
<circle cx="887.1" cy="304.8" r="1.3" fill="#307ef1"/>
<circle cx="890.5" cy="333.2" r="2.2" fill="#3283f1"/>
<circle cx="892.1" cy="310.0" r="1.8" fill="#3286f1"/>
<circle cx="875.7" cy="268.9" r="1.6" fill="#2c6cf0"/>
<circle cx="871.5" cy="272.4" r="1.6" fill="#2e65ee"/>
<circle cx="893.3" cy="304.5" r="2.3" fill="#3388f1"/>
<circle cx="883.8" cy="291.5" r="1.8" fill="#2f79f1"/>
<circle cx="884.9" cy="333.5" r="2.2" fill="#2f7af1"/>
<circle cx="872.3" cy="266.7" r="2.0" fill="#2b67ef"/>
<circle cx="868.5" cy="289.9" r="1.6" fill="#395beb"/>
<circle cx="885.7" cy="312.2" r="1.6" fill="#307bf1"/>
<circle cx="888.1" cy="334.2" r="1.3" fill="#478df3"/>
<circle cx="904.4" cy="320.2" r="1.8" fill="#4ba1f3"/>
<circle cx="901.9" cy="317.1" r="1.3" fill="#4a9ef3"/>
<circle cx="896.6" cy="306.3" r="1.3" fill="#4998f3"/>
<circle cx="892.7" cy="301.2" r="1.8" fill="#4993f3"/>
<circle cx="891.2" cy="307.4" r="1.9" fill="#4891f3"/>
<circle cx="891.6" cy="286.7" r="1.8" fill="#4892f3"/>
<circle cx="902.4" cy="275.9" r="1.7" fill="#4a9ff3"/>
<circle cx="887.7" cy="273.6" r="3.5" fill="#468df3"/>
<circle cx="897.7" cy="287.8" r="1.2" fill="#4999f3"/>
<circle cx="886.7" cy="295.6" r="3.4" fill="#468bf3"/>
<circle cx="892.9" cy="317.4" r="2.9" fill="#4993f3"/>
<circle cx="888.9" cy="286.8" r="2.3" fill="#478df3"/>
<circle cx="889.8" cy="301.5" r="1.8" fill="#478ff3"/>
<circle cx="903.1" cy="319.3" r="1.8" fill="#4ba0f3"/>
<circle cx="906.5" cy="336.8" r="2.9" fill="#4ba4f3"/>
<circle cx="897.9" cy="315.0" r="1.6" fill="#4999f3"/>
<circle cx="893.4" cy="311.6" r="1.9" fill="#4994f3"/>
<circle cx="911.6" cy="318.4" r="2.1" fill="#4caaf4"/>
<circle cx="888.9" cy="311.4" r="2.9" fill="#478ef3"/>
<circle cx="906.0" cy="282.8" r="1.8" fill="#4ba3f3"/>
<circle cx="904.9" cy="322.6" r="1.8" fill="#4ba2f3"/>
<circle cx="895.8" cy="307.9" r="2.4" fill="#4997f3"/>
<circle cx="904.7" cy="336.8" r="1.3" fill="#4ba2f3"/>
<circle cx="902.7" cy="305.9" r="2.1" fill="#4a9ff3"/>
<circle cx="886.2" cy="302.0" r="1.9" fill="#468af3"/>
<circle cx="912.6" cy="325.4" r="3.3" fill="#4dabf4"/>
<circle cx="895.3" cy="333.6" r="2.3" fill="#4997f3"/>
<circle cx="892.3" cy="323.0" r="1.8" fill="#4993f3"/>
<circle cx="902.2" cy="330.0" r="2.1" fill="#4a9ef3"/>
<circle cx="897.5" cy="302.5" r="2.0" fill="#4999f3"/>
<circle cx="883.0" cy="337.0" r="1.6" fill="#4486f2"/>
<circle cx="882.8" cy="280.1" r="2.3" fill="#4486f2"/>
<circle cx="891.1" cy="326.1" r="1.5" fill="#4891f3"/>
<circle cx="899.9" cy="332.3" r="1.8" fill="#4a9cf3"/>
<circle cx="889.8" cy="292.9" r="1.8" fill="#478ff3"/>
<circle cx="886.3" cy="289.3" r="2.1" fill="#468af3"/>
<circle cx="892.9" cy="284.5" r="1.6" fill="#4993f3"/>
<circle cx="897.0" cy="274.7" r="1.8" fill="#4999f3"/>
<circle cx="886.1" cy="324.1" r="1.3" fill="#468af3"/>
<circle cx="906.4" cy="306.2" r="2.2" fill="#4ba4f3"/>
<circle cx="912.2" cy="269.2" r="2.3" fill="#4daaf4"/>
<circle cx="881.5" cy="285.2" r="2.4" fill="#4483f2"/>
<circle cx="905.4" cy="326.0" r="1.2" fill="#4ba3f3"/>
<circle cx="896.6" cy="333.3" r="2.3" fill="#4998f3"/>
<circle cx="913.6" cy="307.0" r="2.3" fill="#4dacf4"/>
<circle cx="895.3" cy="304.5" r="1.7" fill="#4997f3"/>
<circle cx="912.3" cy="301.2" r="1.6" fill="#4daaf4"/>
<circle cx="889.4" cy="297.3" r="1.3" fill="#478ef3"/>
<circle cx="913.9" cy="312.0" r="1.8" fill="#4dacf4"/>
<circle cx="903.3" cy="304.6" r="1.6" fill="#4ba0f3"/>
<circle cx="882.4" cy="274.9" r="2.5" fill="#4485f2"/>
<circle cx="903.4" cy="291.0" r="1.5" fill="#4ba0f3"/>
<circle cx="897.5" cy="281.5" r="2.2" fill="#4999f3"/>
<circle cx="883.6" cy="272.3" r="2.3" fill="#4587f3"/>
<circle cx="890.9" cy="318.8" r="1.3" fill="#4891f3"/>
<circle cx="911.9" cy="315.2" r="1.3" fill="#4daaf4"/>
<circle cx="908.7" cy="309.9" r="1.5" fill="#4ca6f4"/>
<circle cx="883.5" cy="304.6" r="1.4" fill="#4587f3"/>
<circle cx="910.6" cy="332.7" r="1.8" fill="#4ca9f4"/>
<circle cx="885.8" cy="336.1" r="2.2" fill="#4689f3"/>
<circle cx="910.3" cy="288.0" r="2.4" fill="#4ca8f4"/>
<circle cx="911.5" cy="327.9" r="2.3" fill="#4caaf4"/>
<circle cx="883.8" cy="286.7" r="2.0" fill="#4587f3"/>
<circle cx="903.6" cy="268.9" r="1.6" fill="#4ba0f3"/>
<circle cx="887.0" cy="282.7" r="1.8" fill="#468bf3"/>
<circle cx="890.1" cy="296.5" r="2.3" fill="#488ff3"/>
<circle cx="905.9" cy="335.0" r="1.2" fill="#4ba3f3"/>
<circle cx="884.5" cy="280.5" r="2.1" fill="#4588f3"/>
<circle cx="901.4" cy="301.2" r="2.1" fill="#4a9ef3"/>
<circle cx="887.7" cy="282.2" r="2.0" fill="#468df3"/>
<circle cx="912.4" cy="336.3" r="1.6" fill="#4daaf4"/>
<circle cx="890.5" cy="323.8" r="1.8" fill="#4890f3"/>
<circle cx="910.2" cy="334.7" r="1.3" fill="#4ca8f4"/>
<circle cx="888.6" cy="313.3" r="1.6" fill="#478df3"/>
<circle cx="891.3" cy="310.9" r="1.8" fill="#4891f3"/>
<circle cx="903.6" cy="301.0" r="2.3" fill="#4ba0f3"/>
<circle cx="907.2" cy="334.9" r="1.9" fill="#4ba4f3"/>
<circle cx="907.1" cy="318.7" r="1.4" fill="#4ba4f3"/>
<circle cx="886.5" cy="267.6" r="2.0" fill="#468bf3"/>
<circle cx="889.7" cy="267.9" r="1.2" fill="#478ff3"/>
<circle cx="893.1" cy="298.3" r="2.0" fill="#4993f3"/>
<circle cx="904.3" cy="282.2" r="2.4" fill="#4ba1f3"/>
<circle cx="900.3" cy="313.7" r="1.5" fill="#4a9df3"/>
<circle cx="901.3" cy="318.5" r="1.4" fill="#4a9ef3"/>
<circle cx="890.8" cy="311.7" r="2.1" fill="#4891f3"/>
<circle cx="890.0" cy="290.4" r="2.4" fill="#488ff3"/>
<circle cx="896.8" cy="307.6" r="2.0" fill="#4999f3"/>
<circle cx="883.9" cy="274.1" r="1.9" fill="#4587f3"/>
<circle cx="913.3" cy="312.0" r="2.2" fill="#4dacf4"/>
<circle cx="887.8" cy="355.2" r="1.8" fill="#3b86f2"/>
<circle cx="898.1" cy="360.7" r="1.3" fill="#3f94f3"/>
<circle cx="889.0" cy="367.0" r="1.9" fill="#3c88f2"/>
<circle cx="890.9" cy="344.1" r="1.4" fill="#3d8af2"/>
<circle cx="882.0" cy="344.6" r="2.2" fill="#397df1"/>
<circle cx="898.2" cy="353.9" r="1.4" fill="#3f94f3"/>
<circle cx="876.8" cy="364.1" r="2.0" fill="#3876f1"/>
<circle cx="868.4" cy="361.3" r="2.1" fill="#4364ec"/>
<circle cx="906.9" cy="348.2" r="2.1" fill="#419ff3"/>
<circle cx="891.1" cy="350.9" r="1.5" fill="#3d8af2"/>
<circle cx="892.1" cy="372.7" r="1.9" fill="#3d8cf2"/>
<circle cx="893.8" cy="362.6" r="1.7" fill="#3e8ef2"/>
<circle cx="895.1" cy="353.9" r="1.2" fill="#3f90f3"/>
<circle cx="882.4" cy="364.7" r="2.0" fill="#397ef1"/>
<circle cx="900.3" cy="351.8" r="1.6" fill="#4097f3"/>
<circle cx="894.9" cy="355.3" r="3.4" fill="#3f90f3"/>
<circle cx="889.3" cy="370.9" r="2.3" fill="#3c88f2"/>
<circle cx="899.9" cy="359.2" r="2.3" fill="#4096f3"/>
<circle cx="894.4" cy="363.1" r="2.4" fill="#3e8ff2"/>
<circle cx="883.6" cy="344.5" r="3.0" fill="#3a80f2"/>
<circle cx="901.6" cy="345.3" r="1.4" fill="#4098f3"/>
<circle cx="887.9" cy="367.2" r="1.6" fill="#3c86f2"/>
<circle cx="882.8" cy="375.4" r="1.4" fill="#397ff1"/>
<circle cx="902.9" cy="364.5" r="1.5" fill="#409af3"/>
<circle cx="903.8" cy="361.3" r="1.5" fill="#419bf3"/>
<circle cx="905.8" cy="361.3" r="1.4" fill="#419df3"/>
<circle cx="893.0" cy="341.7" r="1.2" fill="#3e8df2"/>
<circle cx="878.4" cy="357.8" r="1.3" fill="#3878f1"/>
<circle cx="894.8" cy="351.4" r="1.9" fill="#3f90f3"/>
<circle cx="899.2" cy="360.7" r="2.0" fill="#4095f3"/>
<circle cx="900.6" cy="343.5" r="1.3" fill="#4097f3"/>
<circle cx="901.0" cy="340.3" r="2.3" fill="#4098f3"/>
<circle cx="901.8" cy="365.2" r="2.5" fill="#4099f3"/>
<circle cx="898.3" cy="365.6" r="1.8" fill="#3f94f3"/>
<circle cx="882.6" cy="373.7" r="1.8" fill="#397ef1"/>
<circle cx="906.9" cy="375.2" r="1.4" fill="#419ff3"/>
<circle cx="896.9" cy="353.9" r="1.8" fill="#3f93f3"/>
<circle cx="879.0" cy="361.4" r="1.4" fill="#3979f1"/>
<circle cx="889.7" cy="355.4" r="2.3" fill="#3c89f2"/>
<circle cx="904.2" cy="349.4" r="2.4" fill="#419cf3"/>
<circle cx="860.3" cy="342.9" r="1.8" fill="#5d4edf"/>
<circle cx="870.6" cy="311.5" r="1.5" fill="#3b6aee"/>
<circle cx="857.9" cy="262.5" r="1.7" fill="#614bdb"/>
<circle cx="866.0" cy="292.5" r="1.7" fill="#4c5de8"/>
<circle cx="857.5" cy="247.6" r="2.8" fill="#624bdb"/>
<circle cx="863.5" cy="263.1" r="2.3" fill="#5555e4"/>
<circle cx="868.7" cy="339.0" r="2.5" fill="#4265ec"/>
<circle cx="869.9" cy="286.9" r="2.5" fill="#3e68ed"/>
<circle cx="863.8" cy="263.5" r="2.3" fill="#5456e4"/>
<circle cx="869.1" cy="312.8" r="2.8" fill="#4166ed"/>
<circle cx="859.5" cy="280.9" r="1.8" fill="#5e4dde"/>
<circle cx="855.4" cy="286.4" r="2.5" fill="#6547d6"/>
<circle cx="866.1" cy="310.5" r="2.1" fill="#4b5de8"/>
<circle cx="867.7" cy="285.6" r="1.9" fill="#4662ea"/>
<circle cx="864.0" cy="300.8" r="1.7" fill="#5456e5"/>
<circle cx="863.0" cy="338.8" r="2.6" fill="#5754e4"/>
<circle cx="870.2" cy="239.8" r="1.4" fill="#3d69ed"/>
<circle cx="868.3" cy="296.4" r="2.5" fill="#4463eb"/>
<circle cx="859.2" cy="249.0" r="1.5" fill="#5f4cdd"/>
<circle cx="858.3" cy="253.4" r="2.1" fill="#604bdb"/>
<circle cx="868.4" cy="306.5" r="2.4" fill="#4364ec"/>
<circle cx="866.8" cy="264.4" r="1.8" fill="#4a5fe9"/>
<circle cx="861.5" cy="335.4" r="1.9" fill="#5c50e2"/>
<circle cx="865.2" cy="244.1" r="1.6" fill="#4f5ae7"/>
<circle cx="867.7" cy="260.6" r="1.6" fill="#4662ea"/>
<circle cx="895.8" cy="197.0" r="2.3" fill="#4997f3"/>
<circle cx="887.6" cy="188.5" r="1.8" fill="#468cf3"/>
<circle cx="892.8" cy="157.3" r="2.0" fill="#4993f3"/>
<circle cx="915.9" cy="216.9" r="1.7" fill="#4daff4"/>
<circle cx="900.2" cy="169.8" r="1.8" fill="#4a9cf3"/>
<circle cx="883.9" cy="199.6" r="2.2" fill="#4587f3"/>
<circle cx="889.9" cy="176.7" r="2.0" fill="#478ff3"/>
<circle cx="888.5" cy="202.8" r="1.7" fill="#478df3"/>
<circle cx="915.0" cy="191.8" r="1.8" fill="#4daef4"/>
<circle cx="905.3" cy="177.3" r="1.5" fill="#4ba3f3"/>
<circle cx="881.5" cy="226.3" r="1.5" fill="#4484f2"/>
<circle cx="895.5" cy="176.8" r="1.4" fill="#4997f3"/>
<circle cx="876.6" cy="166.0" r="2.1" fill="#427df2"/>
<circle cx="883.8" cy="236.9" r="2.4" fill="#4587f3"/>
<circle cx="907.1" cy="194.4" r="2.4" fill="#4ba4f3"/>
<circle cx="915.7" cy="224.3" r="1.4" fill="#4daff4"/>
<circle cx="907.1" cy="167.1" r="1.3" fill="#4ba4f3"/>
<circle cx="917.0" cy="222.9" r="1.3" fill="#4eb0f4"/>
<circle cx="900.6" cy="442.2" r="2.2" fill="#4097f3"/>
<circle cx="888.0" cy="454.0" r="2.8" fill="#3c86f2"/>
<circle cx="870.9" cy="456.1" r="2.2" fill="#3a6bee"/>
<circle cx="871.0" cy="386.6" r="2.2" fill="#3a6bee"/>
<circle cx="882.1" cy="397.1" r="2.3" fill="#397df1"/>
<circle cx="891.3" cy="413.2" r="1.9" fill="#3d8af2"/>
<circle cx="882.1" cy="404.7" r="1.9" fill="#397ef1"/>
<circle cx="894.0" cy="389.1" r="2.1" fill="#3e8ff2"/>
<circle cx="877.9" cy="450.9" r="3.8" fill="#3878f1"/>
<circle cx="887.8" cy="409.2" r="1.9" fill="#3b86f2"/>
<circle cx="896.0" cy="429.7" r="2.4" fill="#3f92f3"/>
<circle cx="893.8" cy="410.1" r="1.5" fill="#3e8ef2"/>
<circle cx="886.1" cy="396.5" r="2.5" fill="#3b83f2"/>
<circle cx="889.5" cy="458.8" r="1.7" fill="#3c88f2"/>
<circle cx="885.0" cy="401.4" r="1.9" fill="#3a81f2"/>
<circle cx="890.3" cy="399.8" r="2.2" fill="#3d8af2"/>
<circle cx="878.7" cy="433.0" r="1.7" fill="#3878f1"/>
<circle cx="879.4" cy="445.6" r="1.6" fill="#3979f1"/>
<circle cx="877.3" cy="388.3" r="2.4" fill="#3877f1"/>
<circle cx="880.4" cy="397.7" r="2.4" fill="#397bf1"/>
<circle cx="874.4" cy="403.1" r="1.9" fill="#3672f1"/>
<circle cx="873.2" cy="410.6" r="1.4" fill="#3670f1"/>
<circle cx="887.0" cy="402.7" r="2.5" fill="#3b84f2"/>
<circle cx="889.3" cy="400.5" r="2.3" fill="#3c88f2"/>
<circle cx="896.4" cy="412.7" r="2.2" fill="#3f92f3"/>
<circle cx="890.5" cy="439.7" r="1.7" fill="#3d8af2"/>
<circle cx="878.7" cy="456.6" r="1.3" fill="#3878f1"/>
<circle cx="876.6" cy="414.1" r="2.4" fill="#3776f1"/>
<circle cx="869.4" cy="379.5" r="1.7" fill="#4066ed"/>
<circle cx="881.7" cy="431.0" r="1.9" fill="#397df1"/>
<circle cx="880.1" cy="381.4" r="2.5" fill="#397af1"/>
<circle cx="869.2" cy="394.6" r="2.3" fill="#4166ed"/>
<circle cx="892.1" cy="439.6" r="1.4" fill="#3d8cf2"/>
<circle cx="872.8" cy="389.3" r="2.2" fill="#366ff1"/>
<circle cx="876.4" cy="409.6" r="2.2" fill="#3775f1"/>
<circle cx="881.4" cy="459.4" r="1.4" fill="#397cf1"/>
<circle cx="931.2" cy="182.9" r="1.7" fill="#4fbcf5"/>
<circle cx="911.2" cy="155.6" r="2.7" fill="#4caaf4"/>
<circle cx="929.2" cy="166.2" r="2.0" fill="#4fbbf5"/>
<circle cx="897.4" cy="157.4" r="2.6" fill="#4999f3"/>
<circle cx="926.5" cy="182.8" r="2.5" fill="#4fb9f5"/>
<circle cx="925.1" cy="167.6" r="1.6" fill="#4fb8f5"/>
<circle cx="932.8" cy="167.4" r="1.3" fill="#4fbef5"/>
<circle cx="935.9" cy="170.7" r="2.0" fill="#4fc0f5"/>
<circle cx="919.8" cy="170.3" r="2.0" fill="#4eb3f4"/>
<circle cx="931.1" cy="175.8" r="2.4" fill="#4fbcf5"/>
<circle cx="900.6" cy="166.2" r="1.7" fill="#4a9df3"/>
<circle cx="934.0" cy="157.6" r="2.5" fill="#4fbff5"/>
<circle cx="909.8" cy="150.8" r="1.6" fill="#4ca8f4"/>
<circle cx="923.3" cy="161.7" r="2.2" fill="#4fb6f5"/>
<circle cx="921.0" cy="175.8" r="2.5" fill="#4fb5f5"/>
<circle cx="917.3" cy="150.1" r="1.7" fill="#4eb0f4"/>
<circle cx="895.0" cy="152.4" r="2.7" fill="#4996f3"/>
<circle cx="916.8" cy="172.8" r="2.6" fill="#4eaff4"/>
<circle cx="904.8" cy="218.0" r="2.8" fill="#4ba2f3"/>
<circle cx="889.7" cy="239.7" r="2.3" fill="#478ff3"/>
<circle cx="919.4" cy="212.0" r="2.4" fill="#4eb3f4"/>
<circle cx="913.4" cy="200.9" r="2.7" fill="#4dacf4"/>
<circle cx="923.1" cy="213.0" r="3.6" fill="#4fb6f5"/>
<circle cx="911.3" cy="215.6" r="2.0" fill="#4caaf4"/>
<circle cx="885.3" cy="220.2" r="1.7" fill="#4589f3"/>
<circle cx="899.6" cy="204.4" r="1.3" fill="#4a9cf3"/>
<circle cx="884.4" cy="243.5" r="1.9" fill="#4588f3"/>
<circle cx="904.9" cy="223.9" r="1.4" fill="#4ba2f3"/>
<circle cx="881.8" cy="213.2" r="2.4" fill="#4484f2"/>
<circle cx="891.1" cy="218.7" r="2.7" fill="#4891f3"/>
<circle cx="887.9" cy="210.6" r="2.6" fill="#478df3"/>
<circle cx="917.8" cy="245.8" r="2.2" fill="#4eb1f4"/>
<circle cx="907.7" cy="214.6" r="2.0" fill="#4ca5f4"/>
<circle cx="934.9" cy="233.1" r="2.1" fill="#4fc0f5"/>
<circle cx="909.2" cy="207.9" r="2.3" fill="#4ca7f4"/>
<circle cx="893.0" cy="217.8" r="3.0" fill="#4993f3"/>
<circle cx="901.2" cy="247.0" r="2.1" fill="#4a9ef3"/>
<circle cx="906.4" cy="233.6" r="2.1" fill="#4ba4f3"/>
<circle cx="913.2" cy="212.0" r="2.3" fill="#4dabf4"/>
<circle cx="920.0" cy="215.8" r="2.3" fill="#4eb4f4"/>
<circle cx="858.3" cy="200.3" r="1.2" fill="#8373e3"/>
<circle cx="857.8" cy="207.1" r="1.8" fill="#8473e3"/>
<circle cx="864.6" cy="212.2" r="1.4" fill="#787dec"/>
<circle cx="851.5" cy="207.8" r="1.4" fill="#8b6cd9"/>
<circle cx="851.5" cy="210.7" r="1.4" fill="#8b6cd9"/>
<circle cx="930.9" cy="335.2" r="1.5" fill="#44b8f5"/>
<circle cx="930.0" cy="330.3" r="2.2" fill="#44b7f5"/>
<circle cx="933.9" cy="340.4" r="2.9" fill="#44bbf5"/>
<circle cx="929.3" cy="312.9" r="2.3" fill="#44b7f5"/>
<circle cx="932.9" cy="339.5" r="2.5" fill="#44baf5"/>
<circle cx="927.5" cy="336.0" r="2.3" fill="#44b6f5"/>
<circle cx="934.5" cy="327.6" r="2.2" fill="#44bbf5"/>
<circle cx="934.0" cy="327.6" r="2.5" fill="#44bbf5"/>
<circle cx="929.9" cy="331.3" r="2.1" fill="#44b7f5"/>
<circle cx="933.5" cy="342.4" r="2.3" fill="#44baf5"/>
<circle cx="929.3" cy="314.6" r="2.1" fill="#44b7f5"/>
<circle cx="926.3" cy="337.6" r="2.3" fill="#44b5f5"/>
<circle cx="925.7" cy="324.6" r="2.3" fill="#44b4f5"/>
<circle cx="928.7" cy="318.1" r="2.0" fill="#44b7f5"/>
<circle cx="964.0" cy="405.3" r="2.6" fill="#37cff3"/>
<circle cx="928.9" cy="399.3" r="2.5" fill="#44b7f5"/>
<circle cx="927.0" cy="385.9" r="2.4" fill="#44b5f5"/>
<circle cx="918.2" cy="388.5" r="2.3" fill="#43adf4"/>
<circle cx="962.1" cy="402.8" r="2.0" fill="#39cef3"/>
<circle cx="910.0" cy="402.7" r="2.8" fill="#42a3f4"/>
<circle cx="910.9" cy="382.8" r="1.2" fill="#42a4f4"/>
<circle cx="927.9" cy="412.5" r="3.8" fill="#44b6f5"/>
<circle cx="920.9" cy="389.1" r="2.4" fill="#44b0f5"/>
<circle cx="917.6" cy="392.3" r="1.9" fill="#43acf4"/>
<circle cx="965.2" cy="382.5" r="1.4" fill="#36d0f3"/>
<circle cx="919.7" cy="400.6" r="1.7" fill="#43aef4"/>
<circle cx="961.9" cy="401.9" r="1.4" fill="#39cef3"/>
<circle cx="946.9" cy="401.8" r="1.6" fill="#43c6f4"/>
<circle cx="905.0" cy="394.9" r="2.5" fill="#419cf3"/>
<circle cx="931.4" cy="385.0" r="2.3" fill="#44b8f5"/>
<circle cx="926.1" cy="410.5" r="2.5" fill="#44b5f5"/>
<circle cx="942.8" cy="409.0" r="1.3" fill="#44c2f5"/>
<circle cx="958.7" cy="399.4" r="1.9" fill="#3bccf3"/>
<circle cx="919.8" cy="402.7" r="2.7" fill="#43aef4"/>
<circle cx="964.1" cy="395.1" r="1.3" fill="#37cff3"/>
<circle cx="924.8" cy="380.4" r="1.3" fill="#44b3f5"/>
<circle cx="959.3" cy="383.6" r="1.3" fill="#3accf3"/>
<circle cx="911.8" cy="390.7" r="1.6" fill="#42a5f4"/>
<circle cx="903.0" cy="397.4" r="3.7" fill="#409af3"/>
<circle cx="933.0" cy="383.6" r="2.5" fill="#44baf5"/>
<circle cx="958.0" cy="400.4" r="1.4" fill="#3bcbf3"/>
<circle cx="905.5" cy="410.6" r="1.7" fill="#419df3"/>
<circle cx="919.5" cy="409.1" r="2.0" fill="#43aef4"/>
<circle cx="933.0" cy="396.1" r="1.4" fill="#44baf5"/>
<circle cx="935.7" cy="407.4" r="1.7" fill="#44bcf5"/>
<circle cx="913.9" cy="399.9" r="1.6" fill="#42a7f4"/>
<circle cx="913.4" cy="390.2" r="1.3" fill="#42a7f4"/>
<circle cx="936.2" cy="387.6" r="1.4" fill="#44bdf5"/>
<circle cx="921.2" cy="387.1" r="1.8" fill="#44b0f5"/>
<circle cx="941.3" cy="471.0" r="2.1" fill="#44c1f5"/>
<circle cx="938.8" cy="462.6" r="2.3" fill="#44bff5"/>
<circle cx="943.1" cy="470.3" r="2.2" fill="#44c2f5"/>
<circle cx="936.6" cy="467.6" r="1.7" fill="#44bdf5"/>
<circle cx="938.9" cy="463.8" r="2.6" fill="#44bff5"/>
<circle cx="935.8" cy="470.5" r="2.2" fill="#44bdf5"/>
<circle cx="940.2" cy="435.8" r="1.4" fill="#44c0f5"/>
<circle cx="905.0" cy="454.9" r="1.6" fill="#419cf3"/>
<circle cx="900.9" cy="428.1" r="1.7" fill="#4097f3"/>
<circle cx="936.0" cy="462.4" r="1.7" fill="#44bdf5"/>
<circle cx="911.7" cy="438.4" r="2.1" fill="#42a5f4"/>
<circle cx="927.0" cy="448.4" r="1.2" fill="#44b5f5"/>
<circle cx="936.0" cy="464.4" r="1.6" fill="#44bdf5"/>
<circle cx="896.4" cy="465.3" r="1.8" fill="#3f92f3"/>
<circle cx="917.8" cy="449.4" r="2.0" fill="#43adf4"/>
<circle cx="904.0" cy="457.7" r="2.1" fill="#419cf3"/>
<circle cx="1017.9" cy="297.7" r="1.1" fill="#4df1ef"/>
<circle cx="983.5" cy="395.6" r="1.2" fill="#58e2f4"/>
<circle cx="1072.0" cy="168.1" r="1.5" fill="#63eea3"/>
<circle cx="992.3" cy="124.6" r="1.0" fill="#55e6f3"/>
<circle cx="979.8" cy="372.5" r="1.6" fill="#5ae0f4"/>
<circle cx="947.5" cy="158.9" r="1.7" fill="#6dd2f6"/>
<circle cx="979.2" cy="131.9" r="1.4" fill="#5be0f4"/>
<circle cx="970.1" cy="272.3" r="1.5" fill="#60dcf5"/>
<circle cx="1019.8" cy="182.8" r="2.0" fill="#4df1ef"/>
<circle cx="1066.9" cy="449.2" r="1.4" fill="#5ff0ab"/>
<circle cx="998.4" cy="384.6" r="1.4" fill="#53e8f2"/>
<circle cx="1004.4" cy="259.0" r="1.5" fill="#52ebf1"/>
<circle cx="991.2" cy="201.5" r="1.1" fill="#55e5f3"/>
<circle cx="987.3" cy="380.2" r="0.9" fill="#57e3f3"/>
<circle cx="1007.7" cy="382.9" r="1.0" fill="#51ecf1"/>
<circle cx="1052.5" cy="219.1" r="1.0" fill="#55f4c3"/>
<circle cx="1046.9" cy="389.3" r="1.0" fill="#53f4cc"/>
<circle cx="1066.0" cy="218.9" r="1.0" fill="#5ef0ad"/>
<circle cx="1053.5" cy="275.4" r="1.5" fill="#56f4c2"/>
<circle cx="1055.7" cy="183.1" r="1.5" fill="#57f4be"/>
<circle cx="1049.5" cy="302.9" r="1.2" fill="#54f4c8"/>
<circle cx="1076.1" cy="404.7" r="1.3" fill="#67ec9c"/>
<circle cx="1060.6" cy="296.6" r="1.0" fill="#59f3b6"/>
<circle cx="964.2" cy="235.5" r="1.4" fill="#63d9f5"/>
<circle cx="1030.6" cy="410.4" r="1.7" fill="#4df4e5"/>
<circle cx="1071.0" cy="231.1" r="1.2" fill="#62eea4"/>
<circle cx="1073.8" cy="297.6" r="1.5" fill="#65ec9f"/>
<circle cx="987.7" cy="337.2" r="2.5" fill="#57e4f3"/>
<circle cx="962.8" cy="429.1" r="1.4" fill="#64d9f5"/>
<circle cx="1050.0" cy="274.8" r="1.0" fill="#54f4c7"/>
<circle cx="1045.8" cy="346.0" r="1.9" fill="#53f4ce"/>
<circle cx="1076.5" cy="143.4" r="1.1" fill="#67ec9b"/>
<circle cx="1068.9" cy="362.7" r="1.2" fill="#61eea8"/>
<circle cx="1033.7" cy="323.2" r="1.5" fill="#4ff4e0"/>
<circle cx="1016.8" cy="208.0" r="2.3" fill="#4ef1ef"/>
<circle cx="959.0" cy="341.6" r="0.9" fill="#66d7f5"/>
<circle cx="971.7" cy="283.1" r="1.1" fill="#5fddf5"/>
<circle cx="1027.0" cy="185.8" r="1.3" fill="#4df4eb"/>
<circle cx="966.1" cy="193.7" r="1.6" fill="#62daf5"/>
<circle cx="948.2" cy="460.1" r="2.5" fill="#6cd2f6"/>
<circle cx="1055.3" cy="323.4" r="1.1" fill="#56f4bf"/>
<circle cx="961.7" cy="345.5" r="1.4" fill="#65d9f5"/>
<circle cx="987.4" cy="401.7" r="1.8" fill="#57e4f3"/>
<circle cx="1030.7" cy="428.3" r="1.0" fill="#4df4e5"/>
<circle cx="1074.5" cy="413.1" r="1.7" fill="#65ec9f"/>
<circle cx="1062.9" cy="405.0" r="1.1" fill="#5bf1b2"/>
<circle cx="1011.8" cy="420.7" r="1.2" fill="#50eef0"/>
<circle cx="1022.4" cy="412.5" r="2.8" fill="#4df3ee"/>
<circle cx="1067.7" cy="432.5" r="1.3" fill="#60efaa"/>
<circle cx="964.2" cy="430.7" r="2.2" fill="#63d9f5"/>
<circle cx="1074.5" cy="416.3" r="2.0" fill="#65ec9f"/>
<circle cx="1068.3" cy="415.7" r="2.4" fill="#60efa9"/>
<circle cx="1071.3" cy="399.0" r="1.7" fill="#62eea4"/>
<circle cx="980.1" cy="410.8" r="2.0" fill="#5ae0f4"/>
<circle cx="1006.6" cy="412.2" r="1.9" fill="#51ecf1"/>
<circle cx="1070.9" cy="434.2" r="1.3" fill="#62eea4"/>
<circle cx="1040.9" cy="430.5" r="1.2" fill="#51f4d5"/>
<circle cx="1031.7" cy="409.2" r="2.1" fill="#4ef4e3"/>
<circle cx="1042.7" cy="398.1" r="2.1" fill="#52f4d2"/>
<circle cx="1072.9" cy="410.4" r="2.0" fill="#64eda1"/>
<circle cx="972.2" cy="398.3" r="1.8" fill="#5fddf5"/>
<circle cx="963.2" cy="432.7" r="1.8" fill="#64d9f5"/>
<circle cx="976.4" cy="417.8" r="1.6" fill="#5cdff4"/>
<circle cx="1065.3" cy="428.3" r="1.2" fill="#5ef1ae"/>
<circle cx="1029.8" cy="437.2" r="2.2" fill="#4df4e6"/>
<circle cx="966.0" cy="414.0" r="1.2" fill="#62daf5"/>
<circle cx="969.3" cy="432.3" r="1.7" fill="#60dcf5"/>
<circle cx="1070.5" cy="434.1" r="1.9" fill="#62eea5"/>
<circle cx="1023.8" cy="418.3" r="1.0" fill="#4cf3ee"/>
<circle cx="1040.5" cy="413.7" r="1.5" fill="#51f4d6"/>
<circle cx="1005.0" cy="427.8" r="2.0" fill="#52ebf1"/>
<circle cx="987.2" cy="422.3" r="1.6" fill="#57e3f3"/>
<circle cx="1086.9" cy="178.5" r="1.3" fill="#73e98c"/>
<circle cx="1114.2" cy="187.2" r="1.7" fill="#abeb79"/>
<circle cx="1104.5" cy="182.0" r="1.4" fill="#91e97d"/>
<circle cx="1118.1" cy="175.5" r="1.2" fill="#baed79"/>
<circle cx="1100.9" cy="198.8" r="1.7" fill="#8be980"/>
<circle cx="1119.0" cy="176.9" r="2.0" fill="#bdee79"/>
<circle cx="1086.5" cy="183.4" r="1.6" fill="#73e98c"/>
<circle cx="1106.2" cy="213.7" r="1.3" fill="#94e97c"/>
<circle cx="1106.0" cy="196.6" r="1.8" fill="#94e97c"/>
<circle cx="1087.5" cy="205.2" r="2.8" fill="#74e98c"/>
<circle cx="1115.3" cy="170.3" r="1.8" fill="#afec79"/>
<circle cx="1095.1" cy="174.0" r="1.4" fill="#81e985"/>
<circle cx="1104.4" cy="206.6" r="1.3" fill="#91e97d"/>
<circle cx="1095.4" cy="171.9" r="1.9" fill="#82e985"/>
<circle cx="1089.8" cy="171.7" r="2.1" fill="#78e98a"/>
<circle cx="1113.2" cy="189.0" r="1.6" fill="#a7ea79"/>
<circle cx="1120.5" cy="179.5" r="2.1" fill="#c2ee79"/>
<circle cx="1117.3" cy="174.4" r="2.1" fill="#b7ed79"/>
<circle cx="1106.2" cy="195.5" r="1.5" fill="#94e97c"/>
<circle cx="1121.9" cy="212.9" r="1.2" fill="#c8f079"/>
<circle cx="1122.7" cy="411.0" r="1.9" fill="#cef182"/>
<circle cx="1084.9" cy="417.8" r="1.7" fill="#7aea96"/>
<circle cx="1142.1" cy="416.6" r="1.8" fill="#eff582"/>
<circle cx="1100.6" cy="414.4" r="1.7" fill="#93ea8a"/>
<circle cx="1105.1" cy="407.3" r="1.2" fill="#9aea86"/>
<circle cx="1085.9" cy="412.1" r="1.3" fill="#7bea95"/>
<circle cx="1104.6" cy="437.0" r="1.5" fill="#99ea86"/>
<circle cx="1130.9" cy="455.6" r="1.9" fill="#e6f582"/>
<circle cx="1134.1" cy="419.9" r="1.6" fill="#e9f582"/>
<circle cx="1137.3" cy="416.1" r="2.0" fill="#ecf582"/>
<circle cx="1099.2" cy="444.6" r="1.6" fill="#91ea8a"/>
<circle cx="1085.3" cy="452.6" r="1.2" fill="#7bea95"/>
<circle cx="1131.6" cy="429.1" r="1.5" fill="#e6f582"/>
<circle cx="1138.0" cy="436.1" r="1.7" fill="#ecf582"/>
<circle cx="1123.4" cy="422.7" r="1.2" fill="#d1f282"/>
<circle cx="1126.7" cy="451.8" r="1.5" fill="#dcf382"/>
<circle cx="1137.9" cy="439.0" r="2.0" fill="#ecf582"/>
<circle cx="1133.9" cy="445.1" r="1.6" fill="#e8f582"/>
<circle cx="1087.9" cy="401.0" r="1.0" fill="#7eea93"/>
<circle cx="1103.0" cy="436.1" r="1.4" fill="#97ea88"/>
<circle cx="1125.1" cy="422.4" r="1.6" fill="#d7f282"/>
<circle cx="1138.5" cy="409.6" r="1.9" fill="#ecf582"/>
<circle cx="1086.6" cy="459.0" r="1.2" fill="#7dea95"/>
<circle cx="1093.9" cy="408.0" r="1.8" fill="#88ea8f"/>
<circle cx="1135.2" cy="440.4" r="1.6" fill="#eaf582"/>
<circle cx="1142.1" cy="419.7" r="2.5" fill="#eff582"/>
<circle cx="1150.2" cy="182.8" r="1.5" fill="#f3f366"/>
<circle cx="1151.1" cy="175.3" r="1.7" fill="#f4f366"/>
<circle cx="1147.6" cy="180.5" r="1.7" fill="#f1f366"/>
<circle cx="1151.5" cy="176.7" r="1.7" fill="#f5f366"/>
<circle cx="1152.4" cy="189.5" r="1.4" fill="#f6f366"/>
<circle cx="1146.5" cy="177.0" r="1.3" fill="#f0f366"/>
<circle cx="1148.4" cy="176.6" r="1.9" fill="#f2f366"/>
<circle cx="1152.5" cy="183.4" r="1.4" fill="#f6f366"/>
<circle cx="1155.7" cy="181.4" r="1.7" fill="#f9f266"/>
<circle cx="1146.6" cy="185.9" r="1.1" fill="#f0f366"/>
<circle cx="1152.9" cy="180.6" r="1.4" fill="#f7f366"/>
<circle cx="1158.6" cy="186.3" r="1.6" fill="#f9ed67"/>
<circle cx="1155.3" cy="178.5" r="1.2" fill="#f9f266"/>
<circle cx="1147.5" cy="180.8" r="1.6" fill="#f1f366"/>
<circle cx="1119.3" cy="423.4" r="1.5" fill="#baed6f"/>
<circle cx="1151.0" cy="435.5" r="1.3" fill="#f5f36f"/>
<circle cx="1127.1" cy="429.6" r="1.5" fill="#d9f26f"/>
<circle cx="1137.3" cy="421.6" r="1.8" fill="#e8f36f"/>
<circle cx="1146.7" cy="419.7" r="1.0" fill="#f1f36f"/>
<circle cx="1150.6" cy="430.9" r="1.3" fill="#f5f36f"/>
<circle cx="1129.1" cy="431.6" r="1.3" fill="#e1f36f"/>
<circle cx="1155.2" cy="416.0" r="1.1" fill="#f9f36f"/>
<circle cx="1129.1" cy="428.8" r="1.5" fill="#e1f36f"/>
<circle cx="1148.6" cy="432.7" r="1.2" fill="#f3f36f"/>
<circle cx="1120.5" cy="427.8" r="1.6" fill="#beed6f"/>
<circle cx="1125.4" cy="436.6" r="1.9" fill="#d2f06f"/>
<circle cx="1120.8" cy="419.3" r="2.6" fill="#c0ee6f"/>
<circle cx="1140.5" cy="432.9" r="1.0" fill="#ebf36f"/>
<circle cx="1154.8" cy="419.4" r="1.5" fill="#f9f479"/>
<circle cx="1162.5" cy="381.1" r="1.3" fill="#faea7a"/>
<circle cx="1157.3" cy="463.9" r="1.1" fill="#faf179"/>
<circle cx="1177.3" cy="463.9" r="0.9" fill="#fad77d"/>
<circle cx="1176.7" cy="391.4" r="1.0" fill="#fad87d"/>
<circle cx="1159.9" cy="442.9" r="1.6" fill="#faee7a"/>
<circle cx="1164.6" cy="469.7" r="1.6" fill="#fae77a"/>
<circle cx="1166.7" cy="426.6" r="1.0" fill="#fae57b"/>
<circle cx="1179.4" cy="422.8" r="1.3" fill="#fad57e"/>
<circle cx="1174.6" cy="442.0" r="1.5" fill="#fadb7c"/>
<circle cx="1166.1" cy="466.1" r="2.3" fill="#fae67b"/>
<circle cx="1178.8" cy="244.7" r="1.1" fill="#fad57e"/>
<circle cx="1092.8" cy="161.0" r="1.0" fill="#7de987"/>
<circle cx="1147.1" cy="429.1" r="1.6" fill="#f3f479"/>
<circle cx="1100.0" cy="442.7" r="1.0" fill="#8ae981"/>
<circle cx="1187.2" cy="164.9" r="1.1" fill="#facb7d"/>
<circle cx="1089.7" cy="431.5" r="1.4" fill="#78e98a"/>
<circle cx="1178.4" cy="170.2" r="1.5" fill="#fad67e"/>
<circle cx="1127.0" cy="413.1" r="1.8" fill="#dbf379"/>
<circle cx="1168.1" cy="133.1" r="1.3" fill="#fae37b"/>
<circle cx="1130.6" cy="271.0" r="1.4" fill="#e4f479"/>
<circle cx="1122.9" cy="202.5" r="2.2" fill="#cbf079"/>
<circle cx="1153.1" cy="381.8" r="2.0" fill="#f8f479"/>
<circle cx="1087.8" cy="351.3" r="1.5" fill="#75e98b"/>
<circle cx="1108.0" cy="160.0" r="1.8" fill="#98e97a"/>
<circle cx="1151.0" cy="312.2" r="1.0" fill="#f5f479"/>
<circle cx="1138.2" cy="371.7" r="1.5" fill="#ebf479"/>
<circle cx="1166.1" cy="155.8" r="1.3" fill="#fae57b"/>
<circle cx="1102.5" cy="253.8" r="1.3" fill="#8ee97e"/>
<circle cx="1087.7" cy="222.9" r="1.2" fill="#75e98b"/>
<circle cx="1143.8" cy="342.8" r="0.9" fill="#eff479"/>
<circle cx="1186.0" cy="244.4" r="2.0" fill="#facc7d"/>
<circle cx="1114.4" cy="373.0" r="1.3" fill="#aceb79"/>
<circle cx="1079.3" cy="301.4" r="2.4" fill="#69ea96"/>
<circle cx="1158.5" cy="255.4" r="1.0" fill="#faef7a"/>
<circle cx="1091.3" cy="128.0" r="1.3" fill="#7be988"/>
<circle cx="1081.9" cy="421.7" r="1.4" fill="#6ce991"/>
<circle cx="1108.7" cy="452.4" r="1.1" fill="#98e97a"/>
<circle cx="1148.9" cy="447.2" r="1.3" fill="#f4f479"/>
<circle cx="1104.4" cy="204.1" r="0.9" fill="#91e97d"/>
<circle cx="1271.2" cy="378.1" r="2.0" fill="#f5acd7"/>
<circle cx="1262.8" cy="399.0" r="1.0" fill="#f49ac7"/>
<circle cx="1264.6" cy="396.0" r="1.1" fill="#f4a1cd"/>
<circle cx="1266.5" cy="199.5" r="1.3" fill="#f4a6d2"/>
<circle cx="1181.4" cy="378.7" r="1.2" fill="#fad27e"/>
<circle cx="1271.5" cy="300.2" r="1.7" fill="#f5acd8"/>
<circle cx="1266.9" cy="281.7" r="1.4" fill="#f4a6d3"/>
<circle cx="1265.0" cy="182.7" r="1.6" fill="#f4a1ce"/>
<circle cx="1264.2" cy="234.7" r="1.7" fill="#f49fcb"/>
<circle cx="1262.7" cy="159.7" r="1.3" fill="#f49ac6"/>
<circle cx="1263.9" cy="420.0" r="1.8" fill="#f397c6"/>
<circle cx="1265.8" cy="418.5" r="2.1" fill="#f39ece"/>
<circle cx="1262.6" cy="403.6" r="2.1" fill="#f393c2"/>
<circle cx="1260.2" cy="423.8" r="1.8" fill="#f38ab9"/>
<circle cx="1259.7" cy="421.3" r="1.9" fill="#f389b7"/>
<circle cx="1288.8" cy="163.0" r="3.0" fill="#f9c7ec"/>
<circle cx="1292.6" cy="190.4" r="2.8" fill="#facbf0"/>
<circle cx="1268.5" cy="184.9" r="3.0" fill="#f5afd8"/>
<circle cx="1277.5" cy="169.3" r="2.3" fill="#f7b9e1"/>
<circle cx="1284.6" cy="183.0" r="2.8" fill="#f8c2e8"/>
<circle cx="1271.9" cy="180.8" r="3.2" fill="#f5b2db"/>
<circle cx="1268.1" cy="170.9" r="2.2" fill="#f5aed8"/>
<circle cx="1285.4" cy="173.7" r="1.9" fill="#f8c3e8"/>
<circle cx="1281.8" cy="190.2" r="3.6" fill="#f7bfe5"/>
<circle cx="1264.6" cy="190.3" r="2.3" fill="#f5a7d0"/>
<circle cx="1282.4" cy="174.7" r="1.6" fill="#f8bfe6"/>
<circle cx="1282.1" cy="167.1" r="2.3" fill="#f7bfe5"/>
<circle cx="1279.3" cy="189.5" r="2.7" fill="#f7bce3"/>
<circle cx="1289.9" cy="162.4" r="1.7" fill="#f9c8ed"/>
<circle cx="1278.8" cy="174.9" r="3.3" fill="#f7bbe2"/>
<circle cx="1278.4" cy="186.8" r="4.5" fill="#f7bae1"/>
<circle cx="1271.0" cy="188.7" r="2.8" fill="#f5b2da"/>
<circle cx="1292.6" cy="178.4" r="3.3" fill="#facbf0"/>
<circle cx="1283.0" cy="173.7" r="1.5" fill="#f8c0e6"/>
<circle cx="1279.6" cy="172.1" r="2.2" fill="#f7bce3"/>
<circle cx="1283.6" cy="192.0" r="3.0" fill="#f8c1e6"/>
<circle cx="1272.5" cy="162.8" r="1.8" fill="#f5b3db"/>
<circle cx="1265.6" cy="185.5" r="3.6" fill="#f5aad4"/>
<circle cx="1278.8" cy="168.3" r="3.3" fill="#f7bbe2"/>
<circle cx="1262.4" cy="176.8" r="3.4" fill="#f5a0c9"/>
<circle cx="1279.6" cy="163.3" r="2.5" fill="#f7bce3"/>
<circle cx="1284.4" cy="173.7" r="2.4" fill="#f8c1e8"/>
<circle cx="1289.2" cy="169.8" r="4.0" fill="#f9c7ec"/>
<circle cx="1279.2" cy="162.4" r="2.8" fill="#f7bce3"/>
<circle cx="1293.8" cy="177.7" r="1.8" fill="#faccf0"/>
<circle cx="1286.8" cy="233.9" r="2.4" fill="#f9c9eb"/>
<circle cx="1289.5" cy="198.5" r="2.6" fill="#faccee"/>
<circle cx="1288.8" cy="228.8" r="1.6" fill="#f9cbed"/>
<circle cx="1279.3" cy="261.4" r="2.6" fill="#f8c1e5"/>
<circle cx="1298.5" cy="246.1" r="2.1" fill="#fbd3f3"/>
<circle cx="1292.8" cy="253.0" r="2.5" fill="#facff1"/>
<circle cx="1296.2" cy="210.2" r="2.5" fill="#fad1f1"/>
<circle cx="1279.9" cy="206.6" r="2.3" fill="#f8c1e5"/>
<circle cx="1281.9" cy="196.5" r="2.7" fill="#f8c4e7"/>
<circle cx="1297.0" cy="199.4" r="2.4" fill="#fbd2f2"/>
<circle cx="1286.3" cy="216.1" r="2.4" fill="#f9c9eb"/>
<circle cx="1282.4" cy="197.2" r="1.4" fill="#f8c4e7"/>
<circle cx="1314.9" cy="331.2" r="2.0" fill="#fde2f9"/>
<circle cx="1320.1" cy="318.7" r="1.5" fill="#fee5fa"/>
<circle cx="1312.0" cy="191.0" r="1.5" fill="#fde1f8"/>
<circle cx="1307.6" cy="301.0" r="1.5" fill="#fddff7"/>
<circle cx="1301.9" cy="183.7" r="2.0" fill="#fcdcf5"/>
<circle cx="1300.9" cy="419.8" r="1.8" fill="#fcdbf5"/>
<circle cx="1301.1" cy="198.5" r="1.0" fill="#fcdbf5"/>
<circle cx="1320.7" cy="469.8" r="1.6" fill="#fee5fa"/>
<circle cx="1293.8" cy="321.5" r="2.0" fill="#fbd8f3"/>
<circle cx="1292.9" cy="456.2" r="1.6" fill="#fbd7f3"/>
<circle cx="1294.8" cy="421.1" r="1.6" fill="#fbd8f4"/>
<circle cx="1302.0" cy="139.9" r="1.6" fill="#fcdcf5"/>
<circle cx="1297.1" cy="184.2" r="1.1" fill="#fcd9f4"/>
<circle cx="1316.5" cy="162.2" r="1.2" fill="#fee3f9"/>
<circle cx="1316.8" cy="384.8" r="1.8" fill="#f8d8f0"/>
<circle cx="1309.2" cy="383.4" r="1.6" fill="#f4c8e8"/>
<circle cx="1316.6" cy="372.9" r="2.9" fill="#fbe4f4"/>
<circle cx="1312.0" cy="373.2" r="2.7" fill="#fbe4f4"/>
<circle cx="1318.5" cy="398.2" r="2.7" fill="#f4c8e8"/>
<circle cx="1312.5" cy="410.8" r="2.7" fill="#f8d8f0"/>
<circle cx="1312.5" cy="451.4" r="2.9" fill="#ffffff"/>
<circle cx="1308.8" cy="366.7" r="1.5" fill="#f8d8f0"/>
<circle cx="1299.9" cy="416.2" r="2.8" fill="#ffffff"/>
<circle cx="1325.3" cy="444.9" r="2.0" fill="#f4c8e8"/>
<circle cx="1314.1" cy="435.0" r="2.3" fill="#f8d8f0"/>
<circle cx="1306.9" cy="384.0" r="2.5" fill="#fbe4f4"/>
<circle cx="1301.5" cy="401.1" r="1.5" fill="#ffffff"/>
<circle cx="1298.8" cy="416.6" r="2.5" fill="#fbe4f4"/>
<circle cx="1324.8" cy="381.1" r="1.8" fill="#ffffff"/>
<circle cx="1300.7" cy="399.1" r="2.4" fill="#f4c8e8"/>
<circle cx="1319.2" cy="428.7" r="1.9" fill="#ffffff"/>
<circle cx="1320.6" cy="431.9" r="3.0" fill="#f4c8e8"/>
<circle cx="1324.1" cy="427.2" r="2.9" fill="#ffffff"/>
<circle cx="1315.8" cy="451.4" r="2.6" fill="#ffffff"/>
<circle cx="1307.1" cy="439.3" r="2.9" fill="#fbe4f4"/>
<circle cx="1304.4" cy="409.3" r="2.9" fill="#fbe4f4"/>
<circle cx="1316.9" cy="375.5" r="1.8" fill="#ffffff"/>
<circle cx="1323.1" cy="382.2" r="2.6" fill="#f4c8e8"/>
<circle cx="1307.4" cy="429.2" r="3.0" fill="#f4c8e8"/>
<circle cx="1310.0" cy="388.3" r="2.8" fill="#fbe4f4"/>
<circle cx="1311.3" cy="376.2" r="2.3" fill="#f8d8f0"/>
<circle cx="1310.1" cy="373.8" r="1.9" fill="#fbe4f4"/>
<circle cx="1323.2" cy="424.4" r="1.8" fill="#f4c8e8"/>
<circle cx="1321.2" cy="396.8" r="2.1" fill="#ffffff"/>
<circle cx="1320.6" cy="364.1" r="1.6" fill="#f8d8f0"/>
<circle cx="1316.4" cy="402.2" r="2.3" fill="#ffffff"/>
<circle cx="1323.7" cy="381.2" r="2.9" fill="#ffffff"/>
<circle cx="1311.5" cy="375.2" r="2.4" fill="#ffffff"/>
<circle cx="1317.1" cy="383.0" r="2.7" fill="#f4c8e8"/>
<circle cx="1315.4" cy="409.3" r="2.3" fill="#fbe4f4"/>
<circle cx="1313.0" cy="386.8" r="2.5" fill="#f8d8f0"/>
<circle cx="1325.2" cy="415.4" r="2.1" fill="#f8d8f0"/>
<circle cx="1308.9" cy="380.8" r="2.0" fill="#fbe4f4"/>
<circle cx="1307.2" cy="403.7" r="2.0" fill="#f8d8f0"/>
<circle cx="1325.8" cy="403.9" r="2.5" fill="#fbe4f4"/>
<circle cx="1315.3" cy="401.5" r="1.9" fill="#f4c8e8"/>
<circle cx="1319.7" cy="421.1" r="1.8" fill="#f8d8f0"/>
<circle cx="1312.0" cy="366.6" r="2.0" fill="#fbe4f4"/>
<circle cx="1300.2" cy="417.8" r="2.2" fill="#ffffff"/>
<circle cx="1314.0" cy="410.4" r="1.8" fill="#fbe4f4"/>
<circle cx="1311.3" cy="401.7" r="2.9" fill="#f8d8f0"/>
<circle cx="1304.8" cy="419.6" r="2.1" fill="#ffffff"/>
<circle cx="1319.3" cy="448.7" r="2.9" fill="#f8d8f0"/>
<circle cx="1307.5" cy="367.9" r="2.9" fill="#ffffff"/>
<circle cx="1321.5" cy="372.6" r="1.5" fill="#f4c8e8"/>
<circle cx="1309.7" cy="375.1" r="2.6" fill="#f4c8e8"/>
<circle cx="1304.5" cy="416.0" r="2.0" fill="#fbe4f4"/>
<circle cx="1321.3" cy="383.8" r="2.9" fill="#f4c8e8"/>
<circle cx="1318.6" cy="446.5" r="1.9" fill="#ffffff"/>
<circle cx="1313.9" cy="368.0" r="2.1" fill="#f8d8f0"/>
<circle cx="1324.4" cy="450.3" r="3.0" fill="#f4c8e8"/>
<circle cx="1311.0" cy="431.1" r="2.4" fill="#f8d8f0"/>
<circle cx="1315.8" cy="427.3" r="2.3" fill="#fbe4f4"/>
<circle cx="1301.1" cy="423.1" r="1.8" fill="#ffffff"/>
<circle cx="1321.4" cy="386.0" r="2.4" fill="#ffffff"/>
<circle cx="1322.7" cy="394.8" r="2.8" fill="#f4c8e8"/>
<circle cx="1319.9" cy="378.1" r="1.8" fill="#f4c8e8"/>
<circle cx="1322.5" cy="425.3" r="2.4" fill="#ffffff"/>
<circle cx="1315.6" cy="409.9" r="2.6" fill="#f8d8f0"/>
<circle cx="1309.0" cy="370.7" r="2.6" fill="#ffffff"/>
<circle cx="1308.3" cy="367.4" r="1.7" fill="#ffffff"/>
<circle cx="1311.4" cy="426.4" r="2.9" fill="#fbe4f4"/>
<circle cx="1320.9" cy="405.9" r="2.0" fill="#fbe4f4"/>
<circle cx="1323.2" cy="415.2" r="2.6" fill="#fbe4f4"/>
<circle cx="1307.8" cy="425.6" r="1.6" fill="#f4c8e8"/>
<circle cx="1307.4" cy="405.5" r="2.1" fill="#ffffff"/>
<circle cx="1315.2" cy="377.1" r="1.7" fill="#fbe4f4"/>
<circle cx="1308.9" cy="407.2" r="2.0" fill="#ffffff"/>
<circle cx="1315.5" cy="383.9" r="2.9" fill="#fbe4f4"/>
<circle cx="1321.4" cy="407.9" r="2.0" fill="#f8d8f0"/>
<circle cx="1311.3" cy="442.0" r="2.3" fill="#ffffff"/>
<circle cx="1314.1" cy="382.9" r="2.4" fill="#f8d8f0"/>
<circle cx="1308.7" cy="387.9" r="2.2" fill="#fbe4f4"/>
<circle cx="1298.4" cy="398.6" r="2.2" fill="#fbe4f4"/>
<circle cx="1317.0" cy="379.0" r="1.6" fill="#f8d8f0"/>
<circle cx="1298.3" cy="413.8" r="2.4" fill="#f8d8f0"/>
<circle cx="1316.4" cy="413.3" r="2.0" fill="#ffffff"/>
<circle cx="1304.2" cy="387.7" r="2.6" fill="#ffffff"/>
<circle cx="1305.5" cy="408.4" r="3.0" fill="#f8d8f0"/>
<circle cx="1321.8" cy="449.5" r="1.5" fill="#f8d8f0"/>
<circle cx="1306.1" cy="427.2" r="3.0" fill="#ffffff"/>
<circle cx="1311.7" cy="407.4" r="2.7" fill="#f4c8e8"/>
<circle cx="1304.5" cy="425.1" r="1.5" fill="#fbe4f4"/>
<circle cx="1319.6" cy="451.6" r="1.6" fill="#fbe4f4"/>
<circle cx="1322.2" cy="415.8" r="2.6" fill="#ffffff"/>
<circle cx="1324.8" cy="400.2" r="2.0" fill="#ffffff"/>
<circle cx="1319.0" cy="389.9" r="1.9" fill="#f4c8e8"/>
<circle cx="1324.2" cy="441.2" r="2.6" fill="#fbe4f4"/>
<circle cx="1323.9" cy="400.3" r="1.7" fill="#ffffff"/>
<circle cx="1325.9" cy="378.8" r="1.6" fill="#fbe4f4"/>
<circle cx="1318.7" cy="420.8" r="2.7" fill="#fbe4f4"/>
<circle cx="1313.1" cy="400.1" r="1.8" fill="#f8d8f0"/>
<circle cx="1309.1" cy="378.1" r="3.0" fill="#fbe4f4"/>
<circle cx="1324.0" cy="400.9" r="2.1" fill="#ffffff"/>
<circle cx="1323.9" cy="444.9" r="1.6" fill="#f4c8e8"/>
<circle cx="1307.9" cy="421.5" r="1.5" fill="#fbe4f4"/>
<circle cx="1305.8" cy="410.7" r="1.9" fill="#f4c8e8"/>
<circle cx="1314.4" cy="408.3" r="1.8" fill="#fbe4f4"/>
<circle cx="1320.2" cy="421.6" r="2.1" fill="#f4c8e8"/>
<circle cx="1303.7" cy="404.2" r="2.1" fill="#f4c8e8"/>
<circle cx="1326.0" cy="376.4" r="2.9" fill="#f4c8e8"/>
<circle cx="1307.9" cy="382.1" r="1.7" fill="#ffffff"/>
<circle cx="1313.1" cy="451.0" r="2.0" fill="#fbe4f4"/>
<circle cx="1313.9" cy="422.6" r="2.7" fill="#ffffff"/>
<circle cx="1304.8" cy="407.1" r="2.1" fill="#f8d8f0"/>
<circle cx="1317.8" cy="448.2" r="1.9" fill="#ffffff"/>
<circle cx="1308.8" cy="440.5" r="2.4" fill="#f8d8f0"/>
<circle cx="1325.4" cy="387.3" r="2.3" fill="#f4c8e8"/>
<circle cx="1310.7" cy="440.7" r="2.0" fill="#ffffff"/>
<circle cx="1317.9" cy="373.5" r="1.6" fill="#ffffff"/>
<circle cx="1313.7" cy="382.6" r="1.8" fill="#ffffff"/>
<circle cx="1313.5" cy="376.3" r="2.0" fill="#f8d8f0"/>
<circle cx="1320.3" cy="374.5" r="2.0" fill="#f4c8e8"/>
<circle cx="1308.3" cy="405.3" r="1.7" fill="#ffffff"/>
<circle cx="1297.7" cy="417.0" r="2.2" fill="#ffffff"/>
<circle cx="1308.1" cy="373.3" r="2.8" fill="#fbe4f4"/>
<circle cx="1304.0" cy="406.9" r="2.8" fill="#f8d8f0"/>
<circle cx="1308.7" cy="364.7" r="2.6" fill="#f4c8e8"/>
<circle cx="1305.7" cy="419.8" r="2.9" fill="#f8d8f0"/>
<circle cx="1310.9" cy="366.6" r="2.5" fill="#f4c8e8"/>
<circle cx="1311.3" cy="383.5" r="3.0" fill="#ffffff"/>
<circle cx="1317.4" cy="395.4" r="3.0" fill="#fbe4f4"/>
<circle cx="1324.1" cy="400.3" r="2.4" fill="#f8d8f0"/>
<circle cx="1308.4" cy="443.4" r="1.7" fill="#f8d8f0"/>
<circle cx="1321.9" cy="364.7" r="2.3" fill="#fbe4f4"/>
<circle cx="1301.1" cy="398.4" r="2.7" fill="#fbe4f4"/>
<circle cx="1323.8" cy="393.9" r="2.6" fill="#f8d8f0"/>
<circle cx="1315.9" cy="383.8" r="2.1" fill="#f4c8e8"/>
<circle cx="1306.7" cy="374.4" r="2.3" fill="#fbe4f4"/>
<circle cx="1322.0" cy="389.1" r="1.8" fill="#f8d8f0"/>
<circle cx="1314.3" cy="417.1" r="2.4" fill="#fbe4f4"/>
<circle cx="1310.2" cy="381.7" r="2.5" fill="#f4c8e8"/>
<circle cx="1307.2" cy="372.4" r="2.2" fill="#f4c8e8"/>
<circle cx="1299.1" cy="398.4" r="2.0" fill="#f8d8f0"/>
<circle cx="1305.2" cy="436.5" r="1.8" fill="#fbe4f4"/>
<circle cx="1310.5" cy="445.2" r="2.2" fill="#f8d8f0"/>
<circle cx="1313.1" cy="367.2" r="2.6" fill="#f8d8f0"/>
<circle cx="1315.0" cy="373.8" r="1.9" fill="#ffffff"/>
<circle cx="1324.4" cy="379.4" r="2.0" fill="#ffffff"/>
<circle cx="1308.8" cy="410.8" r="2.0" fill="#f4c8e8"/>
<circle cx="1308.5" cy="438.3" r="2.3" fill="#f4c8e8"/>
<circle cx="1298.6" cy="390.5" r="3.0" fill="#fbe4f4"/>
<circle cx="1319.1" cy="447.5" r="2.9" fill="#f8d8f0"/>
<circle cx="1325.3" cy="437.1" r="1.9" fill="#f8d8f0"/>
<circle cx="1310.8" cy="370.0" r="2.5" fill="#fbe4f4"/>
<circle cx="1312.0" cy="374.6" r="2.3" fill="#f4c8e8"/>
<circle cx="1321.4" cy="402.8" r="2.5" fill="#f8d8f0"/>
<circle cx="1299.8" cy="419.7" r="2.3" fill="#f4c8e8"/>
<circle cx="1303.1" cy="423.6" r="1.5" fill="#f8d8f0"/>
<circle cx="1319.8" cy="396.4" r="1.9" fill="#f8d8f0"/>
<circle cx="1318.6" cy="371.6" r="2.0" fill="#f4c8e8"/>
<circle cx="1322.2" cy="430.6" r="2.2" fill="#f4c8e8"/>
<circle cx="1300.4" cy="406.0" r="2.4" fill="#f8d8f0"/>
<circle cx="1322.6" cy="441.9" r="2.7" fill="#f4c8e8"/>
<circle cx="1313.2" cy="374.7" r="1.7" fill="#f4c8e8"/>
<circle cx="1314.8" cy="419.9" r="2.6" fill="#ffffff"/>
<circle cx="1316.9" cy="381.7" r="2.4" fill="#fbe4f4"/>
<circle cx="1311.0" cy="426.9" r="2.3" fill="#ffffff"/>
<circle cx="1313.1" cy="445.3" r="2.1" fill="#fbe4f4"/>
<circle cx="1318.1" cy="449.7" r="2.2" fill="#f4c8e8"/>
<circle cx="1313.7" cy="383.3" r="1.9" fill="#f8d8f0"/>
<circle cx="1320.1" cy="408.2" r="2.6" fill="#fbe4f4"/>
<circle cx="1323.2" cy="404.0" r="2.1" fill="#ffffff"/>
<circle cx="1305.5" cy="377.4" r="2.0" fill="#fbe4f4"/>
<circle cx="1308.3" cy="373.6" r="2.3" fill="#fbe4f4"/>
<circle cx="1315.0" cy="382.6" r="2.6" fill="#fbe4f4"/>
<circle cx="1309.7" cy="442.8" r="2.2" fill="#f4c8e8"/>
<circle cx="1316.5" cy="420.6" r="2.6" fill="#f8d8f0"/>
<circle cx="1309.7" cy="368.9" r="2.3" fill="#f8d8f0"/>
<circle cx="1303.1" cy="416.7" r="1.8" fill="#ffffff"/>
<circle cx="1322.7" cy="378.2" r="2.5" fill="#ffffff"/>
<circle cx="1324.2" cy="433.3" r="2.1" fill="#f8d8f0"/>
<circle cx="1323.0" cy="443.8" r="2.6" fill="#f8d8f0"/>
<circle cx="1322.0" cy="404.3" r="2.1" fill="#f8d8f0"/>
<circle cx="1308.1" cy="415.8" r="2.9" fill="#f8d8f0"/>
<circle cx="1323.8" cy="424.7" r="2.4" fill="#f8d8f0"/>
<circle cx="1322.2" cy="405.9" r="1.8" fill="#f4c8e8"/>
<circle cx="1307.3" cy="431.6" r="1.8" fill="#f8d8f0"/>
<circle cx="1311.0" cy="417.3" r="2.3" fill="#fbe4f4"/>
<circle cx="1309.0" cy="405.5" r="2.7" fill="#fbe4f4"/>
<circle cx="1319.4" cy="394.8" r="2.2" fill="#fbe4f4"/>
<circle cx="1303.2" cy="394.0" r="2.0" fill="#fbe4f4"/>
<circle cx="1314.3" cy="434.5" r="2.8" fill="#ffffff"/>
<circle cx="1319.2" cy="382.9" r="2.9" fill="#ffffff"/>
<circle cx="1311.3" cy="387.9" r="2.8" fill="#f8d8f0"/>
<circle cx="1318.3" cy="381.4" r="1.6" fill="#fbe4f4"/>
<circle cx="1309.9" cy="431.2" r="2.8" fill="#f4c8e8"/>
<circle cx="1324.8" cy="410.3" r="1.7" fill="#f4c8e8"/>
<circle cx="1317.9" cy="417.2" r="1.7" fill="#ffffff"/>
<circle cx="1322.1" cy="438.7" r="2.8" fill="#ffffff"/>
<circle cx="1310.7" cy="408.3" r="2.4" fill="#f4c8e8"/>
<circle cx="1304.4" cy="429.2" r="1.5" fill="#f4c8e8"/>
<circle cx="1321.9" cy="373.7" r="3.0" fill="#f4c8e8"/>
<circle cx="1313.8" cy="394.4" r="2.4" fill="#f4c8e8"/>
<circle cx="1315.3" cy="421.0" r="2.2" fill="#f8d8f0"/>
<circle cx="1305.7" cy="374.7" r="1.9" fill="#f4c8e8"/>
<circle cx="1315.8" cy="407.2" r="2.5" fill="#f8d8f0"/>
<circle cx="1310.1" cy="371.4" r="2.0" fill="#fbe4f4"/>
<circle cx="1309.5" cy="420.8" r="2.2" fill="#f4c8e8"/>
<circle cx="1303.2" cy="429.1" r="1.6" fill="#fbe4f4"/>
<circle cx="1299.7" cy="407.2" r="2.7" fill="#f8d8f0"/>
<circle cx="1324.2" cy="429.8" r="1.9" fill="#ffffff"/>
<circle cx="1312.7" cy="441.4" r="2.4" fill="#f8d8f0"/>
<circle cx="1310.0" cy="438.7" r="1.7" fill="#f8d8f0"/>
<circle cx="1305.5" cy="421.1" r="2.1" fill="#ffffff"/>
<circle cx="1325.4" cy="373.3" r="1.8" fill="#ffffff"/>
<circle cx="1321.8" cy="416.3" r="2.0" fill="#fbe4f4"/>
<circle cx="1306.5" cy="411.8" r="1.6" fill="#fbe4f4"/>
<circle cx="1315.3" cy="390.6" r="2.6" fill="#f8d8f0"/>
<circle cx="1323.4" cy="436.7" r="2.9" fill="#f8d8f0"/>
<circle cx="1318.1" cy="372.4" r="2.5" fill="#fbe4f4"/>
<circle cx="1308.4" cy="439.7" r="1.8" fill="#f8d8f0"/>
<circle cx="1317.3" cy="387.9" r="2.6" fill="#fbe4f4"/>
<circle cx="1311.6" cy="379.8" r="2.5" fill="#fbe4f4"/>
<circle cx="1309.6" cy="400.0" r="2.8" fill="#f4c8e8"/>
<circle cx="1325.2" cy="396.7" r="2.7" fill="#fbe4f4"/>
<circle cx="1315.0" cy="366.7" r="2.7" fill="#f4c8e8"/>
<circle cx="1313.9" cy="377.2" r="2.4" fill="#ffffff"/>
<circle cx="1310.4" cy="407.3" r="1.6" fill="#fbe4f4"/>
<circle cx="1306.2" cy="415.0" r="2.8" fill="#f8d8f0"/>
<circle cx="1321.0" cy="438.8" r="2.0" fill="#fbe4f4"/>
<circle cx="1322.9" cy="405.6" r="2.9" fill="#f4c8e8"/>
<circle cx="1300.3" cy="424.4" r="2.7" fill="#f4c8e8"/>
<circle cx="1310.8" cy="369.7" r="1.9" fill="#ffffff"/>
<circle cx="1317.0" cy="389.1" r="2.6" fill="#f4c8e8"/>
<circle cx="1320.1" cy="415.8" r="2.3" fill="#fbe4f4"/>
<circle cx="1322.2" cy="400.8" r="2.9" fill="#f8d8f0"/>
<circle cx="1322.6" cy="417.6" r="1.7" fill="#fbe4f4"/>
<circle cx="1319.2" cy="424.0" r="2.0" fill="#fbe4f4"/>
<circle cx="1313.3" cy="415.5" r="2.7" fill="#fbe4f4"/>
<circle cx="1320.6" cy="368.9" r="2.7" fill="#f8d8f0"/>
<circle cx="1302.5" cy="430.3" r="2.4" fill="#fbe4f4"/>
<circle cx="1316.4" cy="372.5" r="2.5" fill="#fbe4f4"/>
<circle cx="1310.9" cy="447.5" r="1.8" fill="#fbe4f4"/>
<circle cx="1315.5" cy="366.7" r="1.6" fill="#ffffff"/>
<circle cx="1300.1" cy="419.2" r="1.7" fill="#fbe4f4"/>
<circle cx="1323.8" cy="381.1" r="2.7" fill="#fbe4f4"/>
<circle cx="1313.2" cy="395.7" r="3.0" fill="#f4c8e8"/>
<circle cx="1323.6" cy="440.8" r="2.1" fill="#f8d8f0"/>
<circle cx="1325.7" cy="434.6" r="2.1" fill="#f8d8f0"/>
<circle cx="1305.7" cy="426.1" r="3.0" fill="#ffffff"/>
<circle cx="1308.2" cy="380.2" r="1.9" fill="#f4c8e8"/>
<circle cx="1322.2" cy="441.0" r="1.8" fill="#ffffff"/>
<circle cx="1307.1" cy="380.8" r="2.2" fill="#f4c8e8"/>
<circle cx="1322.7" cy="449.1" r="2.2" fill="#ffffff"/>
<circle cx="1321.7" cy="446.6" r="2.4" fill="#fbe4f4"/>
<circle cx="1318.7" cy="367.7" r="1.6" fill="#f8d8f0"/>
<circle cx="1311.7" cy="372.6" r="2.6" fill="#f4c8e8"/>
<circle cx="1310.0" cy="416.2" r="2.8" fill="#fbe4f4"/>
<circle cx="1311.3" cy="449.9" r="1.5" fill="#f4c8e8"/>
<circle cx="1310.2" cy="408.6" r="1.8" fill="#ffffff"/>
<circle cx="1306.9" cy="371.8" r="1.7" fill="#fbe4f4"/>
<circle cx="1306.7" cy="372.4" r="2.2" fill="#fbe4f4"/>
<circle cx="1321.3" cy="387.1" r="2.4" fill="#ffffff"/>
<circle cx="1307.8" cy="459.7" r="2.0" fill="#fef2fb"/>
<circle cx="1299.5" cy="456.1" r="1.9" fill="#fdf0fb"/>
<circle cx="1304.8" cy="460.1" r="1.6" fill="#fef1fb"/>
<circle cx="1203.0" cy="313.6" r="4.0" fill="#f08850"/>
<circle cx="1040.3" cy="431.8" r="4.0" fill="#30e070"/>
<circle cx="1133.0" cy="316.0" r="3.0" fill="#f8a8e0"/>
<circle cx="1212.0" cy="428.0" r="3.0" fill="#e83050"/>
<circle cx="923.0" cy="470.0" r="2.8" fill="#40b8f0"/>
<circle cx="929.0" cy="468.0" r="2.6" fill="#40b8f0"/>
</g>
<g stroke-width="0.9">
<circle cx="1194.4" cy="395.0" r="1.5" fill="#a58c6d" stroke="#fac27c"/>
<circle cx="1205.4" cy="372.1" r="1.3" fill="#a5856b" stroke="#fab379"/>
<circle cx="1205.5" cy="424.5" r="1.5" fill="#a5856b" stroke="#fab379"/>
<circle cx="1199.2" cy="274.3" r="1.3" fill="#a5896c" stroke="#fabb7a"/>
<circle cx="1190.5" cy="463.1" r="1.3" fill="#a58e6d" stroke="#fac77c"/>
<circle cx="1202.6" cy="197.2" r="1.3" fill="#a5876c" stroke="#fab67a"/>
<circle cx="1199.8" cy="277.5" r="1.3" fill="#a5896c" stroke="#fabb7a"/>
<circle cx="1206.7" cy="166.0" r="1.5" fill="#a5856b" stroke="#fab279"/>
<circle cx="1188.7" cy="426.1" r="1.6" fill="#a58f6d" stroke="#fac97c"/>
<circle cx="1191.6" cy="417.4" r="1.5" fill="#a58e6d" stroke="#fac57c"/>
<circle cx="1258.5" cy="196.4" r="1.6" fill="#a37487" stroke="#f48cb7"/>
<circle cx="1225.4" cy="289.4" r="1.7" fill="#a3726b" stroke="#f48879"/>
<circle cx="1206.0" cy="295.1" r="1.6" fill="#a5856b" stroke="#fab279"/>
<circle cx="1224.0" cy="385.8" r="1.5" fill="#a3736b" stroke="#f58a79"/>
<circle cx="1248.3" cy="188.2" r="1.3" fill="#a36577" stroke="#f46b93"/>
<circle cx="1197.0" cy="437.4" r="1.8" fill="#a58a6c" stroke="#fabe7b"/>
<circle cx="1229.5" cy="174.1" r="1.3" fill="#a36e6c" stroke="#f47e7a"/>
<circle cx="1238.2" cy="235.5" r="1.6" fill="#a3646e" stroke="#f46980"/>
<circle cx="1251.2" cy="239.8" r="1.3" fill="#a36a7c" stroke="#f4759d"/>
<circle cx="1210.0" cy="205.8" r="1.4" fill="#a4826b" stroke="#f8ab79"/>
<circle cx="1229.3" cy="301.3" r="1.4" fill="#a36e6c" stroke="#f47e7a"/>
<circle cx="1227.1" cy="465.5" r="1.3" fill="#a3706b" stroke="#f48379"/>
<circle cx="1223.5" cy="298.7" r="1.3" fill="#a3746b" stroke="#f58c79"/>
<circle cx="1247.7" cy="234.5" r="1.3" fill="#a36476" stroke="#f46991"/>
<circle cx="1243.3" cy="368.3" r="1.6" fill="#a35f70" stroke="#f45e83"/>
<circle cx="1243.9" cy="385.0" r="1.3" fill="#a35f70" stroke="#f45d84"/>
<circle cx="1236.9" cy="315.5" r="1.5" fill="#a3666e" stroke="#f46d7f"/>
<circle cx="1203.2" cy="451.8" r="1.3" fill="#a5876c" stroke="#fab67a"/>
<circle cx="1235.3" cy="313.8" r="1.3" fill="#a3676e" stroke="#f4707e"/>
<circle cx="1251.3" cy="195.4" r="2.0" fill="#a36a7c" stroke="#f4759e"/>
<circle cx="1188.3" cy="472.9" r="1.3" fill="#a58f6d" stroke="#fac97c"/>
<circle cx="1188.0" cy="203.0" r="1.4" fill="#a58f6d" stroke="#fac97c"/>
<circle cx="1257.5" cy="195.6" r="1.3" fill="#a37386" stroke="#f489b4"/>
<circle cx="1248.8" cy="436.4" r="1.3" fill="#a36578" stroke="#f46c95"/>
<circle cx="1209.9" cy="217.4" r="2.2" fill="#a4826b" stroke="#f8ab79"/>
<circle cx="1233.9" cy="251.8" r="2.3" fill="#a3696d" stroke="#f4737d"/>
<circle cx="1244.2" cy="238.2" r="1.4" fill="#a35f71" stroke="#f45e85"/>
<circle cx="1196.6" cy="257.4" r="1.5" fill="#a58a6c" stroke="#fabe7b"/>
<circle cx="1240.1" cy="168.5" r="1.4" fill="#a3626f" stroke="#f46581"/>
<circle cx="1235.5" cy="164.2" r="1.3" fill="#a3676e" stroke="#f4707e"/>
<circle cx="1240.1" cy="166.0" r="1.5" fill="#a3626f" stroke="#f46581"/>
<circle cx="1240.8" cy="180.9" r="1.8" fill="#a3626f" stroke="#f46482"/>
<circle cx="1234.6" cy="164.2" r="1.8" fill="#a3686e" stroke="#f4727e"/>
<circle cx="1239.4" cy="159.1" r="1.3" fill="#a3636f" stroke="#f46781"/>
<circle cx="1234.4" cy="171.0" r="1.5" fill="#a3696e" stroke="#f4737e"/>
<circle cx="1230.9" cy="176.8" r="1.9" fill="#a36c6c" stroke="#f47a7b"/>
<circle cx="1218.9" cy="417.7" r="1.3" fill="#a37263" stroke="#f58766"/>
<circle cx="1233.4" cy="413.7" r="1.9" fill="#a26165" stroke="#f3616b"/>
<circle cx="1232.5" cy="426.1" r="1.9" fill="#a26165" stroke="#f3636a"/>
<circle cx="1230.6" cy="393.3" r="1.3" fill="#a26464" stroke="#f36868"/>
<circle cx="1210.3" cy="424.7" r="1.9" fill="#a47c63" stroke="#f79e66"/>
<circle cx="1236.3" cy="418.6" r="1.3" fill="#a25d65" stroke="#f35a6c"/>
<circle cx="1229.6" cy="415.0" r="1.7" fill="#a26563" stroke="#f36b67"/>
<circle cx="1217.8" cy="424.2" r="2.2" fill="#a37363" stroke="#f58b66"/>
<circle cx="1221.6" cy="399.8" r="1.7" fill="#a36e63" stroke="#f48066"/>
<circle cx="1229.1" cy="393.5" r="2.1" fill="#a26563" stroke="#f36c67"/>
<circle cx="1211.4" cy="402.4" r="1.7" fill="#a47b63" stroke="#f79b66"/>
<circle cx="1219.6" cy="425.5" r="1.6" fill="#a37163" stroke="#f58666"/>
<circle cx="1218.3" cy="403.0" r="1.3" fill="#a37363" stroke="#f58966"/>
<circle cx="1226.7" cy="428.0" r="1.6" fill="#a26963" stroke="#f37366"/>
<circle cx="1212.8" cy="427.3" r="1.3" fill="#a47963" stroke="#f79766"/>
<circle cx="1239.7" cy="392.8" r="2.2" fill="#a25967" stroke="#f3516f"/>
<circle cx="1209.5" cy="406.8" r="2.0" fill="#a47d63" stroke="#f8a066"/>
<circle cx="1225.0" cy="426.3" r="1.6" fill="#a26a63" stroke="#f37766"/>
<circle cx="1209.6" cy="416.2" r="1.3" fill="#a47c63" stroke="#f89f66"/>
<circle cx="1216.6" cy="391.1" r="1.6" fill="#a47463" stroke="#f68d66"/>
<circle cx="1250.0" cy="395.2" r="1.6" fill="#a26377" stroke="#f36692"/>
<circle cx="1245.2" cy="413.3" r="1.9" fill="#a25c6e" stroke="#f35680"/>
<circle cx="1247.4" cy="403.6" r="1.8" fill="#a25f72" stroke="#f35d88"/>
<circle cx="1241.3" cy="398.8" r="1.9" fill="#a25c6b" stroke="#f35779"/>
<circle cx="1258.1" cy="411.6" r="1.3" fill="#a27085" stroke="#f383b1"/>
<circle cx="1237.1" cy="416.8" r="1.3" fill="#a2616a" stroke="#f36276"/>
<circle cx="1253.1" cy="409.7" r="2.1" fill="#a2687c" stroke="#f3729e"/>
<circle cx="1246.9" cy="416.5" r="2.0" fill="#a25e71" stroke="#f35b86"/>
<circle cx="1245.6" cy="415.0" r="2.6" fill="#a25c6f" stroke="#f35781"/>
<circle cx="1242.3" cy="399.4" r="2.5" fill="#a25b6c" stroke="#f3557a"/>
<circle cx="1258.4" cy="412.7" r="1.3" fill="#a27085" stroke="#f384b2"/>
</g>
<rect x="866.2" y="264" width="39.5" height="112.2" fill="none" stroke="#eee" stroke-width="1.5"/>
<rect x="831.5" y="355.2" width="28.6" height="110" fill="none" stroke="#111" stroke-width="1.3"/>
<rect x="1285.8" y="359.8" width="45" height="113" fill="none" stroke="#eee" stroke-width="1.5"/>
<path d="M829.5,519.0 830.0,517.3 833.2,500.5 838.0,486.0 845.3,476.4 852.5,472.5 862.1,469.2 869.4,462.0 874.2,452.3 879.0,437.9 882.8,418.6 886.2,394.5 891.0,370.4 898.3,356.0 907.9,343.9 915.8,335.7 921.0,330.0 927.2,324.0 932.0,318.0 936.3,312.0 941.6,306.8 947.3,305.0 956.0,304.0 969.4,300.2 978.9,298.6 1000.0,297.0 1031.5,294.0 1063.0,291.4 1094.6,287.6 1126.0,285.1 1157.6,282.9 1180.0,280.7 1201.5,278.7 1233.0,275.5 1258.2,272.4 1277.0,268.6 1289.7,264.8 1299.0,260.7 1303.9,254.4 1307.0,246.5 1310.2,230.8 1313.3,215.0 1316.5,199.3 1319.6,180.4 1322.8,161.5 1325.0,152.0" fill="none" stroke="#d42020" stroke-width="2.6" stroke-opacity="1" stroke-linejoin="round" stroke-linecap="round" />
<path d="M833.4,170.0 835.3,173.9 839.6,174.5 836.5,177.5 837.2,181.8 833.4,179.8 829.6,181.8 830.3,177.5 827.2,174.5 831.5,173.9Z" fill="#d42a3a" stroke="#e84050" stroke-width="0.8" />
<path d="M833.4,173.2 834.3,175.5 836.8,175.7 834.9,177.3 835.5,179.7 833.4,178.4 831.3,179.7 831.9,177.3 830.0,175.7 832.5,175.5Z" fill="#ffffff" stroke="none" stroke-width="0" />
<path d="M874.0,314.0 876.1,318.2 880.7,318.8 877.3,322.1 878.1,326.7 874.0,324.5 869.9,326.7 870.7,322.1 867.3,318.8 871.9,318.2Z" fill="#d42a3a" stroke="#e84050" stroke-width="0.8" />
<path d="M874.0,317.4 875.0,319.9 877.7,320.1 875.6,321.8 876.3,324.4 874.0,323.0 871.7,324.4 872.4,321.8 870.3,320.1 873.0,319.9Z" fill="#ffffff" stroke="none" stroke-width="0" />
<path d="M877.0,309.5 878.9,313.4 883.2,314.0 880.1,317.0 880.8,321.3 877.0,319.2 873.2,321.3 873.9,317.0 870.8,314.0 875.1,313.4Z" fill="#d42a3a" stroke="#e84050" stroke-width="0.8" />
<path d="M877.0,312.7 877.9,315.0 880.4,315.2 878.5,316.8 879.1,319.2 877.0,317.9 874.9,319.2 875.5,316.8 873.6,315.2 876.1,315.0Z" fill="#ffffff" stroke="none" stroke-width="0" />
<path d="M887.0,324.7 889.4,329.5 894.6,330.2 890.8,333.9 891.7,339.2 887.0,336.7 882.3,339.2 883.2,333.9 879.4,330.2 884.6,329.5Z" fill="#d42a3a" stroke="#e84050" stroke-width="0.8" />
<path d="M887.0,328.6 888.2,331.4 891.2,331.6 888.9,333.6 889.6,336.6 887.0,335.0 884.4,336.6 885.1,333.6 882.8,331.6 885.8,331.4Z" fill="#ffffff" stroke="none" stroke-width="0" />
<path d="M930.0,305.3 931.8,308.9 935.7,309.4 932.9,312.2 933.5,316.2 930.0,314.3 926.5,316.2 927.1,312.2 924.3,309.4 928.2,308.9Z" fill="#d42a3a" stroke="#e84050" stroke-width="0.8" />
<path d="M930.0,308.3 930.9,310.4 933.1,310.6 931.4,312.1 931.9,314.3 930.0,313.1 928.1,314.3 928.6,312.1 926.9,310.6 929.1,310.4Z" fill="#ffffff" stroke="none" stroke-width="0" />
<path d="M969.4,291.9 971.2,295.5 975.1,296.0 972.3,298.8 972.9,302.8 969.4,300.9 965.9,302.8 966.5,298.8 963.7,296.0 967.6,295.5Z" fill="#d42a3a" stroke="#e84050" stroke-width="0.8" />
<path d="M969.4,294.9 970.3,297.0 972.5,297.2 970.8,298.7 971.3,300.9 969.4,299.7 967.5,300.9 968.0,298.7 966.3,297.2 968.5,297.0Z" fill="#ffffff" stroke="none" stroke-width="0" />
<path d="M957.0,427.5 958.9,431.4 963.2,432.0 960.1,435.0 960.8,439.3 957.0,437.2 953.2,439.3 953.9,435.0 950.8,432.0 955.1,431.4Z" fill="#d42a3a" stroke="#e84050" stroke-width="0.8" />
<path d="M957.0,430.7 957.9,433.0 960.4,433.2 958.5,434.8 959.1,437.2 957.0,435.9 954.9,437.2 955.5,434.8 953.6,433.2 956.1,433.0Z" fill="#ffffff" stroke="none" stroke-width="0" />
<path d="M1018.5,355.0 1020.1,358.3 1023.7,358.8 1021.1,361.3 1021.7,364.9 1018.5,363.2 1015.3,364.9 1015.9,361.3 1013.3,358.8 1016.9,358.3Z" fill="#d42a3a" stroke="#e84050" stroke-width="0.8" />
<path d="M1018.5,357.8 1019.3,359.7 1021.4,359.9 1019.8,361.2 1020.3,363.2 1018.5,362.2 1016.7,363.2 1017.2,361.2 1015.6,359.9 1017.7,359.7Z" fill="#ffffff" stroke="none" stroke-width="0" />
<path d="M1113.0,364.9 1115.2,369.4 1120.1,370.1 1116.6,373.6 1117.4,378.5 1113.0,376.1 1108.6,378.5 1109.4,373.6 1105.9,370.1 1110.8,369.4Z" fill="#d42a3a" stroke="#e84050" stroke-width="0.8" />
<path d="M1113.0,368.6 1114.1,371.2 1116.9,371.4 1114.8,373.3 1115.4,376.0 1113.0,374.6 1110.6,376.0 1111.2,373.3 1109.1,371.4 1111.9,371.2Z" fill="#ffffff" stroke="none" stroke-width="0" />
<path d="M831.8,391.2 833.9,395.4 838.5,396.0 835.1,399.3 835.9,403.9 831.8,401.7 827.7,403.9 828.5,399.3 825.1,396.0 829.7,395.4Z" fill="#d42a3a" stroke="#e84050" stroke-width="0.8" />
<path d="M831.8,394.6 832.8,397.1 835.5,397.3 833.4,399.0 834.1,401.6 831.8,400.2 829.5,401.6 830.2,399.0 828.1,397.3 830.8,397.1Z" fill="#ffffff" stroke="none" stroke-width="0" />
<path d="M840.6,394.5 842.5,398.4 846.8,399.0 843.7,402.0 844.4,406.3 840.6,404.2 836.8,406.3 837.5,402.0 834.4,399.0 838.7,398.4Z" fill="#d42a3a" stroke="#e84050" stroke-width="0.8" />
<path d="M840.6,397.7 841.5,400.0 844.0,400.2 842.1,401.8 842.7,404.2 840.6,402.9 838.5,404.2 839.1,401.8 837.2,400.2 839.7,400.0Z" fill="#ffffff" stroke="none" stroke-width="0" />
<path d="M1314.0,373.4 1315.9,377.9 1320.7,378.2 1317.0,381.4 1318.1,386.1 1314.0,383.5 1309.9,386.1 1311.0,381.4 1307.3,378.2 1312.1,377.9Z" fill="none" stroke="#e02030" stroke-width="1.3" />
<path d="M1318.0,379.0 1319.9,383.5 1324.7,383.8 1321.0,387.0 1322.1,391.7 1318.0,389.1 1313.9,391.7 1315.0,387.0 1311.3,383.8 1316.1,383.5Z" fill="none" stroke="#e02030" stroke-width="1.3" />
<path d="M1322.4,390.0 1324.3,394.5 1329.1,394.8 1325.4,398.0 1326.5,402.7 1322.4,400.1 1318.3,402.7 1319.4,398.0 1315.7,394.8 1320.5,394.5Z" fill="none" stroke="#e02030" stroke-width="1.3" />
<path d="M1304.0,406.6 1305.6,410.4 1309.7,410.7 1306.6,413.4 1307.5,417.5 1304.0,415.3 1300.5,417.5 1301.4,413.4 1298.3,410.7 1302.4,410.4Z" fill="none" stroke="#e02030" stroke-width="1.3" />
<path d="M1319.6,412.5 1322.2,418.9 1329.1,419.4 1323.9,423.9 1325.5,430.6 1319.6,427.0 1313.7,430.6 1315.3,423.9 1310.1,419.4 1317.0,418.9Z" fill="none" stroke="#e02030" stroke-width="1.3" />
<path d="M1322.4,398.0 1324.0,401.8 1328.1,402.1 1325.0,404.8 1325.9,408.9 1322.4,406.7 1318.9,408.9 1319.8,404.8 1316.7,402.1 1320.8,401.8Z" fill="none" stroke="#e02030" stroke-width="1.3" />
</g>
<path d="M829,99.5 H1325.5 V519.5 H829Z" fill="none" stroke="#111" stroke-width="1.2"/>
<path d="M1325.5,99.5 V519.5 H829" fill="none" stroke="#000" stroke-width="1.8"/>
<text x="974.7" y="127.3" font-size="24.5" fill="#fff" textLength="204.3" lengthAdjust="spacingAndGlyphs" stroke="#fff" stroke-width="0.3">Temporal Evolution</text>
<text x="1018.5" y="289.3" font-size="22" fill="#f2f020" font-style="italic" textLength="222.7" lengthAdjust="spacingAndGlyphs" transform="rotate(-4.97 1018.5 289.3)" stroke="#f2f020" stroke-width="0.45">Cumulative Number of M≥1.5</text>
<text x="837.5" y="244.2" font-size="18.5" fill="#fff" textLength="43.8" lengthAdjust="spacingAndGlyphs" stroke="#fff" stroke-width="0.35">84-85</text>
<text x="859.6" y="501.3" font-size="18.5" fill="#fff" textLength="42.7" lengthAdjust="spacingAndGlyphs" stroke="#fff" stroke-width="0.35">80-81</text>
<text x="1270.7" y="342.9" font-size="18.5" fill="#fff" textLength="44.0" lengthAdjust="spacingAndGlyphs" stroke="#fff" stroke-width="0.35">16-18</text>
<line x1="844" y1="253" x2="856.7" y2="263.9" stroke="#000" stroke-width="1.3"/>
<path d="M862,268.5 L854.6,266.3 L858.8,261.5Z" fill="#000"/>
<line x1="868.4" y1="480.6" x2="854.7" y2="473.0" stroke="#000" stroke-width="1.3"/>
<path d="M848.6,469.6 L856.2,470.2 L853.2,475.8Z" fill="#000"/>
<line x1="1277" y1="351" x2="1279.9" y2="359.8" stroke="#000" stroke-width="1.3"/>
<path d="M1282,366.5 L1276.9,360.8 L1282.8,358.9Z" fill="#000"/>
<line x1="881.4" y1="520" x2="881.4" y2="525.5" stroke="#333" stroke-width="0.8"/>
<text x="881.4" y="544.0" font-size="18.5" fill="#222" text-anchor="middle" >1985</text>
<line x1="946.6" y1="520" x2="946.6" y2="525.5" stroke="#333" stroke-width="0.8"/>
<text x="946.6" y="544.0" font-size="18.5" fill="#222" text-anchor="middle" >1990</text>
<line x1="1011.8" y1="520" x2="1011.8" y2="525.5" stroke="#333" stroke-width="0.8"/>
<text x="1011.8" y="544.0" font-size="18.5" fill="#222" text-anchor="middle" >1995</text>
<line x1="1077.0" y1="520" x2="1077.0" y2="525.5" stroke="#333" stroke-width="0.8"/>
<text x="1077.0" y="544.0" font-size="18.5" fill="#222" text-anchor="middle" >2000</text>
<line x1="1142.2" y1="520" x2="1142.2" y2="525.5" stroke="#333" stroke-width="0.8"/>
<text x="1142.2" y="544.0" font-size="18.5" fill="#222" text-anchor="middle" >2005</text>
<line x1="1207.4" y1="520" x2="1207.4" y2="525.5" stroke="#333" stroke-width="0.8"/>
<text x="1207.4" y="544.0" font-size="18.5" fill="#222" text-anchor="middle" >2010</text>
<line x1="1272.6" y1="520" x2="1272.6" y2="525.5" stroke="#333" stroke-width="0.8"/>
<text x="1272.6" y="544.0" font-size="18.5" fill="#222" text-anchor="middle" >2015</text>
<line x1="881.4" y1="99.5" x2="881.4" y2="94.5" stroke="#333" stroke-width="0.8"/>
<line x1="946.6" y1="99.5" x2="946.6" y2="94.5" stroke="#333" stroke-width="0.8"/>
<line x1="1011.8" y1="99.5" x2="1011.8" y2="94.5" stroke="#333" stroke-width="0.8"/>
<line x1="1077.0" y1="99.5" x2="1077.0" y2="94.5" stroke="#333" stroke-width="0.8"/>
<line x1="1142.2" y1="99.5" x2="1142.2" y2="94.5" stroke="#333" stroke-width="0.8"/>
<line x1="1207.4" y1="99.5" x2="1207.4" y2="94.5" stroke="#333" stroke-width="0.8"/>
<line x1="1272.6" y1="99.5" x2="1272.6" y2="94.5" stroke="#333" stroke-width="0.8"/>
<line x1="1325.5" y1="519.0" x2="1331.5" y2="519.0" stroke="#333" stroke-width="0.8"/>
<text x="1357.0" y="525.5" font-size="18" fill="#222" text-anchor="middle" >0</text>
<line x1="1325.5" y1="414.0" x2="1331.5" y2="414.0" stroke="#333" stroke-width="0.8"/>
<text x="1357.0" y="420.5" font-size="18" fill="#222" text-anchor="middle" >500</text>
<line x1="1325.5" y1="309.0" x2="1331.5" y2="309.0" stroke="#333" stroke-width="0.8"/>
<text x="1357.0" y="315.5" font-size="18" fill="#222" text-anchor="middle" >1000</text>
<line x1="1325.5" y1="204.0" x2="1331.5" y2="204.0" stroke="#333" stroke-width="0.8"/>
<text x="1357.0" y="210.5" font-size="18" fill="#222" text-anchor="middle" >1500</text>
<line x1="1325.5" y1="99.0" x2="1331.5" y2="99.0" stroke="#333" stroke-width="0.8"/>
<text x="1357.0" y="105.5" font-size="18" fill="#222" text-anchor="middle" >2000</text>
<text x="1077.0" y="571.0" font-size="20.5" fill="#222" text-anchor="middle" >Year</text>
<text x="1386" y="212" font-size="19.5" fill="#111" textLength="233" lengthAdjust="spacingAndGlyphs" transform="rotate(90 1386 212)">Cumulative Number of M≥1.5</text>
</svg></body></html>
